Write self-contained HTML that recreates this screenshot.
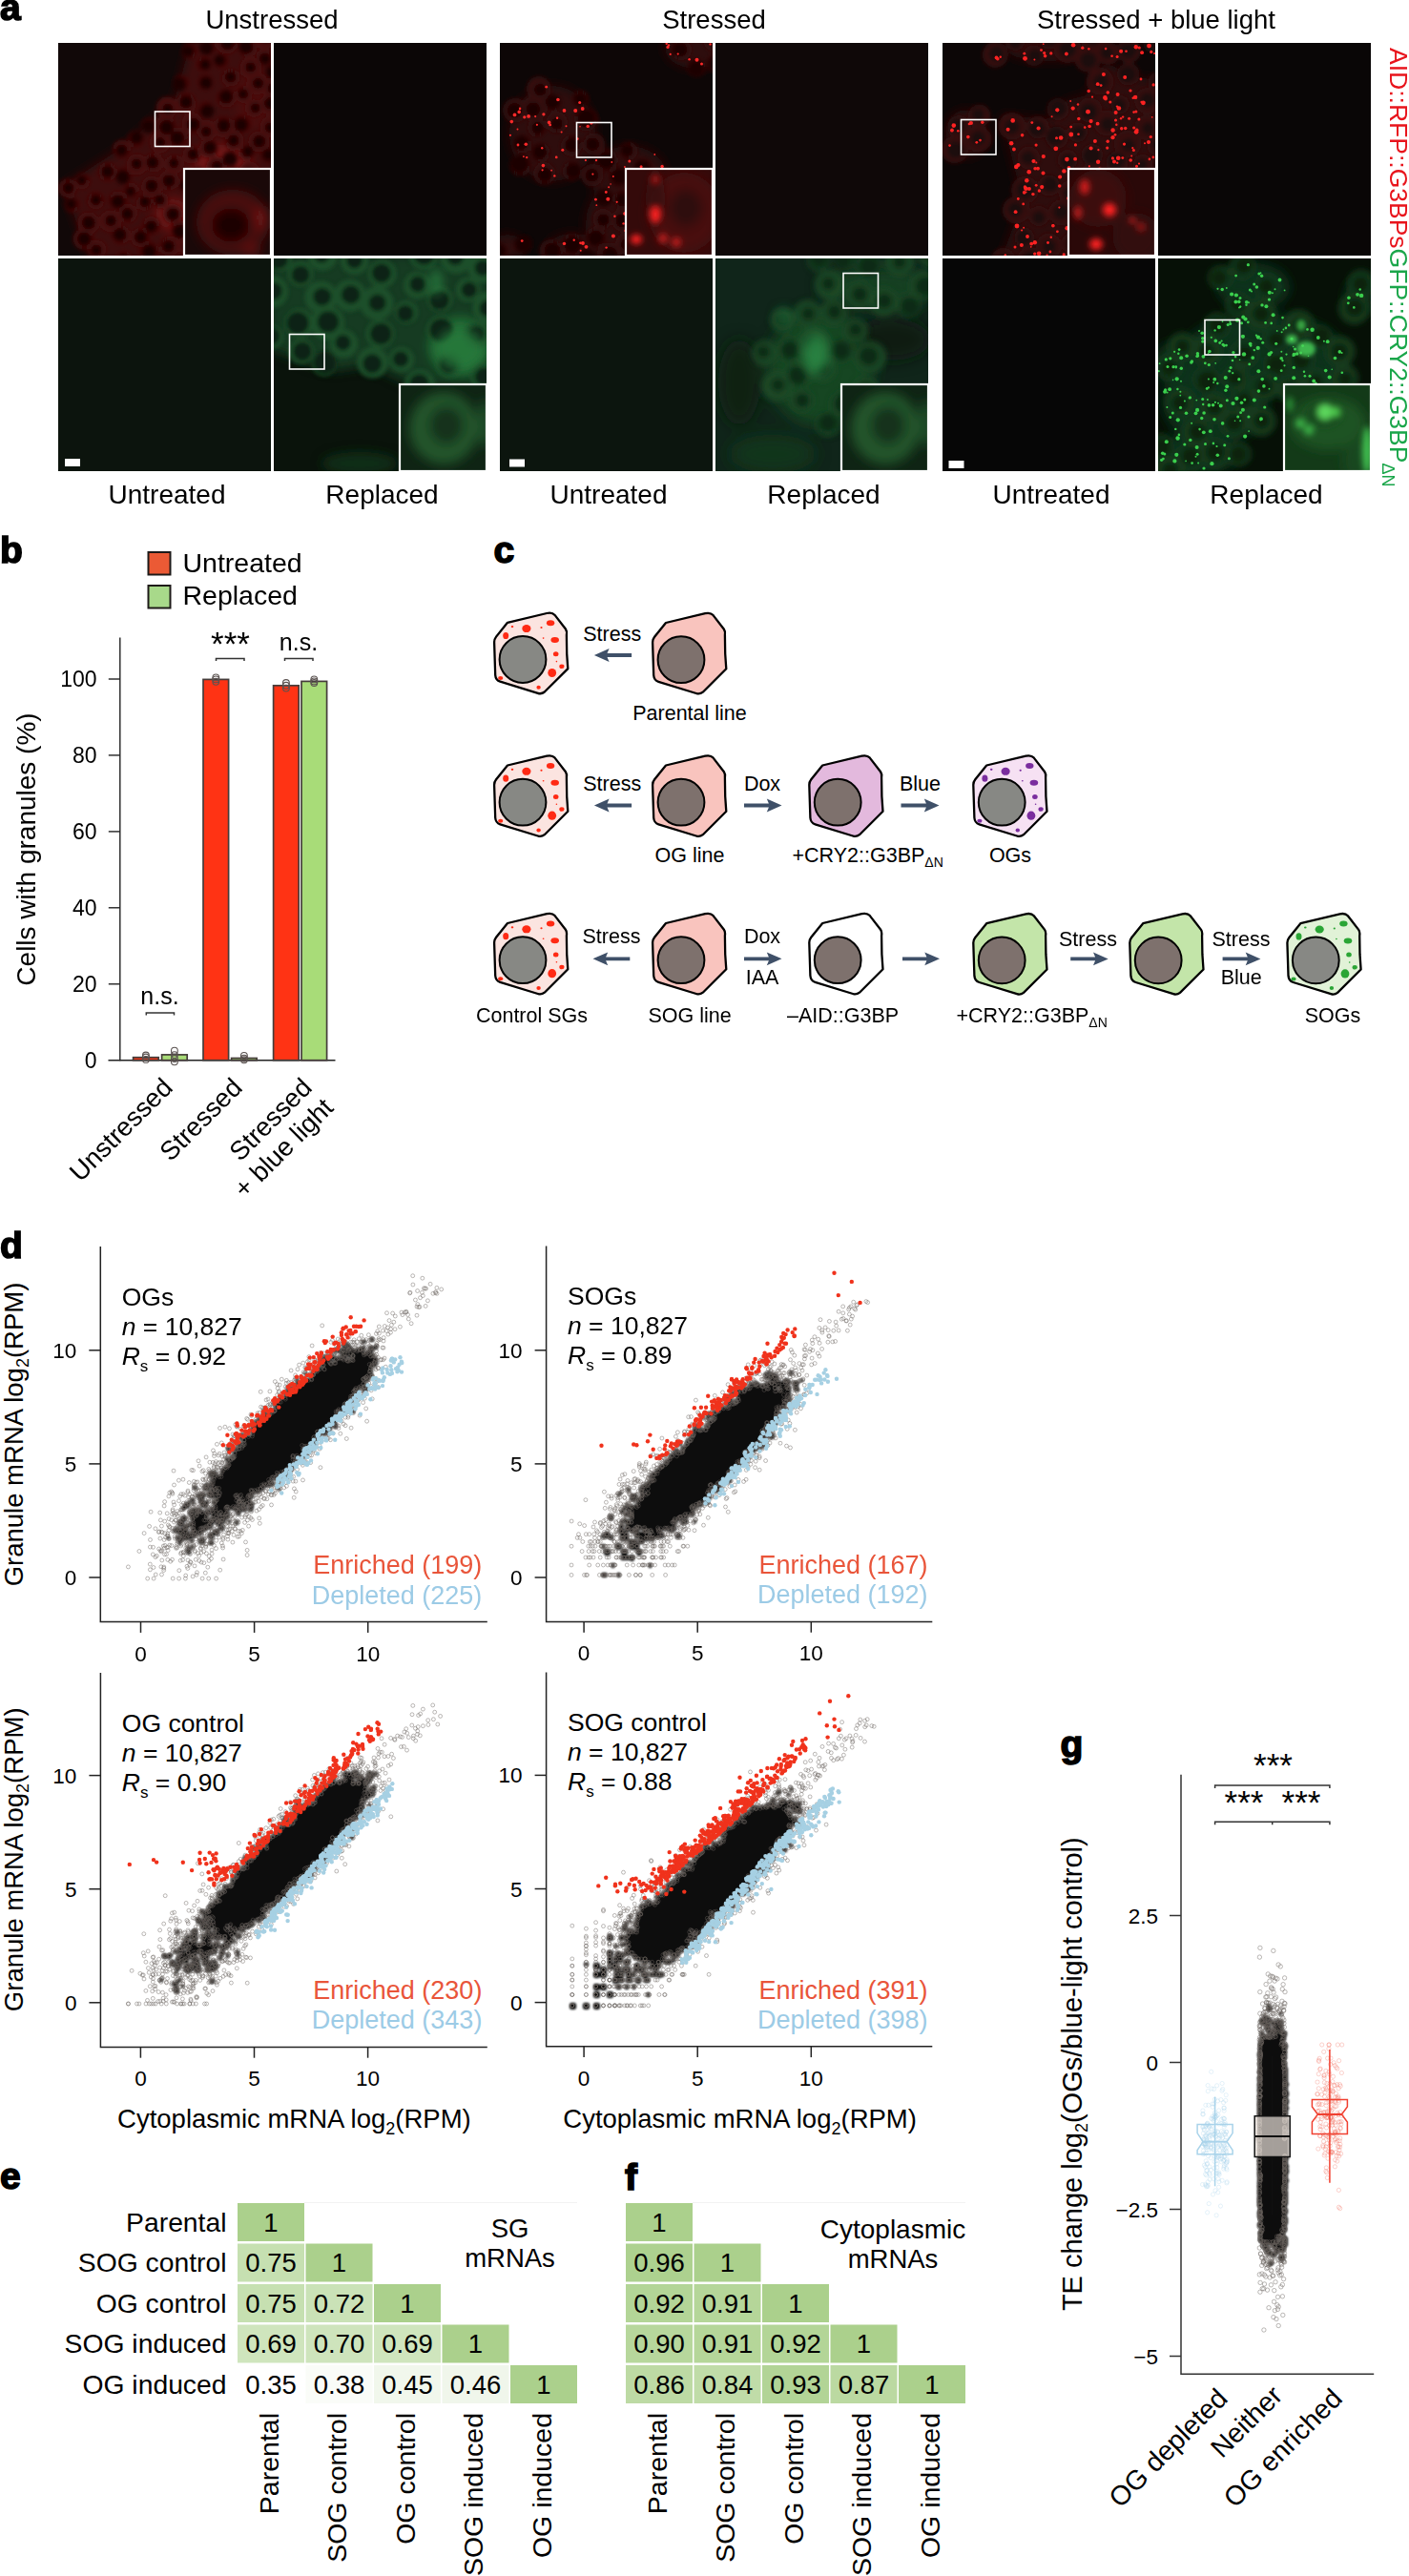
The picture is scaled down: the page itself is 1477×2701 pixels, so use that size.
<!DOCTYPE html>
<html><head><meta charset="utf-8"><title>Figure</title>
<style>
html,body{margin:0;padding:0;background:#fff;}
body{width:1477px;height:2701px;overflow:hidden;}
svg{display:block;font-family:"Liberation Sans", sans-serif;}
</style></head><body>
<svg width="1477" height="2701" viewBox="0 0 1477 2701">
<rect width="1477" height="2701" fill="#fff"/>
<defs>
<filter id="b1" x="-50%" y="-50%" width="200%" height="200%"><feGaussianBlur stdDeviation="0.6"/></filter>
<filter id="b2" x="-50%" y="-50%" width="200%" height="200%"><feGaussianBlur stdDeviation="2"/></filter>
<filter id="b3" x="-50%" y="-50%" width="200%" height="200%"><feGaussianBlur stdDeviation="3"/></filter>
<filter id="b6" x="-50%" y="-50%" width="200%" height="200%"><feGaussianBlur stdDeviation="6"/></filter>
<filter id="b8" x="-50%" y="-50%" width="200%" height="200%"><feGaussianBlur stdDeviation="8"/></filter>
</defs>
<clipPath id="cpg1tl"><rect x="61" y="45" width="223" height="223"/></clipPath>
<g clip-path="url(#cpg1tl)"><g transform="translate(61 45)"><rect x="0" y="0" width="223" height="223" fill="#110808"/><g filter="url(#b6)"><polygon points="140,-5 230,-5 230,230 35,230 5,150 70,108 122,60" fill="#3d0c0c"/><ellipse cx="172" cy="125" rx="30" ry="18" fill="#7a1616" opacity="0.85"/><ellipse cx="120" cy="180" rx="18" ry="16" fill="#801818" opacity="0.75"/><ellipse cx="205" cy="60" rx="20" ry="30" fill="#4e0f0f" opacity="0.8"/><ellipse cx="140" cy="200" rx="25" ry="20" fill="#5a1010" opacity="0.7"/></g><g filter="url(#b2)"><circle cx="100.4" cy="125.4" r="10.1" fill="#4a0e0e"/><circle cx="210.3" cy="103.5" r="10.9" fill="#4a0e0e"/><circle cx="141.8" cy="179.8" r="8.5" fill="#4a0e0e"/><circle cx="156.6" cy="4.8" r="7.9" fill="#4a0e0e"/><circle cx="223.9" cy="219.8" r="9.3" fill="#4a0e0e"/><circle cx="147.4" cy="138.4" r="8.2" fill="#4a0e0e"/><circle cx="97.6" cy="191.3" r="9.3" fill="#4a0e0e"/><circle cx="116" cy="144.2" r="10.4" fill="#4a0e0e"/><circle cx="190.8" cy="159.9" r="8.4" fill="#4a0e0e"/><circle cx="173.5" cy="88.3" r="10.8" fill="#4a0e0e"/><circle cx="192.3" cy="85.1" r="9.5" fill="#4a0e0e"/><circle cx="218.2" cy="192.4" r="9.5" fill="#4a0e0e"/><circle cx="223.4" cy="87.6" r="11.4" fill="#4a0e0e"/><circle cx="176.4" cy="57.9" r="9.8" fill="#4a0e0e"/><circle cx="219.6" cy="171.6" r="8.2" fill="#4a0e0e"/><circle cx="180.7" cy="36.4" r="9.4" fill="#4a0e0e"/><circle cx="125.3" cy="99.2" r="10.5" fill="#4a0e0e"/><circle cx="39.4" cy="165.5" r="9" fill="#4a0e0e"/><circle cx="25.5" cy="145" r="7.9" fill="#4a0e0e"/><circle cx="65.9" cy="201.2" r="9.6" fill="#4a0e0e"/><circle cx="51.6" cy="135.1" r="9.7" fill="#4a0e0e"/><circle cx="81.6" cy="100.6" r="8.7" fill="#4a0e0e"/><circle cx="128.9" cy="196.9" r="10.3" fill="#4a0e0e"/><circle cx="167.3" cy="214.1" r="8.2" fill="#4a0e0e"/><circle cx="40.8" cy="216.4" r="9.5" fill="#4a0e0e"/><circle cx="200.6" cy="135.6" r="11.1" fill="#4a0e0e"/><circle cx="54.9" cy="186.9" r="11.4" fill="#4a0e0e"/><circle cx="134" cy="63.4" r="10.6" fill="#4a0e0e"/><circle cx="208.7" cy="42.5" r="11.4" fill="#4a0e0e"/><circle cx="223.5" cy="148.1" r="10.4" fill="#4a0e0e"/><circle cx="107.4" cy="165.2" r="8.3" fill="#4a0e0e"/><circle cx="69.3" cy="227.9" r="9.2" fill="#4a0e0e"/><circle cx="166.7" cy="159" r="10.3" fill="#4a0e0e"/><circle cx="77" cy="154.6" r="7.7" fill="#4a0e0e"/><circle cx="140.6" cy="84.1" r="10.9" fill="#4a0e0e"/><circle cx="166.3" cy="130.4" r="11.1" fill="#4a0e0e"/><circle cx="14.5" cy="169.8" r="7.7" fill="#4a0e0e"/><circle cx="157.7" cy="110.9" r="9.7" fill="#4a0e0e"/><circle cx="190" cy="192.8" r="9.9" fill="#4a0e0e"/><circle cx="198.4" cy="4.7" r="9.8" fill="#4a0e0e"/><circle cx="154.5" cy="41.4" r="7.8" fill="#4a0e0e"/><circle cx="82.8" cy="127.5" r="10.9" fill="#4a0e0e"/><circle cx="163.2" cy="185.7" r="8.5" fill="#4a0e0e"/><circle cx="144.5" cy="162.2" r="7.8" fill="#4a0e0e"/><circle cx="120.1" cy="179.3" r="10.2" fill="#4a0e0e"/><circle cx="73.1" cy="178.6" r="9.8" fill="#4a0e0e"/><circle cx="216.2" cy="15" r="8.5" fill="#4a0e0e"/><circle cx="62.6" cy="164.8" r="9.6" fill="#4a0e0e"/><circle cx="220.6" cy="117.1" r="8.4" fill="#4a0e0e"/><circle cx="128.5" cy="41.8" r="8.1" fill="#4a0e0e"/><circle cx="176.6" cy="0.3" r="11.2" fill="#4a0e0e"/><circle cx="155.1" cy="70" r="7.9" fill="#4a0e0e"/><circle cx="205.3" cy="68.6" r="9.4" fill="#4a0e0e"/><circle cx="201.8" cy="26.2" r="11.3" fill="#4a0e0e"/><circle cx="190.8" cy="225.7" r="7.8" fill="#4a0e0e"/><circle cx="137.4" cy="8.6" r="8.3" fill="#4a0e0e"/><circle cx="85.9" cy="204.1" r="10" fill="#4a0e0e"/><circle cx="116.9" cy="213.4" r="10.4" fill="#4a0e0e"/><circle cx="98.2" cy="150.6" r="10.8" fill="#4a0e0e"/><circle cx="183.5" cy="140.3" r="10.9" fill="#4a0e0e"/><circle cx="147.3" cy="225.5" r="7.7" fill="#4a0e0e"/><circle cx="180.7" cy="121" r="7.8" fill="#4a0e0e"/><circle cx="121.8" cy="127.2" r="10" fill="#4a0e0e"/><circle cx="197.5" cy="115.3" r="8" fill="#4a0e0e"/><circle cx="106.9" cy="104.2" r="10.9" fill="#4a0e0e"/><circle cx="31.7" cy="188.9" r="11.3" fill="#4a0e0e"/><circle cx="26.6" cy="205.6" r="10.8" fill="#4a0e0e"/><circle cx="112.1" cy="87.4" r="11" fill="#4a0e0e"/><circle cx="150.1" cy="196.9" r="7.8" fill="#4a0e0e"/><circle cx="216.6" cy="-4.9" r="11.2" fill="#4a0e0e"/><circle cx="66.7" cy="111.1" r="9.4" fill="#4a0e0e"/><circle cx="139.7" cy="117.4" r="9.3" fill="#4a0e0e"/><circle cx="222.3" cy="64.5" r="11.1" fill="#4a0e0e"/><circle cx="94.7" cy="86.4" r="7.7" fill="#4a0e0e"/><circle cx="95.2" cy="219.3" r="10.4" fill="#4a0e0e"/><circle cx="225.5" cy="29.5" r="8" fill="#4a0e0e"/><circle cx="170.5" cy="18.8" r="7.6" fill="#4a0e0e"/><circle cx="204.6" cy="210.3" r="10.2" fill="#4a0e0e"/><circle cx="179" cy="177.3" r="7.9" fill="#4a0e0e"/><circle cx="114.2" cy="67.7" r="11.2" fill="#4a0e0e"/><circle cx="10" cy="152.3" r="9.7" fill="#4a0e0e"/><circle cx="183.8" cy="209.4" r="10" fill="#4a0e0e"/><circle cx="153" cy="22.1" r="7.7" fill="#4a0e0e"/><circle cx="135.7" cy="212.9" r="9.3" fill="#4a0e0e"/><circle cx="133.5" cy="149" r="7.7" fill="#4a0e0e"/><circle cx="200.5" cy="174.7" r="8.5" fill="#4a0e0e"/><circle cx="90.1" cy="167.5" r="8.4" fill="#4a0e0e"/><circle cx="184.4" cy="102.6" r="10" fill="#4a0e0e"/><circle cx="156" cy="91.7" r="10.6" fill="#4a0e0e"/><circle cx="226.2" cy="47.2" r="11.2" fill="#4a0e0e"/><circle cx="194.6" cy="54.1" r="8.8" fill="#4a0e0e"/><circle cx="208.4" cy="157.2" r="9.7" fill="#4a0e0e"/><circle cx="68.7" cy="139.4" r="8.6" fill="#4a0e0e"/><circle cx="98.9" cy="125.3" r="6.5" fill="#1e0606"/><circle cx="210.7" cy="103.3" r="6.8" fill="#1e0606"/><circle cx="141" cy="179.7" r="5.6" fill="#1e0606"/><circle cx="155.5" cy="5" r="7.5" fill="#1e0606"/><circle cx="224.8" cy="219" r="5.8" fill="#1e0606"/><circle cx="146.6" cy="139" r="7.7" fill="#1e0606"/><circle cx="97.4" cy="192.5" r="6.5" fill="#1e0606"/><circle cx="116.1" cy="144.6" r="6.7" fill="#1e0606"/><circle cx="189.7" cy="161.1" r="6.2" fill="#1e0606"/><circle cx="173.5" cy="86.8" r="7.1" fill="#1e0606"/><circle cx="191.9" cy="85.7" r="7.4" fill="#1e0606"/><circle cx="218.4" cy="193.4" r="5.4" fill="#1e0606"/><circle cx="222.1" cy="88.8" r="5.5" fill="#1e0606"/><circle cx="176" cy="56.6" r="7.3" fill="#1e0606"/><circle cx="219.4" cy="170.4" r="6.4" fill="#1e0606"/><circle cx="180.7" cy="35.8" r="6" fill="#1e0606"/><circle cx="125" cy="99.8" r="7.6" fill="#1e0606"/><circle cx="39.5" cy="164.8" r="5.7" fill="#1e0606"/><circle cx="24.7" cy="143.9" r="5.4" fill="#1e0606"/><circle cx="64.6" cy="201" r="7.2" fill="#1e0606"/><circle cx="51.6" cy="134.9" r="6.7" fill="#1e0606"/><circle cx="81.9" cy="99.6" r="7" fill="#1e0606"/><circle cx="127.6" cy="197.6" r="7.5" fill="#1e0606"/><circle cx="168.6" cy="214.1" r="6.6" fill="#1e0606"/><circle cx="39.9" cy="217.2" r="6" fill="#1e0606"/><circle cx="199.8" cy="137.1" r="6.6" fill="#1e0606"/><circle cx="55.2" cy="186.3" r="6" fill="#1e0606"/><circle cx="134" cy="61.9" r="7" fill="#1e0606"/><circle cx="209.6" cy="42.3" r="5.8" fill="#1e0606"/><circle cx="223.5" cy="148.5" r="6" fill="#1e0606"/><circle cx="106.3" cy="164.4" r="5.4" fill="#1e0606"/><circle cx="68.6" cy="226.8" r="5.9" fill="#1e0606"/><circle cx="168.2" cy="160.4" r="7.6" fill="#1e0606"/><circle cx="75.9" cy="155.6" r="5.3" fill="#1e0606"/><circle cx="141.5" cy="85.5" r="7.1" fill="#1e0606"/><circle cx="166.5" cy="129.3" r="5.8" fill="#1e0606"/><circle cx="13.6" cy="169.1" r="6" fill="#1e0606"/><circle cx="159.1" cy="109.7" r="6.9" fill="#1e0606"/><circle cx="189.1" cy="191.6" r="7.7" fill="#1e0606"/><circle cx="197" cy="3.9" r="7.8" fill="#1e0606"/><circle cx="154.8" cy="41.7" r="6.8" fill="#1e0606"/><circle cx="82.2" cy="126.8" r="5.7" fill="#1e0606"/><circle cx="164.6" cy="185.1" r="6.8" fill="#1e0606"/><circle cx="143.8" cy="163.7" r="6.9" fill="#1e0606"/><circle cx="120.2" cy="179.6" r="6.6" fill="#1e0606"/><circle cx="72.5" cy="179.2" r="6.4" fill="#1e0606"/><circle cx="216.7" cy="16.5" r="6.2" fill="#1e0606"/><circle cx="62.6" cy="166.2" r="7.3" fill="#1e0606"/><circle cx="220.4" cy="117.3" r="6.7" fill="#1e0606"/><circle cx="127" cy="43.1" r="7.5" fill="#1e0606"/><circle cx="177.6" cy="-0.3" r="7.7" fill="#1e0606"/><circle cx="156.1" cy="71.5" r="7.4" fill="#1e0606"/><circle cx="206.6" cy="68.1" r="5.2" fill="#1e0606"/><circle cx="201.7" cy="25.5" r="5.5" fill="#1e0606"/><circle cx="189.6" cy="226.6" r="5.3" fill="#1e0606"/><circle cx="136.1" cy="8.6" r="6.7" fill="#1e0606"/><circle cx="86.5" cy="203.6" r="6.8" fill="#1e0606"/><circle cx="115.6" cy="213.2" r="6.5" fill="#1e0606"/><circle cx="97.9" cy="149.7" r="6.7" fill="#1e0606"/><circle cx="184.9" cy="141.2" r="7.5" fill="#1e0606"/><circle cx="147" cy="224.1" r="5.3" fill="#1e0606"/><circle cx="180" cy="121.9" r="7.7" fill="#1e0606"/><circle cx="121.2" cy="125.9" r="5.3" fill="#1e0606"/><circle cx="198.8" cy="113.9" r="6.1" fill="#1e0606"/><circle cx="107" cy="104.2" r="5.4" fill="#1e0606"/><circle cx="31.9" cy="188.6" r="7.3" fill="#1e0606"/><circle cx="27.2" cy="205.6" r="7.7" fill="#1e0606"/><circle cx="113.6" cy="88.4" r="7.8" fill="#1e0606"/><circle cx="150.1" cy="196.5" r="7.4" fill="#1e0606"/><circle cx="218" cy="-6.3" r="6.6" fill="#1e0606"/><circle cx="66.4" cy="112.5" r="6.5" fill="#1e0606"/><circle cx="141.1" cy="116.7" r="5.8" fill="#1e0606"/><circle cx="222.4" cy="63.3" r="6.6" fill="#1e0606"/><circle cx="94.8" cy="87.3" r="7.4" fill="#1e0606"/><circle cx="95.3" cy="218.7" r="7.7" fill="#1e0606"/><circle cx="224.8" cy="30.6" r="7.2" fill="#1e0606"/><circle cx="169.5" cy="18.3" r="6.2" fill="#1e0606"/><circle cx="203.7" cy="211.7" r="5.8" fill="#1e0606"/><circle cx="179" cy="178.2" r="7.3" fill="#1e0606"/><circle cx="114.8" cy="69.2" r="5.9" fill="#1e0606"/><circle cx="10.6" cy="152.1" r="6.3" fill="#1e0606"/><circle cx="184.6" cy="209.4" r="6.8" fill="#1e0606"/><circle cx="153.9" cy="22.6" r="5.8" fill="#1e0606"/><circle cx="136.5" cy="214.3" r="5.4" fill="#1e0606"/><circle cx="132.7" cy="149.2" r="5.7" fill="#1e0606"/><circle cx="200" cy="175.7" r="5.9" fill="#1e0606"/><circle cx="90.8" cy="166.6" r="5.7" fill="#1e0606"/><circle cx="183.7" cy="102.2" r="6.1" fill="#1e0606"/><circle cx="155.1" cy="93.1" r="5.5" fill="#1e0606"/><circle cx="225" cy="47.6" r="5.7" fill="#1e0606"/><circle cx="193.9" cy="53.4" r="5.3" fill="#1e0606"/><circle cx="208.7" cy="158.5" r="7" fill="#1e0606"/><circle cx="67.8" cy="140.6" r="7.5" fill="#1e0606"/></g></g></g>
<clipPath id="cpg1tr"><rect x="287" y="45" width="223" height="223"/></clipPath>
<g clip-path="url(#cpg1tr)"><g transform="translate(287 45)"><rect x="0" y="0" width="223" height="223" fill="#0b0606"/></g></g>
<clipPath id="cpg1bl"><rect x="61" y="271" width="223" height="223"/></clipPath>
<g clip-path="url(#cpg1bl)"><g transform="translate(61 271)"><rect x="0" y="0" width="223" height="223" fill="#0c140d"/></g></g>
<clipPath id="cpg1br"><rect x="287" y="271" width="223" height="223"/></clipPath>
<g clip-path="url(#cpg1br)"><g transform="translate(287 271)"><rect x="0" y="0" width="223" height="223" fill="#0a130b"/><g filter="url(#b6)"><polygon points="-5,-5 230,-5 230,135 150,135 100,112 60,118 -5,95" fill="#173a20"/><ellipse cx="195" cy="92" rx="32" ry="30" fill="#237038" opacity="0.9"/><ellipse cx="90" cy="215" rx="40" ry="12" fill="#143318" opacity="0.8"/></g><g filter="url(#b2)"><circle cx="150.3" cy="28.2" r="14.2" fill="#1f5029"/><circle cx="-2.5" cy="82.3" r="12.2" fill="#1f5029"/><circle cx="28.9" cy="97.5" r="13.1" fill="#1f5029"/><circle cx="73.5" cy="89.3" r="14.7" fill="#1f5029"/><circle cx="191.3" cy="-0.7" r="16.7" fill="#1f5029"/><circle cx="113.6" cy="16.2" r="14.7" fill="#1f5029"/><circle cx="26.5" cy="67.8" r="15" fill="#1f5029"/><circle cx="133.9" cy="106.1" r="13.1" fill="#1f5029"/><circle cx="84.6" cy="2.1" r="14.8" fill="#1f5029"/><circle cx="183.8" cy="111.5" r="13.8" fill="#1f5029"/><circle cx="79.9" cy="39.1" r="16.8" fill="#1f5029"/><circle cx="174.6" cy="74.6" r="14.3" fill="#1f5029"/><circle cx="51.3" cy="-3" r="15.7" fill="#1f5029"/><circle cx="203.4" cy="32.8" r="12.7" fill="#1f5029"/><circle cx="28" cy="16.1" r="13.3" fill="#1f5029"/><circle cx="212.8" cy="80.2" r="14.6" fill="#1f5029"/><circle cx="221.6" cy="124.1" r="15.4" fill="#1f5029"/><circle cx="111.5" cy="79.1" r="14.9" fill="#1f5029"/><circle cx="138.9" cy="56.3" r="12.1" fill="#1f5029"/><circle cx="-2" cy="34.9" r="17" fill="#1f5029"/><circle cx="49.3" cy="40.7" r="17" fill="#1f5029"/><circle cx="218.6" cy="10.4" r="15.2" fill="#1f5029"/><circle cx="153" cy="132.6" r="16.1" fill="#1f5029"/><circle cx="157" cy="-3.7" r="15.2" fill="#1f5029"/><circle cx="6" cy="0.3" r="13" fill="#1f5029"/><circle cx="103.5" cy="109.1" r="16.3" fill="#1f5029"/><circle cx="52.8" cy="110.6" r="12.6" fill="#1f5029"/><circle cx="107.9" cy="46.9" r="17.6" fill="#1f5029"/><circle cx="174.1" cy="42.7" r="13.4" fill="#1f5029"/><circle cx="225.7" cy="52" r="17.2" fill="#1f5029"/><circle cx="56.3" cy="67.7" r="17.8" fill="#1f5029"/><circle cx="150.9" cy="27" r="8.5" fill="#0e2412"/><circle cx="-3.2" cy="81.4" r="9.6" fill="#0e2412"/><circle cx="29.9" cy="97.4" r="10" fill="#0e2412"/><circle cx="72.5" cy="88.2" r="8.2" fill="#0e2412"/><circle cx="190.2" cy="-1.6" r="8.6" fill="#0e2412"/><circle cx="112.9" cy="15.3" r="10.1" fill="#0e2412"/><circle cx="25.1" cy="67.7" r="11.6" fill="#0e2412"/><circle cx="133" cy="105.5" r="8.3" fill="#0e2412"/><circle cx="84.6" cy="1.9" r="8.5" fill="#0e2412"/><circle cx="183.3" cy="111" r="9.2" fill="#0e2412"/><circle cx="80.7" cy="37.9" r="9.8" fill="#0e2412"/><circle cx="175.4" cy="75" r="11.9" fill="#0e2412"/><circle cx="50.3" cy="-3.9" r="8.3" fill="#0e2412"/><circle cx="204.8" cy="33" r="8.2" fill="#0e2412"/><circle cx="28.1" cy="17" r="9.6" fill="#0e2412"/><circle cx="212.2" cy="79.6" r="8.9" fill="#0e2412"/><circle cx="220.5" cy="123.9" r="9.8" fill="#0e2412"/><circle cx="112.3" cy="79" r="11.3" fill="#0e2412"/><circle cx="137.9" cy="57.5" r="8.7" fill="#0e2412"/><circle cx="-0.6" cy="34.1" r="9.3" fill="#0e2412"/><circle cx="50.7" cy="40.1" r="9.4" fill="#0e2412"/><circle cx="219" cy="10" r="8.4" fill="#0e2412"/><circle cx="152.4" cy="131.2" r="10.3" fill="#0e2412"/><circle cx="157.6" cy="-4.3" r="11.2" fill="#0e2412"/><circle cx="4.5" cy="0.6" r="10.6" fill="#0e2412"/><circle cx="103.2" cy="110.3" r="10.1" fill="#0e2412"/><circle cx="53.4" cy="109.6" r="11.9" fill="#0e2412"/><circle cx="108.6" cy="46.5" r="9" fill="#0e2412"/><circle cx="173.6" cy="43.6" r="10.4" fill="#0e2412"/><circle cx="224.6" cy="52.3" r="9" fill="#0e2412"/><circle cx="57" cy="66.5" r="11.3" fill="#0e2412"/></g><g filter="url(#b6)"><ellipse cx="195" cy="95" rx="25" ry="22" fill="#267a3c" opacity="0.8"/><ellipse cx="170" cy="25" rx="6" ry="14" fill="#2a8a45" opacity="0.8"/></g></g></g>
<clipPath id="cpg2tl"><rect x="524" y="45" width="223" height="223"/></clipPath>
<g clip-path="url(#cpg2tl)"><g transform="translate(524 45)"><rect x="0" y="0" width="223" height="223" fill="#0d0606"/><g filter="url(#b6)" fill="#2e0a0a"><ellipse cx="55" cy="95" rx="45" ry="50"/><ellipse cx="135" cy="140" rx="40" ry="32"/><ellipse cx="115" cy="190" rx="25" ry="38"/><ellipse cx="205" cy="5" rx="32" ry="22"/><ellipse cx="75" cy="215" rx="25" ry="15"/><ellipse cx="8" cy="215" rx="18" ry="14"/></g><g filter="url(#b2)"><circle cx="24.1" cy="211.2" r="9.3" fill="#361010"/><circle cx="74.9" cy="107.9" r="10.8" fill="#361010"/><circle cx="130.3" cy="165" r="10.6" fill="#361010"/><circle cx="23.5" cy="106" r="9.6" fill="#361010"/><circle cx="90.4" cy="80.1" r="12.2" fill="#361010"/><circle cx="46.7" cy="136.9" r="11.4" fill="#361010"/><circle cx="124.7" cy="140.1" r="10.4" fill="#361010"/><circle cx="76.1" cy="211" r="11.1" fill="#361010"/><circle cx="75.8" cy="134.2" r="10" fill="#361010"/><circle cx="154.2" cy="152.5" r="10.2" fill="#361010"/><circle cx="89.8" cy="225.5" r="10.6" fill="#361010"/><circle cx="190" cy="7.2" r="10.8" fill="#361010"/><circle cx="55.1" cy="62.5" r="9" fill="#361010"/><circle cx="53.8" cy="218.4" r="12.1" fill="#361010"/><circle cx="206" cy="26.1" r="9.6" fill="#361010"/><circle cx="112.2" cy="123" r="11.4" fill="#361010"/><circle cx="135.1" cy="113.4" r="9.3" fill="#361010"/><circle cx="109.6" cy="162.1" r="9.5" fill="#361010"/><circle cx="225.5" cy="-3.5" r="12.2" fill="#361010"/><circle cx="59.6" cy="83.3" r="11.1" fill="#361010"/><circle cx="96.8" cy="138.8" r="11.6" fill="#361010"/><circle cx="84.6" cy="58.5" r="8.8" fill="#361010"/><circle cx="100.8" cy="203.4" r="10.5" fill="#361010"/><circle cx="38.7" cy="88.9" r="9.6" fill="#361010"/><circle cx="149.8" cy="130.5" r="9.3" fill="#361010"/><circle cx="40.9" cy="48" r="12.7" fill="#361010"/><circle cx="129.4" cy="185.6" r="12.4" fill="#361010"/><circle cx="16.1" cy="70.7" r="12.8" fill="#361010"/><circle cx="42.7" cy="114.8" r="9.8" fill="#361010"/><circle cx="107.8" cy="184.3" r="10.4" fill="#361010"/><circle cx="114.3" cy="222.2" r="12.6" fill="#361010"/><circle cx="132.4" cy="210.5" r="11.2" fill="#361010"/><circle cx="-2" cy="219.2" r="9.7" fill="#361010"/><circle cx="225.7" cy="21.4" r="9.2" fill="#361010"/><circle cx="21.4" cy="128.2" r="11.1" fill="#361010"/><circle cx="98.7" cy="106.2" r="11.4" fill="#361010"/><circle cx="172.3" cy="141.8" r="9.6" fill="#361010"/><circle cx="36.1" cy="69" r="13.1" fill="#361010"/><circle cx="25.3" cy="210.5" r="9.4" fill="#1a0606"/><circle cx="75.7" cy="106.9" r="7.7" fill="#1a0606"/><circle cx="129.2" cy="164.6" r="7.4" fill="#1a0606"/><circle cx="22.4" cy="104.8" r="7.5" fill="#1a0606"/><circle cx="90.6" cy="79.1" r="9.5" fill="#1a0606"/><circle cx="47.1" cy="138.1" r="7.5" fill="#1a0606"/><circle cx="125.5" cy="140.1" r="8.8" fill="#1a0606"/><circle cx="76.2" cy="211.5" r="8.9" fill="#1a0606"/><circle cx="76.9" cy="134.2" r="7.9" fill="#1a0606"/><circle cx="154.2" cy="153.9" r="6.5" fill="#1a0606"/><circle cx="91" cy="225.1" r="9.1" fill="#1a0606"/><circle cx="189" cy="7.1" r="7.8" fill="#1a0606"/><circle cx="55.4" cy="61.7" r="7.7" fill="#1a0606"/><circle cx="54.9" cy="217.7" r="8.8" fill="#1a0606"/><circle cx="205.7" cy="26.9" r="8.1" fill="#1a0606"/><circle cx="111.5" cy="123" r="9.3" fill="#1a0606"/><circle cx="133.6" cy="112.7" r="6.5" fill="#1a0606"/><circle cx="108.7" cy="162.4" r="9" fill="#1a0606"/><circle cx="226.1" cy="-3.6" r="7.7" fill="#1a0606"/><circle cx="59.6" cy="84.7" r="6.4" fill="#1a0606"/><circle cx="96.6" cy="138.8" r="7.2" fill="#1a0606"/><circle cx="84.4" cy="59" r="6.6" fill="#1a0606"/><circle cx="100.5" cy="204.5" r="8.3" fill="#1a0606"/><circle cx="39.5" cy="89.1" r="6.5" fill="#1a0606"/><circle cx="149.3" cy="131.4" r="8.7" fill="#1a0606"/><circle cx="42.3" cy="49.1" r="6.6" fill="#1a0606"/><circle cx="128.3" cy="186.3" r="7.4" fill="#1a0606"/><circle cx="15.3" cy="70.8" r="8" fill="#1a0606"/><circle cx="41.8" cy="114.4" r="7.5" fill="#1a0606"/><circle cx="108.4" cy="185.5" r="6.6" fill="#1a0606"/><circle cx="115.4" cy="221.7" r="8" fill="#1a0606"/><circle cx="133.4" cy="211.2" r="6.8" fill="#1a0606"/><circle cx="-1.2" cy="218" r="7.6" fill="#1a0606"/><circle cx="225.3" cy="21.9" r="7.1" fill="#1a0606"/><circle cx="20.6" cy="126.9" r="9.3" fill="#1a0606"/><circle cx="97.3" cy="106.1" r="7.2" fill="#1a0606"/><circle cx="173.1" cy="141.2" r="7.6" fill="#1a0606"/><circle cx="34.9" cy="69.6" r="7.5" fill="#1a0606"/></g><g filter="url(#b1)"><g fill="#ff2a2a"><circle cx="101" cy="123.1" r="1.2"/><circle cx="170.1" cy="129.5" r="1.7"/><circle cx="27.3" cy="106.2" r="1.8"/><circle cx="81.4" cy="100.6" r="1.3"/><circle cx="122.7" cy="166.8" r="1.1"/><circle cx="135.8" cy="124.1" r="1.5"/><circle cx="77.7" cy="206.7" r="1.2"/><circle cx="131.7" cy="196.9" r="1.4"/><circle cx="186.7" cy="11.6" r="1.1"/><circle cx="64.6" cy="93.6" r="1"/><circle cx="15.5" cy="75.4" r="1.9"/><circle cx="129.6" cy="189.4" r="1.2"/><circle cx="90.5" cy="213.8" r="1.9"/><circle cx="28.2" cy="120.1" r="1.2"/><circle cx="86.7" cy="69" r="1.9"/><circle cx="65.8" cy="112.2" r="1.5"/><circle cx="211.5" cy="22" r="1.5"/><circle cx="113.3" cy="163.8" r="2"/><circle cx="117.3" cy="125" r="0.9"/><circle cx="79.2" cy="70.9" r="2"/><circle cx="10.9" cy="96.8" r="1.1"/><circle cx="52.7" cy="85.9" r="1.4"/><circle cx="19" cy="107" r="1.4"/><circle cx="173.8" cy="139.8" r="1.7"/><circle cx="155.9" cy="152.3" r="1.1"/><circle cx="137.1" cy="183.9" r="2"/><circle cx="220.6" cy="1.4" r="1.2"/><circle cx="69.5" cy="87.2" r="1"/><circle cx="67.5" cy="210.4" r="1.7"/><circle cx="45.9" cy="74.8" r="1.6"/><circle cx="44.6" cy="133.3" r="1.1"/><circle cx="84.5" cy="209.8" r="1.4"/><circle cx="97.4" cy="137.6" r="1.1"/><circle cx="38.9" cy="85.8" r="1.1"/><circle cx="21.1" cy="68.9" r="1.3"/><circle cx="89.9" cy="123.1" r="1.1"/><circle cx="60.1" cy="78.7" r="1.2"/><circle cx="114.1" cy="151.2" r="1"/><circle cx="151.8" cy="145.7" r="1"/><circle cx="23.2" cy="207.6" r="1.4"/><circle cx="162.3" cy="117" r="0.9"/><circle cx="118.8" cy="140.1" r="1"/><circle cx="118.9" cy="202.6" r="2"/><circle cx="87" cy="210" r="1.9"/><circle cx="177" cy="2.5" r="1.2"/><circle cx="136.8" cy="135.4" r="1.7"/><circle cx="18.5" cy="90.4" r="1"/><circle cx="120.4" cy="181.7" r="1.2"/><circle cx="95.9" cy="84.3" r="1.4"/><circle cx="59.2" cy="119.9" r="1.4"/><circle cx="130.8" cy="179" r="1.7"/><circle cx="84" cy="87.8" r="0.8"/><circle cx="148.1" cy="129.7" r="1.5"/><circle cx="12.3" cy="82.6" r="1.8"/><circle cx="133.5" cy="154.5" r="1.8"/><circle cx="198.6" cy="17.2" r="1.2"/><circle cx="48.7" cy="46.2" r="1.4"/><circle cx="111.6" cy="214.6" r="1.2"/><circle cx="141.9" cy="141.8" r="1.2"/><circle cx="176" cy="4.4" r="1.6"/><circle cx="130.9" cy="130" r="0.9"/><circle cx="24.9" cy="119.2" r="0.9"/><circle cx="54.1" cy="133.7" r="0.9"/><circle cx="45.4" cy="128.6" r="1.8"/><circle cx="116.1" cy="148" r="0.8"/><circle cx="67.5" cy="70.9" r="1.9"/><circle cx="206.5" cy="17.8" r="2"/><circle cx="178.7" cy="11.9" r="1.1"/><circle cx="20.2" cy="72.4" r="1.8"/><circle cx="51.6" cy="83.4" r="1.8"/><circle cx="44.2" cy="110.3" r="1.2"/><circle cx="100.4" cy="164.2" r="1.4"/><circle cx="83.7" cy="62.5" r="1.5"/><circle cx="172.2" cy="150.7" r="2"/><circle cx="84.7" cy="217.7" r="1"/><circle cx="60.9" cy="59.5" r="1.8"/><circle cx="136.6" cy="165.9" r="1.7"/><circle cx="111.3" cy="156.5" r="1.4"/><circle cx="101.3" cy="170.2" r="0.9"/><circle cx="92.2" cy="87.4" r="1.7"/><circle cx="25.8" cy="77.8" r="1.6"/><circle cx="57.3" cy="139.4" r="1.2"/><circle cx="30.1" cy="76.9" r="1.9"/><circle cx="174.7" cy="0.8" r="1.2"/><circle cx="37.2" cy="77.1" r="1.1"/></g></g></g></g>
<clipPath id="cpg2tr"><rect x="750" y="45" width="223" height="223"/></clipPath>
<g clip-path="url(#cpg2tr)"><g transform="translate(750 45)"><rect x="0" y="0" width="223" height="223" fill="#0f0808"/></g></g>
<clipPath id="cpg2bl"><rect x="524" y="271" width="223" height="223"/></clipPath>
<g clip-path="url(#cpg2bl)"><g transform="translate(524 271)"><rect x="0" y="0" width="223" height="223" fill="#0c150e"/></g></g>
<clipPath id="cpg2br"><rect x="750" y="271" width="223" height="223"/></clipPath>
<g clip-path="url(#cpg2br)"><g transform="translate(750 271)"><rect x="0" y="0" width="223" height="223" fill="#10251a"/><g filter="url(#b8)"><ellipse cx="110" cy="115" rx="55" ry="60" fill="#1b4a26" opacity="0.9"/><ellipse cx="170" cy="30" rx="60" ry="22" fill="#1a4222" opacity="0.9"/><ellipse cx="185" cy="85" rx="40" ry="22" fill="#0c1c10" opacity="0.8"/><ellipse cx="25" cy="130" rx="22" ry="45" fill="#0d1f11" opacity="0.8"/><ellipse cx="60" cy="205" rx="45" ry="20" fill="#163a1e" opacity="0.7"/></g><g filter="url(#b3)"><circle cx="218.3" cy="27.7" r="14.2" fill="#1c4a26"/><circle cx="146.8" cy="75.5" r="12.2" fill="#1c4a26"/><circle cx="202.3" cy="49" r="12.6" fill="#1c4a26"/><circle cx="160" cy="6.3" r="12.6" fill="#1c4a26"/><circle cx="157.7" cy="137.7" r="13.5" fill="#1c4a26"/><circle cx="150.5" cy="38.1" r="13.6" fill="#1c4a26"/><circle cx="113" cy="115.5" r="13.5" fill="#1c4a26"/><circle cx="90.4" cy="149" r="11.8" fill="#1c4a26"/><circle cx="64.3" cy="133.8" r="15.7" fill="#1c4a26"/><circle cx="77.9" cy="95.6" r="12.6" fill="#1c4a26"/><circle cx="96.2" cy="57.7" r="13.6" fill="#1c4a26"/><circle cx="192.8" cy="2.7" r="15.2" fill="#1c4a26"/><circle cx="162.3" cy="103.2" r="16.3" fill="#1c4a26"/><circle cx="108.4" cy="2" r="11.3" fill="#1c4a26"/><circle cx="119.5" cy="27.6" r="14.8" fill="#1c4a26"/><circle cx="117.8" cy="173.9" r="12.5" fill="#1c4a26"/><circle cx="176.3" cy="45.6" r="14.5" fill="#1c4a26"/><circle cx="133.9" cy="152.6" r="13.1" fill="#1c4a26"/><circle cx="131" cy="97.5" r="11.7" fill="#1c4a26"/><circle cx="51.7" cy="99.3" r="13.2" fill="#1c4a26"/><circle cx="226.4" cy="-4.1" r="13.4" fill="#1c4a26"/><circle cx="102.8" cy="88.2" r="16.1" fill="#1c4a26"/><circle cx="124" cy="56.9" r="13.4" fill="#1c4a26"/><circle cx="134" cy="0.7" r="11.3" fill="#1c4a26"/><circle cx="70" cy="64.6" r="12.1" fill="#1c4a26"/><circle cx="87.7" cy="121" r="13.7" fill="#1c4a26"/><circle cx="219.7" cy="29" r="10.7" fill="#112a16"/><circle cx="146.8" cy="74.9" r="7.6" fill="#112a16"/><circle cx="203.3" cy="50" r="10.2" fill="#112a16"/><circle cx="160.6" cy="7.6" r="10.7" fill="#112a16"/><circle cx="157.5" cy="136.4" r="7.3" fill="#112a16"/><circle cx="151.2" cy="37.6" r="8.6" fill="#112a16"/><circle cx="111.7" cy="115.2" r="7.5" fill="#112a16"/><circle cx="90.9" cy="148.8" r="7.9" fill="#112a16"/><circle cx="65.5" cy="132.6" r="7.3" fill="#112a16"/><circle cx="78.2" cy="95.9" r="9.9" fill="#112a16"/><circle cx="97.2" cy="57.8" r="7.6" fill="#112a16"/><circle cx="192.9" cy="3.9" r="7.7" fill="#112a16"/><circle cx="160.9" cy="102.3" r="10.6" fill="#112a16"/><circle cx="108.5" cy="1.1" r="9.4" fill="#112a16"/><circle cx="118.2" cy="26.4" r="7.6" fill="#112a16"/><circle cx="117.9" cy="172.7" r="10.1" fill="#112a16"/><circle cx="177" cy="44.8" r="8.7" fill="#112a16"/><circle cx="134.6" cy="152.3" r="10.5" fill="#112a16"/><circle cx="131.7" cy="96.5" r="10.3" fill="#112a16"/><circle cx="50.2" cy="98" r="7.5" fill="#112a16"/><circle cx="226" cy="-5" r="9.4" fill="#112a16"/><circle cx="101.8" cy="89.2" r="8.5" fill="#112a16"/><circle cx="124.6" cy="56.1" r="8.1" fill="#112a16"/><circle cx="132.9" cy="1.4" r="10.2" fill="#112a16"/><circle cx="70.1" cy="64.3" r="8" fill="#112a16"/><circle cx="86.3" cy="122.3" r="10.2" fill="#112a16"/></g><g filter="url(#b6)"><ellipse cx="105" cy="100" rx="14" ry="22" fill="#2a8a45" opacity="0.85"/><ellipse cx="72" cy="62" rx="8" ry="10" fill="#23703a" opacity="0.7"/></g></g></g>
<clipPath id="cpg3tl"><rect x="988" y="45" width="223" height="223"/></clipPath>
<g clip-path="url(#cpg3tl)"><g transform="translate(988 45)"><rect x="0" y="0" width="223" height="223" fill="#0c0606"/><g filter="url(#b6)" fill="#2e0a0a"><polygon points="60,75 110,80 130,60 150,55 170,20 200,35 230,40 230,130 190,130 160,150 150,200 130,230 60,230 75,190 80,150 70,110"/><ellipse cx="25" cy="95" rx="22" ry="25"/><ellipse cx="110" cy="5" rx="45" ry="14"/><ellipse cx="200" cy="130" rx="25" ry="15"/></g><g filter="url(#b2)"><circle cx="86.5" cy="154.3" r="14.2" fill="#341010"/><circle cx="119.8" cy="99.3" r="11.6" fill="#341010"/><circle cx="91.1" cy="227.1" r="12.5" fill="#341010"/><circle cx="214" cy="88.9" r="12.7" fill="#341010"/><circle cx="131.3" cy="122.5" r="10.5" fill="#341010"/><circle cx="165" cy="40.2" r="14.2" fill="#341010"/><circle cx="72.9" cy="87.3" r="14.1" fill="#341010"/><circle cx="145.7" cy="189.8" r="12.1" fill="#341010"/><circle cx="152.2" cy="16.8" r="13.7" fill="#341010"/><circle cx="135.1" cy="157" r="13.2" fill="#341010"/><circle cx="17.3" cy="88" r="11.8" fill="#341010"/><circle cx="226.1" cy="40.9" r="10.3" fill="#341010"/><circle cx="101" cy="181.5" r="10.5" fill="#341010"/><circle cx="194" cy="105.8" r="13.9" fill="#341010"/><circle cx="76.2" cy="-2.4" r="10.3" fill="#341010"/><circle cx="186.2" cy="64.6" r="9.7" fill="#341010"/><circle cx="37.8" cy="101" r="13.6" fill="#341010"/><circle cx="156.9" cy="117.2" r="11" fill="#341010"/><circle cx="111.5" cy="213" r="13.2" fill="#341010"/><circle cx="121" cy="69.5" r="11.3" fill="#341010"/><circle cx="154.4" cy="70.4" r="13" fill="#341010"/><circle cx="90.3" cy="120.5" r="11.7" fill="#341010"/><circle cx="195.2" cy="8.3" r="12.6" fill="#341010"/><circle cx="100.1" cy="88.5" r="11.5" fill="#341010"/><circle cx="124.6" cy="177.8" r="13.2" fill="#341010"/><circle cx="95.7" cy="13.2" r="10.8" fill="#341010"/><circle cx="55.3" cy="12.4" r="13.3" fill="#341010"/><circle cx="85.7" cy="204.1" r="10.3" fill="#341010"/><circle cx="111.5" cy="149.5" r="11.1" fill="#341010"/><circle cx="194.8" cy="32.8" r="11.7" fill="#341010"/><circle cx="136.3" cy="210.1" r="11.3" fill="#341010"/><circle cx="210.2" cy="127.3" r="10.4" fill="#341010"/><circle cx="214.8" cy="60.7" r="13.4" fill="#341010"/><circle cx="157" cy="140.7" r="14.3" fill="#341010"/><circle cx="172" cy="83.9" r="13.2" fill="#341010"/><circle cx="141.5" cy="93.7" r="10.4" fill="#341010"/><circle cx="183.1" cy="125.2" r="11.4" fill="#341010"/><circle cx="158.4" cy="-4.9" r="13.5" fill="#341010"/><circle cx="130.7" cy="7" r="13.9" fill="#341010"/><circle cx="220.1" cy="0" r="10" fill="#341010"/><circle cx="63.7" cy="227.4" r="12.5" fill="#341010"/><circle cx="225.2" cy="107.8" r="10.5" fill="#341010"/><circle cx="12.6" cy="112" r="14.1" fill="#341010"/><circle cx="77.2" cy="175.3" r="14.1" fill="#341010"/><circle cx="38.7" cy="76.4" r="11.6" fill="#341010"/><circle cx="154.9" cy="169.8" r="12.7" fill="#341010"/><circle cx="173.6" cy="10.9" r="11.9" fill="#341010"/><circle cx="112.2" cy="-4.6" r="11.1" fill="#341010"/><circle cx="86.4" cy="154" r="9.5" fill="#1e0707"/><circle cx="118.5" cy="97.9" r="9.6" fill="#1e0707"/><circle cx="92" cy="226.6" r="8.6" fill="#1e0707"/><circle cx="215.3" cy="89.5" r="6.4" fill="#1e0707"/><circle cx="132" cy="124" r="7.5" fill="#1e0707"/><circle cx="166" cy="40.5" r="7.7" fill="#1e0707"/><circle cx="72.7" cy="88" r="7.7" fill="#1e0707"/><circle cx="144.8" cy="190.1" r="7" fill="#1e0707"/><circle cx="152.9" cy="18.1" r="8.6" fill="#1e0707"/><circle cx="134.5" cy="157.6" r="7.7" fill="#1e0707"/><circle cx="15.8" cy="86.8" r="8.1" fill="#1e0707"/><circle cx="227.1" cy="40.2" r="8.1" fill="#1e0707"/><circle cx="100.8" cy="183" r="6.7" fill="#1e0707"/><circle cx="194.7" cy="107.1" r="6.7" fill="#1e0707"/><circle cx="76.2" cy="-1.7" r="7.5" fill="#1e0707"/><circle cx="185.1" cy="65.6" r="7" fill="#1e0707"/><circle cx="37.4" cy="99.7" r="7.5" fill="#1e0707"/><circle cx="156.5" cy="118.5" r="9.4" fill="#1e0707"/><circle cx="112.1" cy="213.6" r="7.1" fill="#1e0707"/><circle cx="121" cy="68.8" r="9.1" fill="#1e0707"/><circle cx="153.2" cy="71.9" r="8.9" fill="#1e0707"/><circle cx="89.7" cy="120.5" r="7.1" fill="#1e0707"/><circle cx="194.6" cy="8" r="8.7" fill="#1e0707"/><circle cx="99" cy="89.9" r="8.5" fill="#1e0707"/><circle cx="124.2" cy="176.9" r="7.9" fill="#1e0707"/><circle cx="97" cy="13.9" r="7.5" fill="#1e0707"/><circle cx="56.7" cy="11.6" r="8.1" fill="#1e0707"/><circle cx="85.1" cy="204.4" r="8.2" fill="#1e0707"/><circle cx="112.7" cy="148.5" r="8.2" fill="#1e0707"/><circle cx="194.2" cy="32.8" r="9.1" fill="#1e0707"/><circle cx="137" cy="209.9" r="7.6" fill="#1e0707"/><circle cx="208.7" cy="127.7" r="6.5" fill="#1e0707"/><circle cx="214.9" cy="59.8" r="7.7" fill="#1e0707"/><circle cx="157.6" cy="141.3" r="9.3" fill="#1e0707"/><circle cx="173.3" cy="85.3" r="7.4" fill="#1e0707"/><circle cx="142.4" cy="94.6" r="7.5" fill="#1e0707"/><circle cx="182.3" cy="124" r="9.1" fill="#1e0707"/><circle cx="157.8" cy="-5.7" r="8.4" fill="#1e0707"/><circle cx="131" cy="6.5" r="9" fill="#1e0707"/><circle cx="218.7" cy="1.5" r="8.5" fill="#1e0707"/><circle cx="64.4" cy="228.4" r="8.2" fill="#1e0707"/><circle cx="226.4" cy="106.6" r="7.3" fill="#1e0707"/><circle cx="13.8" cy="112.3" r="8.8" fill="#1e0707"/><circle cx="76.3" cy="174.6" r="7.8" fill="#1e0707"/><circle cx="37.4" cy="75.1" r="6.8" fill="#1e0707"/><circle cx="155.3" cy="169.5" r="7.6" fill="#1e0707"/><circle cx="172.3" cy="10.5" r="6.5" fill="#1e0707"/><circle cx="112.4" cy="-4.7" r="8.5" fill="#1e0707"/></g><g filter="url(#b1)"><g fill="#ff2424"><circle cx="87.6" cy="152.5" r="1.1"/><circle cx="168.9" cy="32.9" r="2"/><circle cx="119.5" cy="99.8" r="1.5"/><circle cx="73.7" cy="81.4" r="2.3"/><circle cx="130.4" cy="122.1" r="2.3"/><circle cx="187" cy="79.3" r="1.2"/><circle cx="162.7" cy="43.2" r="1.9"/><circle cx="88.3" cy="144.2" r="2.2"/><circle cx="139.1" cy="121.7" r="1.9"/><circle cx="89" cy="203" r="1.9"/><circle cx="221.1" cy="43.9" r="1.6"/><circle cx="178.5" cy="99.2" r="2.1"/><circle cx="190.5" cy="106.1" r="1.6"/><circle cx="175.8" cy="62" r="1.5"/><circle cx="136.6" cy="141.9" r="1"/><circle cx="219.7" cy="77.8" r="0.9"/><circle cx="183" cy="66.6" r="1.2"/><circle cx="101.4" cy="155" r="1.7"/><circle cx="191.7" cy="89.5" r="1.7"/><circle cx="159.9" cy="102.9" r="2"/><circle cx="153.9" cy="129.3" r="1.1"/><circle cx="94.9" cy="158.6" r="1.7"/><circle cx="199.7" cy="57.7" r="1.2"/><circle cx="181.5" cy="81.1" r="1.5"/><circle cx="182.3" cy="85.7" r="1.2"/><circle cx="155.6" cy="82.1" r="2.1"/><circle cx="139.4" cy="106.9" r="1.6"/><circle cx="208.6" cy="61.9" r="1.2"/><circle cx="7.5" cy="107.6" r="1.3"/><circle cx="105.7" cy="1.2" r="0.9"/><circle cx="84.7" cy="168.9" r="1.4"/><circle cx="203.5" cy="129.2" r="1.5"/><circle cx="173.3" cy="52" r="1.8"/><circle cx="188.8" cy="120.6" r="1.4"/><circle cx="41.8" cy="83.2" r="1.7"/><circle cx="115.8" cy="191.4" r="1.4"/><circle cx="86.4" cy="151" r="1.7"/><circle cx="183.6" cy="54" r="2"/><circle cx="152.5" cy="72.2" r="2.4"/><circle cx="177.6" cy="13.8" r="1.3"/><circle cx="109.6" cy="222.6" r="1.1"/><circle cx="10" cy="91.2" r="1.7"/><circle cx="98.1" cy="107.1" r="1.6"/><circle cx="202.9" cy="71.9" r="1.5"/><circle cx="93.2" cy="210.6" r="1.9"/><circle cx="187.1" cy="8.7" r="2"/><circle cx="100.6" cy="89.5" r="2.1"/><circle cx="95.5" cy="124" r="2.1"/><circle cx="130.6" cy="194.3" r="2.2"/><circle cx="27.9" cy="85" r="1.2"/><circle cx="76" cy="214" r="1.5"/><circle cx="98.2" cy="149.3" r="1.4"/><circle cx="96.4" cy="17.4" r="1"/><circle cx="178.4" cy="120.9" r="1.6"/><circle cx="107.6" cy="13.8" r="1.8"/><circle cx="122.4" cy="172.6" r="1.1"/><circle cx="157.7" cy="136.1" r="2.2"/><circle cx="197.2" cy="123" r="1.8"/><circle cx="171.1" cy="58.8" r="1.7"/><circle cx="175.5" cy="132.6" r="1.7"/><circle cx="57.8" cy="16.7" r="1.8"/><circle cx="105.8" cy="119.1" r="2.1"/><circle cx="195.6" cy="79.3" r="1.5"/><circle cx="74.9" cy="111.5" r="1.9"/><circle cx="191.2" cy="36.1" r="2"/><circle cx="164.6" cy="131.9" r="1.4"/><circle cx="142" cy="64.5" r="1.2"/><circle cx="189.1" cy="77.6" r="1.2"/><circle cx="16.3" cy="92.3" r="1.3"/><circle cx="183.1" cy="14.5" r="1.5"/><circle cx="200.6" cy="72.6" r="1.3"/><circle cx="205.9" cy="80.1" r="1.5"/><circle cx="206" cy="126.6" r="1.1"/><circle cx="154.1" cy="144.9" r="1.1"/><circle cx="35.8" cy="104.3" r="1.4"/><circle cx="216" cy="103.9" r="2"/><circle cx="83.6" cy="96.7" r="1.8"/><circle cx="218.8" cy="9.4" r="1.6"/><circle cx="212" cy="105.3" r="1"/><circle cx="132.5" cy="131" r="1.9"/><circle cx="173.2" cy="103.3" r="1.7"/><circle cx="171.1" cy="6.1" r="1.3"/><circle cx="210.4" cy="62.8" r="2.4"/><circle cx="87.4" cy="152.8" r="2.3"/><circle cx="134.2" cy="61.1" r="1"/><circle cx="200.7" cy="89" r="1.6"/><circle cx="124.1" cy="99.5" r="2.3"/><circle cx="104.2" cy="151.1" r="2.1"/><circle cx="208" cy="38" r="1.4"/><circle cx="83.1" cy="196.5" r="1.1"/><circle cx="56.5" cy="15.4" r="1.9"/><circle cx="85.1" cy="193.7" r="1"/><circle cx="29.9" cy="84" r="2.1"/><circle cx="222.1" cy="11" r="1.1"/><circle cx="96.7" cy="221.1" r="1.7"/><circle cx="197" cy="50" r="1.6"/><circle cx="153.2" cy="50.5" r="1.7"/><circle cx="127.4" cy="134.4" r="2.2"/><circle cx="154.1" cy="87.5" r="1.8"/><circle cx="76.6" cy="177.2" r="1.9"/><circle cx="134.7" cy="88.1" r="1.4"/><circle cx="85.8" cy="11.2" r="1.4"/><circle cx="166.1" cy="44.6" r="1.4"/><circle cx="202.8" cy="4.2" r="2.2"/><circle cx="149.2" cy="88.6" r="1.3"/><circle cx="157" cy="56.7" r="1.1"/><circle cx="180" cy="124.6" r="2"/><circle cx="192.5" cy="8.7" r="1.3"/><circle cx="79.3" cy="163.5" r="1.4"/><circle cx="170.4" cy="57.4" r="2.3"/><circle cx="97.1" cy="131.7" r="1.8"/><circle cx="183.2" cy="125.7" r="1.2"/><circle cx="98.3" cy="125.5" r="1"/><circle cx="184.9" cy="68.5" r="2.3"/><circle cx="82.9" cy="212.1" r="2"/><circle cx="87.7" cy="156.4" r="0.9"/><circle cx="68.6" cy="90.7" r="2"/><circle cx="105.5" cy="136.5" r="2"/><circle cx="127.2" cy="221.9" r="1.6"/><circle cx="216.9" cy="121.9" r="1.3"/><circle cx="203.1" cy="93.3" r="2.4"/><circle cx="181.6" cy="73.1" r="2"/><circle cx="187.7" cy="89.7" r="1.7"/><circle cx="160.9" cy="143.3" r="1.4"/><circle cx="142.9" cy="172.6" r="1.6"/><circle cx="163.1" cy="124.7" r="2.2"/><circle cx="122.7" cy="150" r="1.8"/><circle cx="113.8" cy="203.8" r="1.2"/><circle cx="163.4" cy="112.2" r="1.1"/><circle cx="106.7" cy="10.6" r="1.6"/><circle cx="146.8" cy="5.2" r="1.6"/><circle cx="146.3" cy="185.5" r="2.3"/><circle cx="199.3" cy="110.2" r="1.1"/><circle cx="118.8" cy="110.8" r="2.4"/><circle cx="169.3" cy="134.1" r="1.3"/><circle cx="202.1" cy="56.9" r="2.2"/><circle cx="198.2" cy="118.5" r="1"/><circle cx="60.7" cy="14.8" r="1.2"/><circle cx="79.4" cy="128" r="2.1"/><circle cx="11.8" cy="86.6" r="2.3"/><circle cx="39.5" cy="102.1" r="1.3"/><circle cx="137.1" cy="2.3" r="2.3"/><circle cx="141.7" cy="203.9" r="1.4"/><circle cx="113.8" cy="10.9" r="1.6"/><circle cx="78" cy="192" r="2.4"/><circle cx="90.9" cy="153" r="2"/><circle cx="129.9" cy="11.5" r="1.9"/><circle cx="142.8" cy="79.5" r="1.7"/><circle cx="218.3" cy="98.5" r="1.6"/><circle cx="9.9" cy="91.9" r="1.7"/><circle cx="138.2" cy="189.3" r="1.1"/><circle cx="114.6" cy="77.2" r="1"/><circle cx="184.2" cy="120.8" r="2.3"/><circle cx="115.9" cy="191.8" r="1.8"/><circle cx="110.5" cy="209.5" r="1.4"/><circle cx="120.3" cy="70.3" r="2.1"/><circle cx="86.5" cy="16.3" r="2.4"/><circle cx="132.1" cy="163.1" r="2"/><circle cx="85.7" cy="156.8" r="1.9"/><circle cx="220.9" cy="119.9" r="1.4"/><circle cx="26.8" cy="98.6" r="1.8"/><circle cx="153.4" cy="6.2" r="1.2"/><circle cx="141.9" cy="175.1" r="2.3"/><circle cx="100" cy="131.7" r="1.9"/><circle cx="90.7" cy="135.3" r="2.3"/><circle cx="203.8" cy="91.3" r="1.7"/><circle cx="65.8" cy="222.4" r="1.2"/><circle cx="96.8" cy="209.2" r="2.2"/><circle cx="93.8" cy="83.6" r="1.4"/><circle cx="92.8" cy="213.8" r="0.9"/><circle cx="134.8" cy="96" r="2.4"/><circle cx="162.6" cy="84.7" r="1.9"/><circle cx="103.5" cy="7.6" r="1.4"/><circle cx="101.1" cy="220.7" r="2.3"/><circle cx="137.4" cy="215.1" r="1.1"/><circle cx="120.4" cy="197.8" r="1.4"/><circle cx="72.1" cy="105.2" r="2.3"/><circle cx="112.9" cy="219" r="1.4"/><circle cx="123.1" cy="140.4" r="2"/><circle cx="172.7" cy="110.1" r="1.6"/><circle cx="216.5" cy="3.1" r="2.4"/><circle cx="178.6" cy="91.5" r="2.2"/><circle cx="200.4" cy="112.5" r="1.5"/><circle cx="181" cy="96.3" r="1.4"/><circle cx="77.3" cy="129.9" r="2.3"/><circle cx="206.3" cy="5.1" r="1.5"/><circle cx="155.6" cy="110.6" r="2"/><circle cx="209.1" cy="10.2" r="1.9"/><circle cx="142.5" cy="95.8" r="1.3"/><circle cx="136.7" cy="68.6" r="2.1"/></g></g></g></g>
<clipPath id="cpg3tr"><rect x="1214" y="45" width="223" height="223"/></clipPath>
<g clip-path="url(#cpg3tr)"><g transform="translate(1214 45)"><rect x="0" y="0" width="223" height="223" fill="#090606"/></g></g>
<clipPath id="cpg3bl"><rect x="988" y="271" width="223" height="223"/></clipPath>
<g clip-path="url(#cpg3bl)"><g transform="translate(988 271)"><rect x="0" y="0" width="223" height="223" fill="#060606"/></g></g>
<clipPath id="cpg3br"><rect x="1214" y="271" width="223" height="223"/></clipPath>
<g clip-path="url(#cpg3br)"><g transform="translate(1214 271)"><rect x="0" y="0" width="223" height="223" fill="#061006"/><g filter="url(#b6)" fill="#10301a"><ellipse cx="100" cy="30" rx="38" ry="25"/><ellipse cx="110" cy="100" rx="85" ry="42"/><ellipse cx="60" cy="150" rx="55" ry="45"/><ellipse cx="15" cy="110" rx="18" ry="22"/><ellipse cx="40" cy="205" rx="45" ry="22"/><ellipse cx="155" cy="120" rx="42" ry="28"/><ellipse cx="210" cy="40" rx="14" ry="18"/></g><g filter="url(#b3)"><circle cx="83.8" cy="48.8" r="12.9" fill="#143a1c"/><circle cx="33.7" cy="207.9" r="14.4" fill="#143a1c"/><circle cx="123.9" cy="84.4" r="12.5" fill="#143a1c"/><circle cx="165.5" cy="129.3" r="13.3" fill="#143a1c"/><circle cx="190.6" cy="97.4" r="16" fill="#143a1c"/><circle cx="2.7" cy="197" r="12.7" fill="#143a1c"/><circle cx="24.1" cy="151.1" r="15.6" fill="#143a1c"/><circle cx="139.4" cy="136.7" r="14.6" fill="#143a1c"/><circle cx="89.9" cy="149.6" r="12.9" fill="#143a1c"/><circle cx="147.6" cy="70" r="16.3" fill="#143a1c"/><circle cx="51.3" cy="96.9" r="15.6" fill="#143a1c"/><circle cx="90.7" cy="99.9" r="14.6" fill="#143a1c"/><circle cx="59.5" cy="204.1" r="14.9" fill="#143a1c"/><circle cx="50.3" cy="127.1" r="13.3" fill="#143a1c"/><circle cx="123.7" cy="111" r="12.3" fill="#143a1c"/><circle cx="11.7" cy="113.8" r="13.3" fill="#143a1c"/><circle cx="40.5" cy="182.1" r="15.6" fill="#143a1c"/><circle cx="114.7" cy="29.6" r="12.9" fill="#143a1c"/><circle cx="107.9" cy="170.7" r="15.7" fill="#143a1c"/><circle cx="170.3" cy="81.7" r="11.6" fill="#143a1c"/><circle cx="58.5" cy="156.2" r="15.8" fill="#143a1c"/><circle cx="205.6" cy="52.3" r="16.6" fill="#143a1c"/><circle cx="88.6" cy="8.3" r="13.3" fill="#143a1c"/><circle cx="149.3" cy="105.4" r="14.4" fill="#143a1c"/><circle cx="110.9" cy="134.9" r="14.7" fill="#143a1c"/><circle cx="61.7" cy="70.4" r="13.5" fill="#143a1c"/><circle cx="79.2" cy="172.9" r="14.4" fill="#143a1c"/><circle cx="65.3" cy="20.3" r="12.7" fill="#143a1c"/><circle cx="195.3" cy="125.4" r="14.6" fill="#143a1c"/><circle cx="25.2" cy="92.3" r="14.8" fill="#143a1c"/><circle cx="12.1" cy="221.2" r="15.2" fill="#143a1c"/><circle cx="107.4" cy="58.9" r="16.6" fill="#143a1c"/><circle cx="212.7" cy="26.1" r="14.2" fill="#143a1c"/><circle cx="81.8" cy="125.4" r="13.3" fill="#143a1c"/><circle cx="84.8" cy="205.1" r="12.7" fill="#143a1c"/><circle cx="83.3" cy="48.4" r="8" fill="#0c2410"/><circle cx="34" cy="207.5" r="9.8" fill="#0c2410"/><circle cx="123.9" cy="84.9" r="8.5" fill="#0c2410"/><circle cx="165.7" cy="128.9" r="7.4" fill="#0c2410"/><circle cx="190.3" cy="97.4" r="8.6" fill="#0c2410"/><circle cx="3.5" cy="198.1" r="9.9" fill="#0c2410"/><circle cx="22.8" cy="151.6" r="8.6" fill="#0c2410"/><circle cx="139.4" cy="136.4" r="8.1" fill="#0c2410"/><circle cx="89.9" cy="148.4" r="8.1" fill="#0c2410"/><circle cx="149" cy="69.8" r="8.1" fill="#0c2410"/><circle cx="50.7" cy="97.2" r="8.1" fill="#0c2410"/><circle cx="90.7" cy="99.3" r="8.9" fill="#0c2410"/><circle cx="59.9" cy="203.3" r="9.7" fill="#0c2410"/><circle cx="51.4" cy="128.4" r="10.7" fill="#0c2410"/><circle cx="123.9" cy="111.2" r="9.6" fill="#0c2410"/><circle cx="11.3" cy="114.8" r="8.7" fill="#0c2410"/><circle cx="41.4" cy="181.8" r="9.1" fill="#0c2410"/><circle cx="113.7" cy="29.3" r="8.3" fill="#0c2410"/><circle cx="108.7" cy="170.3" r="8.4" fill="#0c2410"/><circle cx="170.5" cy="81.4" r="9.6" fill="#0c2410"/><circle cx="59.1" cy="156.3" r="8" fill="#0c2410"/><circle cx="206.1" cy="51.6" r="9.8" fill="#0c2410"/><circle cx="89.7" cy="7.5" r="9.2" fill="#0c2410"/><circle cx="150" cy="106.6" r="9.6" fill="#0c2410"/><circle cx="110.9" cy="133.8" r="8.9" fill="#0c2410"/><circle cx="62.4" cy="70.3" r="9.7" fill="#0c2410"/><circle cx="79.6" cy="172.6" r="9" fill="#0c2410"/><circle cx="64.2" cy="20.1" r="8.8" fill="#0c2410"/><circle cx="196.1" cy="126.2" r="7.8" fill="#0c2410"/><circle cx="25.4" cy="92.4" r="7.8" fill="#0c2410"/><circle cx="12.6" cy="222.3" r="8.6" fill="#0c2410"/><circle cx="108.1" cy="57.9" r="8.7" fill="#0c2410"/><circle cx="212.3" cy="26.9" r="9.1" fill="#0c2410"/><circle cx="80.6" cy="125.4" r="8" fill="#0c2410"/><circle cx="84.3" cy="205.2" r="9.2" fill="#0c2410"/></g><g filter="url(#b1)"><g fill="#3ad04e"><circle cx="85" cy="51.5" r="1"/><circle cx="153.9" cy="123.3" r="1.3"/><circle cx="163.2" cy="128.5" r="1.9"/><circle cx="98" cy="34.6" r="1"/><circle cx="146" cy="138.4" r="0.9"/><circle cx="48.1" cy="162" r="1.8"/><circle cx="27.9" cy="149.4" r="1"/><circle cx="70.9" cy="138.2" r="1.7"/><circle cx="40.6" cy="198" r="2"/><circle cx="67.2" cy="32.5" r="1.7"/><circle cx="90.8" cy="147.9" r="1.5"/><circle cx="30.1" cy="102.2" r="1.8"/><circle cx="94.9" cy="166" r="1.6"/><circle cx="71.8" cy="31" r="0.9"/><circle cx="8.8" cy="192.3" r="2"/><circle cx="167.2" cy="135.8" r="1.4"/><circle cx="53.9" cy="97.5" r="1.8"/><circle cx="151.6" cy="91.6" r="1.4"/><circle cx="47.2" cy="153" r="1.2"/><circle cx="40.3" cy="148.6" r="0.9"/><circle cx="52.9" cy="126.4" r="1"/><circle cx="159" cy="123.2" r="1.5"/><circle cx="142.3" cy="114.4" r="1.7"/><circle cx="39.5" cy="162.3" r="1.9"/><circle cx="16" cy="113.7" r="1.6"/><circle cx="78.5" cy="152" r="2.1"/><circle cx="33.8" cy="190.4" r="1.7"/><circle cx="62.3" cy="131" r="1.2"/><circle cx="53.3" cy="111.5" r="1.6"/><circle cx="105.8" cy="16.1" r="1.5"/><circle cx="43.6" cy="179.1" r="1.3"/><circle cx="81.8" cy="38.4" r="2"/><circle cx="49.5" cy="194.6" r="1.5"/><circle cx="33.1" cy="146.1" r="1.5"/><circle cx="86" cy="41.5" r="1.5"/><circle cx="109.2" cy="126.6" r="1.8"/><circle cx="108" cy="168.2" r="1.9"/><circle cx="190.3" cy="97.9" r="1.8"/><circle cx="167.8" cy="83" r="1.9"/><circle cx="19.9" cy="188" r="1.2"/><circle cx="77.1" cy="37.5" r="2.1"/><circle cx="105.3" cy="118.2" r="2"/><circle cx="153" cy="118.7" r="1.2"/><circle cx="54.8" cy="181.2" r="1.9"/><circle cx="116.5" cy="43.1" r="1.7"/><circle cx="20.6" cy="188.5" r="2.2"/><circle cx="68.1" cy="90.3" r="1.6"/><circle cx="82.4" cy="38.6" r="1.4"/><circle cx="19.7" cy="126.3" r="2.1"/><circle cx="141.4" cy="102" r="0.9"/><circle cx="3.6" cy="211.3" r="1.6"/><circle cx="100.8" cy="96.1" r="1.2"/><circle cx="7.6" cy="137.9" r="1.7"/><circle cx="19.3" cy="205.8" r="2.1"/><circle cx="192.8" cy="119.8" r="1.3"/><circle cx="104.9" cy="82.6" r="2.1"/><circle cx="115.9" cy="114" r="1.8"/><circle cx="60.2" cy="109.8" r="0.9"/><circle cx="116.8" cy="35.7" r="2"/><circle cx="18.3" cy="178.9" r="1.2"/><circle cx="213.1" cy="38.9" r="2.2"/><circle cx="1.6" cy="110.2" r="0.9"/><circle cx="174.3" cy="144.4" r="0.9"/><circle cx="211.7" cy="32.5" r="1.2"/><circle cx="41.6" cy="102" r="1.6"/><circle cx="18.7" cy="113.6" r="1.4"/><circle cx="78" cy="107" r="1.3"/><circle cx="86.1" cy="170.3" r="1"/><circle cx="21.3" cy="99.7" r="1.2"/><circle cx="205.3" cy="51.4" r="1.3"/><circle cx="74.4" cy="209.7" r="1.5"/><circle cx="132.5" cy="112.3" r="1.1"/><circle cx="22.1" cy="95.6" r="1.4"/><circle cx="29.1" cy="212.4" r="0.8"/><circle cx="91.1" cy="186.6" r="2.1"/><circle cx="88.9" cy="158.8" r="2"/><circle cx="64.7" cy="88.5" r="1.4"/><circle cx="199.9" cy="41.3" r="1.8"/><circle cx="73" cy="186.3" r="1.4"/><circle cx="12.8" cy="104.8" r="1.6"/><circle cx="104.7" cy="93.9" r="2.1"/><circle cx="149.6" cy="99" r="1.4"/><circle cx="107.5" cy="169.6" r="0.9"/><circle cx="147.6" cy="138.2" r="0.8"/><circle cx="81.1" cy="103.1" r="1.3"/><circle cx="55.8" cy="82.8" r="1.1"/><circle cx="15.6" cy="127.4" r="0.8"/><circle cx="96.6" cy="89.6" r="1.9"/><circle cx="157.5" cy="102.2" r="0.8"/><circle cx="109.7" cy="88.3" r="1.5"/><circle cx="23.4" cy="139.7" r="1"/><circle cx="149.3" cy="136.5" r="1.8"/><circle cx="41.1" cy="158.9" r="2.1"/><circle cx="35.1" cy="172.7" r="1"/><circle cx="17.4" cy="212.4" r="2.1"/><circle cx="57.9" cy="193.9" r="1.3"/><circle cx="52.6" cy="99.2" r="0.8"/><circle cx="8.3" cy="105.9" r="1.6"/><circle cx="4.7" cy="204.3" r="1.8"/><circle cx="59" cy="168.7" r="1.8"/><circle cx="142.5" cy="100.8" r="2"/><circle cx="41.4" cy="99.7" r="1.7"/><circle cx="107.5" cy="15.2" r="0.9"/><circle cx="59.9" cy="150.8" r="1.1"/><circle cx="168.3" cy="143.4" r="1.2"/><circle cx="7" cy="139.8" r="1.9"/><circle cx="67.6" cy="172.9" r="1.8"/><circle cx="24.3" cy="115.2" r="1.7"/><circle cx="57.6" cy="153.7" r="1.8"/><circle cx="72.2" cy="134.2" r="2"/><circle cx="161.6" cy="74.7" r="2.2"/><circle cx="177.7" cy="87.2" r="1.9"/><circle cx="48" cy="220" r="1.6"/><circle cx="174.1" cy="134.7" r="1.2"/><circle cx="62.3" cy="206.2" r="1.8"/><circle cx="175.7" cy="117.6" r="1.8"/><circle cx="141.7" cy="92.6" r="0.8"/><circle cx="123.7" cy="89.3" r="1.6"/><circle cx="23.3" cy="143.6" r="0.9"/><circle cx="46.7" cy="147.6" r="1.5"/><circle cx="24" cy="128.8" r="1"/><circle cx="62.5" cy="31.8" r="1.1"/><circle cx="122.5" cy="32.2" r="1"/><circle cx="23.5" cy="156.4" r="1.6"/><circle cx="165.4" cy="130.7" r="1.2"/><circle cx="88.9" cy="81.8" r="2.1"/><circle cx="199.3" cy="46.8" r="1.4"/><circle cx="61.5" cy="197" r="1.1"/><circle cx="185.5" cy="104.5" r="1.8"/><circle cx="87.5" cy="151.3" r="1.8"/><circle cx="94.3" cy="66.8" r="1.4"/><circle cx="46.2" cy="78.2" r="1.8"/><circle cx="113.4" cy="50.2" r="2"/><circle cx="129.6" cy="77.2" r="1"/><circle cx="29.5" cy="162.3" r="1.8"/><circle cx="20.8" cy="169.3" r="2.1"/><circle cx="74.8" cy="118.2" r="1.4"/><circle cx="120.6" cy="59.2" r="2"/><circle cx="69.2" cy="91.5" r="1.4"/><circle cx="91.5" cy="63.5" r="2.1"/><circle cx="46.8" cy="87.1" r="1.7"/><circle cx="39.5" cy="207.8" r="1"/><circle cx="47.4" cy="102.8" r="1.9"/><circle cx="34.8" cy="109.1" r="1.7"/><circle cx="27.8" cy="195" r="1.6"/><circle cx="89.2" cy="61.5" r="2"/><circle cx="110.9" cy="133.9" r="1.8"/><circle cx="17.1" cy="97.8" r="1.1"/><circle cx="95" cy="46.3" r="1"/><circle cx="142.2" cy="125.2" r="2"/><circle cx="131.4" cy="74.5" r="0.9"/><circle cx="73.2" cy="69.6" r="1.5"/><circle cx="83.7" cy="166" r="1.5"/><circle cx="107.6" cy="84.2" r="1.2"/><circle cx="46.8" cy="83.8" r="1.8"/><circle cx="78.9" cy="98.5" r="1.6"/><circle cx="60.3" cy="86.4" r="1.8"/><circle cx="118.5" cy="98.6" r="1.7"/><circle cx="92.8" cy="45.8" r="1.9"/><circle cx="75.7" cy="68.4" r="1.5"/><circle cx="65.7" cy="154.4" r="2"/><circle cx="12.7" cy="166.5" r="1.5"/><circle cx="81.6" cy="18.1" r="1.4"/><circle cx="84.8" cy="45.4" r="1.8"/><circle cx="192.6" cy="98.9" r="1"/><circle cx="124.7" cy="75.9" r="0.9"/><circle cx="63.9" cy="72.1" r="2.1"/><circle cx="41.1" cy="205.2" r="1.5"/><circle cx="179.7" cy="124.5" r="2.1"/><circle cx="75.4" cy="66.3" r="1"/><circle cx="51.2" cy="136.5" r="1.4"/><circle cx="9.4" cy="156.1" r="1"/><circle cx="129.2" cy="117.7" r="1.4"/><circle cx="49.3" cy="109.8" r="1.4"/><circle cx="86.3" cy="50.6" r="1.1"/><circle cx="95.7" cy="110.9" r="1.4"/><circle cx="119.9" cy="36.2" r="1"/><circle cx="109" cy="48.9" r="1.7"/><circle cx="84.8" cy="126.7" r="1.6"/><circle cx="20.4" cy="137" r="1.2"/><circle cx="76.1" cy="114.6" r="1.5"/><circle cx="129.3" cy="97.8" r="1"/><circle cx="156.5" cy="74.4" r="1.3"/><circle cx="5.4" cy="210.1" r="1.4"/><circle cx="66.6" cy="86.5" r="1.1"/><circle cx="143.5" cy="94.9" r="1.5"/><circle cx="95.1" cy="181.1" r="0.9"/><circle cx="90" cy="100.4" r="2.2"/><circle cx="133.9" cy="72.9" r="1.3"/><circle cx="118.7" cy="67.9" r="1.3"/><circle cx="59.3" cy="126.7" r="1.9"/><circle cx="99.2" cy="104.1" r="1.9"/><circle cx="132.6" cy="33.4" r="0.9"/><circle cx="58.2" cy="129.9" r="1"/><circle cx="52.9" cy="135.4" r="1.1"/><circle cx="45.7" cy="167.5" r="1.7"/><circle cx="140" cy="84.3" r="1.5"/><circle cx="47.8" cy="182.3" r="1.9"/><circle cx="102.9" cy="80.7" r="1.1"/><circle cx="112.6" cy="67.4" r="1.4"/><circle cx="173.9" cy="86.7" r="1"/><circle cx="87.6" cy="67.7" r="1.5"/><circle cx="15.3" cy="161.9" r="1.5"/><circle cx="56.4" cy="215.2" r="2.1"/><circle cx="103.4" cy="30" r="1.8"/><circle cx="69.7" cy="195.8" r="1.5"/><circle cx="59.6" cy="75.4" r="1.2"/><circle cx="145.6" cy="100" r="1.7"/><circle cx="10" cy="113.6" r="1.5"/><circle cx="100.7" cy="26.9" r="1.5"/><circle cx="0.7" cy="118.2" r="1.1"/><circle cx="51.9" cy="148.1" r="1"/><circle cx="116.6" cy="100.4" r="2.1"/><circle cx="209" cy="37.8" r="1.9"/><circle cx="80.5" cy="170.3" r="0.8"/><circle cx="86.1" cy="50.7" r="1.1"/><circle cx="18.8" cy="114.6" r="1"/><circle cx="12.1" cy="137.2" r="1.9"/><circle cx="33.7" cy="145.9" r="1.3"/><circle cx="134.5" cy="100.6" r="1.1"/><circle cx="40.9" cy="102.5" r="1.6"/><circle cx="24.2" cy="104.3" r="2"/><circle cx="6.8" cy="205.1" r="1.5"/><circle cx="105.4" cy="139.1" r="1.8"/><circle cx="137.2" cy="70" r="1.4"/><circle cx="92.5" cy="48.8" r="1.2"/><circle cx="81.4" cy="45.5" r="1.9"/><circle cx="151.7" cy="145.1" r="0.8"/><circle cx="70.7" cy="125.1" r="2"/><circle cx="21.9" cy="184.9" r="1.3"/><circle cx="130.5" cy="107.1" r="1.2"/><circle cx="82.4" cy="146.8" r="2.1"/><circle cx="83.1" cy="64.6" r="2.2"/><circle cx="182.2" cy="116.2" r="0.8"/><circle cx="71.5" cy="91.1" r="1.4"/><circle cx="96.3" cy="33.1" r="1.5"/><circle cx="100.8" cy="148.5" r="2"/><circle cx="43" cy="75.9" r="1"/><circle cx="130.5" cy="62.1" r="1.3"/><circle cx="9.5" cy="140.5" r="1.1"/><circle cx="127.5" cy="22.5" r="1.9"/><circle cx="145.4" cy="136.4" r="1.5"/><circle cx="123.1" cy="125.8" r="1.9"/><circle cx="35.4" cy="107.9" r="1.7"/><circle cx="86.6" cy="161.7" r="1.4"/><circle cx="116.5" cy="136.7" r="0.9"/><circle cx="78.2" cy="120.2" r="1.1"/><circle cx="67.5" cy="66.1" r="0.9"/><circle cx="53.4" cy="153.9" r="1.8"/><circle cx="97.1" cy="91.5" r="1.3"/><circle cx="42.1" cy="214.4" r="1"/><circle cx="94.4" cy="6.7" r="1.6"/><circle cx="108.6" cy="18.3" r="1.7"/><circle cx="111.7" cy="156" r="1.6"/><circle cx="72.3" cy="148.8" r="1.5"/><circle cx="63" cy="151.8" r="1"/><circle cx="85.6" cy="106.3" r="0.8"/><circle cx="140.3" cy="142.5" r="1"/><circle cx="129.2" cy="104.7" r="1.8"/><circle cx="35.6" cy="214.6" r="1.3"/></g></g><g filter="url(#b2)"><ellipse cx="155" cy="95" rx="10" ry="8" fill="#4ad85a" opacity="0.8"/><ellipse cx="140" cy="85" rx="6" ry="5" fill="#4ad85a" opacity="0.8"/><ellipse cx="150" cy="70" rx="5" ry="6" fill="#4ad85a" opacity="0.7"/></g></g></g>
<g transform="translate(194 178)"><clipPath id="ci194178"><rect width="90" height="90"/></clipPath><g clip-path="url(#ci194178)"><rect x="0" y="0" width="90" height="90" fill="#1a0808"/><g filter="url(#b6)"><ellipse cx="50" cy="55" rx="38" ry="34" fill="#4a1010"/><ellipse cx="48" cy="58" rx="20" ry="18" fill="#1e0606"/><ellipse cx="80" cy="50" rx="6" ry="12" fill="#7a1515" opacity="0.8"/><ellipse cx="70" cy="85" rx="10" ry="6" fill="#6a1212" opacity="0.8"/></g></g></g><rect x="193" y="177" width="91" height="91" fill="none" stroke="#fff" stroke-width="2.2"/>
<g transform="translate(420 404)"><clipPath id="ci420404"><rect width="90" height="90"/></clipPath><g clip-path="url(#ci420404)"><rect x="0" y="0" width="90" height="90" fill="#0f2414"/><g filter="url(#b6)"><ellipse cx="45" cy="45" rx="36" ry="38" fill="#22542c"/><ellipse cx="48" cy="42" rx="18" ry="20" fill="#12301a"/><ellipse cx="88" cy="40" rx="8" ry="25" fill="#22542c" opacity="0.8"/></g></g></g><rect x="419" y="403" width="91" height="91" fill="none" stroke="#fff" stroke-width="2.2"/>
<g transform="translate(657 178)"><clipPath id="ci657178"><rect width="90" height="90"/></clipPath><g clip-path="url(#ci657178)"><rect x="0" y="0" width="90" height="90" fill="#340a0a"/><g filter="url(#b6)"><ellipse cx="60" cy="45" rx="38" ry="42" fill="#4a0e0e" opacity="0.9"/><ellipse cx="62" cy="40" rx="18" ry="20" fill="#2c0808" opacity="0.9"/></g><g filter="url(#b3)"><ellipse cx="30" cy="30" rx="10" ry="30" fill="#3a0b0b" opacity="0.8"/><ellipse cx="30" cy="47" rx="5" ry="8" fill="#ff2424"/><ellipse cx="10" cy="73" rx="6" ry="5" fill="#ff2020"/><ellipse cx="38" cy="72" rx="5" ry="5" fill="#c01c1c"/><ellipse cx="52" cy="76" rx="5" ry="5" fill="#c01c1c"/><ellipse cx="30" cy="10" rx="4" ry="4" fill="#a01818"/></g></g></g><rect x="656" y="177" width="91" height="91" fill="none" stroke="#fff" stroke-width="2.2"/>
<g transform="translate(883 404)"><clipPath id="ci883404"><rect width="90" height="90"/></clipPath><g clip-path="url(#ci883404)"><rect x="0" y="0" width="90" height="90" fill="#0f2414"/><g filter="url(#b6)"><ellipse cx="45" cy="45" rx="36" ry="38" fill="#22542c"/><ellipse cx="48" cy="42" rx="18" ry="20" fill="#12301a"/><ellipse cx="88" cy="40" rx="8" ry="25" fill="#22542c" opacity="0.8"/></g></g></g><rect x="882" y="403" width="91" height="91" fill="none" stroke="#fff" stroke-width="2.2"/>
<g transform="translate(1121 178)"><clipPath id="ci1121178"><rect width="90" height="90"/></clipPath><g clip-path="url(#ci1121178)"><rect x="0" y="0" width="90" height="90" fill="#2a0808"/><g filter="url(#b6)"><ellipse cx="30" cy="30" rx="30" ry="30" fill="#3e0c0c" opacity="0.9"/><ellipse cx="70" cy="70" rx="25" ry="25" fill="#360b0b" opacity="0.8"/></g><g filter="url(#b3)"><ellipse cx="42" cy="42" rx="7" ry="7" fill="#ff2424"/><ellipse cx="28" cy="78" rx="7" ry="6" fill="#ff2020"/><ellipse cx="16" cy="18" rx="5" ry="8" fill="#d01c1c"/><ellipse cx="9" cy="45" rx="4" ry="7" fill="#c01a1a"/><ellipse cx="66" cy="53" rx="3" ry="3" fill="#e01e1e"/><ellipse cx="75" cy="60" rx="5" ry="5" fill="#8a1414"/></g></g></g><rect x="1120" y="177" width="91" height="91" fill="none" stroke="#fff" stroke-width="2.2"/>
<g transform="translate(1347 404)"><clipPath id="ci1347404"><rect width="90" height="90"/></clipPath><g clip-path="url(#ci1347404)"><rect x="0" y="0" width="90" height="90" fill="#133a18"/><g filter="url(#b6)"><ellipse cx="45" cy="40" rx="40" ry="28" fill="#1d5424" opacity="0.9"/><ellipse cx="80" cy="80" rx="20" ry="20" fill="#184a1f" opacity="0.8"/></g><g filter="url(#b3)"><ellipse cx="40" cy="30" rx="20" ry="14" fill="#1b4a20" opacity="0.9"/><ellipse cx="42" cy="28" rx="8" ry="8" fill="#5cd65c"/><ellipse cx="53" cy="28" rx="5" ry="5" fill="#4cc84c"/><ellipse cx="16" cy="40" rx="5" ry="5" fill="#3cb84a"/><ellipse cx="25" cy="47" rx="5" ry="5" fill="#3cb84a"/><ellipse cx="86" cy="68" rx="5" ry="25" fill="#40c050"/><ellipse cx="5" cy="20" rx="4" ry="8" fill="#2a8a35"/></g></g></g><rect x="1346" y="403" width="91" height="91" fill="none" stroke="#fff" stroke-width="2.2"/>
<rect x="162.5" y="117" width="36.5" height="36.5" fill="none" stroke="#fff" stroke-width="1.6"/>
<rect x="303.5" y="350.5" width="36.5" height="36.5" fill="none" stroke="#fff" stroke-width="1.6"/>
<rect x="604.5" y="128.5" width="36.5" height="36.5" fill="none" stroke="#fff" stroke-width="1.6"/>
<rect x="884" y="286.5" width="36.5" height="36.5" fill="none" stroke="#fff" stroke-width="1.6"/>
<rect x="1007.5" y="125.5" width="36.5" height="36.5" fill="none" stroke="#fff" stroke-width="1.6"/>
<rect x="1263" y="335.5" width="36.5" height="36.5" fill="none" stroke="#fff" stroke-width="1.6"/>
<rect x="68" y="481" width="16" height="8" fill="#fff"/>
<rect x="534" y="481.5" width="16" height="8" fill="#fff"/>
<rect x="994.5" y="483" width="16" height="8" fill="#fff"/>
<text x="285" y="30" font-size="27.5" text-anchor="middle">Unstressed</text>
<text x="748.5" y="30" font-size="27.5" text-anchor="middle">Stressed</text>
<text x="1212" y="30" font-size="27.5" text-anchor="middle">Stressed + blue light</text>
<text x="175" y="527.5" font-size="28" text-anchor="middle">Untreated</text>
<text x="400.5" y="527.5" font-size="28" text-anchor="middle">Replaced</text>
<text x="638" y="527.5" font-size="28" text-anchor="middle">Untreated</text>
<text x="863.5" y="527.5" font-size="28" text-anchor="middle">Replaced</text>
<text x="1102" y="527.5" font-size="28" text-anchor="middle">Untreated</text>
<text x="1327.5" y="527.5" font-size="28" text-anchor="middle">Replaced</text>
<text transform="translate(1457 50) rotate(90)" font-size="26.5"><tspan fill="#e8141c">AID::RFP::G3BPs</tspan><tspan fill="#1aa64a">GFP::CRY2::G3BP</tspan><tspan fill="#1aa64a" font-size="18" dy="8">ΔN</tspan></text>
<text x="0" y="21" font-size="39" font-weight="bold" stroke="#000" stroke-width="1.6" paint-order="stroke">a</text>
<text x="0" y="589.5" font-size="39" font-weight="bold" stroke="#000" stroke-width="1.6" paint-order="stroke">b</text>
<rect x="155.5" y="579" width="23" height="23.5" fill="#eb5a35" stroke="#1e1a19" stroke-width="2"/>
<rect x="155.5" y="614" width="23" height="23.5" fill="#a8d98a" stroke="#1e1a19" stroke-width="2"/>
<text x="191.5" y="599.5" font-size="28.5">Untreated</text>
<text x="191.5" y="634" font-size="28.5">Replaced</text>
<line x1="125.8" y1="668.5" x2="125.8" y2="1112.3" stroke="#222" stroke-width="1.4"/>
<line x1="113.5" y1="1111.7" x2="351.5" y2="1111.7" stroke="#222" stroke-width="1.4"/>
<text x="101.5" y="1119.5" font-size="23" text-anchor="end">0</text>
<line x1="113.8" y1="1031.8" x2="125.8" y2="1031.8" stroke="#222" stroke-width="1.4"/>
<text x="101.5" y="1039.6" font-size="23" text-anchor="end">20</text>
<line x1="113.8" y1="951.8" x2="125.8" y2="951.8" stroke="#222" stroke-width="1.4"/>
<text x="101.5" y="959.6" font-size="23" text-anchor="end">40</text>
<line x1="113.8" y1="871.9" x2="125.8" y2="871.9" stroke="#222" stroke-width="1.4"/>
<text x="101.5" y="879.7" font-size="23" text-anchor="end">60</text>
<line x1="113.8" y1="791.9" x2="125.8" y2="791.9" stroke="#222" stroke-width="1.4"/>
<text x="101.5" y="799.7" font-size="23" text-anchor="end">80</text>
<line x1="113.8" y1="712" x2="125.8" y2="712" stroke="#222" stroke-width="1.4"/>
<text x="101.5" y="719.8" font-size="23" text-anchor="end">100</text>
<text transform="translate(37 890.5) rotate(-90)" font-size="28" text-anchor="middle">Cells with granules (%)</text>
<rect x="139.6" y="1108.7" width="26.6" height="3" fill="#ff3314" stroke="#453d3b" stroke-width="1.7"/>
<rect x="169.6" y="1105.9" width="26.6" height="5.8" fill="#a8dc78" stroke="#453d3b" stroke-width="1.7"/>
<rect x="213" y="712.4" width="26.6" height="399.3" fill="#ff3314" stroke="#453d3b" stroke-width="1.7"/>
<rect x="242.6" y="1109.5" width="26.6" height="2.2" fill="#a8dc78" stroke="#453d3b" stroke-width="1.7"/>
<rect x="286.6" y="718.8" width="26.6" height="392.9" fill="#ff3314" stroke="#453d3b" stroke-width="1.7"/>
<rect x="316" y="714.4" width="26.6" height="397.3" fill="#a8dc78" stroke="#453d3b" stroke-width="1.7"/>
<g fill="none" stroke="#5a5250" stroke-width="1.1"><circle cx="152.9" cy="1110.9" r="3.4"/><circle cx="152.9" cy="1108.5" r="3.4"/><circle cx="152.9" cy="1106.5" r="3.4"/><circle cx="182.9" cy="1110.1" r="3.4"/><circle cx="182.9" cy="1106.1" r="3.4"/><circle cx="182.9" cy="1101.7" r="3.4"/><circle cx="182.9" cy="1113.3" r="3.4"/><circle cx="226.3" cy="714.8" r="3.4"/><circle cx="226.3" cy="712.4" r="3.4"/><circle cx="226.3" cy="710.4" r="3.4"/><circle cx="255.9" cy="1111.3" r="3.4"/><circle cx="255.9" cy="1109.7" r="3.4"/><circle cx="255.9" cy="1106.9" r="3.4"/><circle cx="299.9" cy="721.6" r="3.4"/><circle cx="299.9" cy="718.8" r="3.4"/><circle cx="299.9" cy="716" r="3.4"/><circle cx="329.3" cy="716" r="3.4"/><circle cx="329.3" cy="714.4" r="3.4"/><circle cx="329.3" cy="712.4" r="3.4"/></g>
<path d="M153.3 1064.5 V1062 H182.5 V1064.5" fill="none" stroke="#333" stroke-width="1.5"/>
<path d="M226.5 693 V690.5 H256 V693" fill="none" stroke="#333" stroke-width="1.5"/>
<path d="M298.5 693 V690.5 H328 V693" fill="none" stroke="#333" stroke-width="1.5"/>
<text x="167.5" y="1053.2" font-size="25" text-anchor="middle">n.s.</text>
<text x="241.5" y="687" font-size="35" text-anchor="middle">***</text>
<text x="313" y="682.2" font-size="25" text-anchor="middle">n.s.</text>
<text transform="translate(182.5 1142) rotate(-45)" font-size="27.5" text-anchor="end">Unstressed</text>
<text transform="translate(255.5 1142) rotate(-45)" font-size="27.5" text-anchor="end">Stressed</text>
<text transform="translate(328.5 1142) rotate(-45)" font-size="27.5" text-anchor="end">Stressed</text>
<text transform="translate(351 1163) rotate(-45)" font-size="27.5" text-anchor="end">+ blue light</text>
<text x="517.5" y="589.5" font-size="39" font-weight="bold" stroke="#000" stroke-width="1.6" paint-order="stroke">c</text>
<g transform="translate(517.3 642.3)"><path d="M14.7 10.5 L55.9 0.7 Q61.5 -0.6 64.3 2.6 L75.6 17.2 Q77.2 19.4 76.6 23.5 L76.9 43 L78 58.8 L53.5 83.2 Q50.3 85.8 46.5 84.5 L7 72.3 Q2.3 70.8 1.9 65.5 L0.8 31 Q0.7 28 2.8 25.3 Z" fill="#fbe4e0" stroke="#000" stroke-width="2.3" stroke-linejoin="round"/><g fill="#ff2a14"><ellipse cx="19.7" cy="14.8" rx="1.3" ry="1.1"/><ellipse cx="34.6" cy="16.8" rx="4.6" ry="4"/><ellipse cx="50.2" cy="15.8" rx="1.1" ry="1"/><ellipse cx="59.8" cy="10.9" rx="4.2" ry="3"/><ellipse cx="12.9" cy="24.2" rx="3" ry="3.6"/><ellipse cx="64.4" cy="28.8" rx="4.3" ry="3"/><ellipse cx="52.3" cy="26.8" rx="0.9" ry="0.8"/><ellipse cx="65.4" cy="43.4" rx="2.8" ry="2.5"/><ellipse cx="66.1" cy="51.3" rx="0.8" ry="0.8"/><ellipse cx="71.6" cy="56.5" rx="2.6" ry="2.3"/><ellipse cx="61.4" cy="63.2" rx="4.4" ry="4.6"/><ellipse cx="7.4" cy="68.7" rx="2.6" ry="2"/><ellipse cx="47.3" cy="78.4" rx="2.2" ry="2"/></g><circle cx="30.7" cy="49.2" r="24.4" fill="#878884" stroke="#000" stroke-width="2"/></g>
<g transform="translate(683.3 642.5)"><path d="M14.7 10.5 L55.9 0.7 Q61.5 -0.6 64.3 2.6 L75.6 17.2 Q77.2 19.4 76.6 23.5 L76.9 43 L78 58.8 L53.5 83.2 Q50.3 85.8 46.5 84.5 L7 72.3 Q2.3 70.8 1.9 65.5 L0.8 31 Q0.7 28 2.8 25.3 Z" fill="#f9c4be" stroke="#000" stroke-width="2.3" stroke-linejoin="round"/><circle cx="30.7" cy="49.2" r="24.4" fill="#7e716d" stroke="#000" stroke-width="2"/></g>
<path transform="translate(622.9 687)" d="M0 0 L15.7 -6.9 L13.6 -1.9 L39.2 -1.9 L39.2 1.9 L13.6 1.9 L15.7 6.9 Z" fill="#3f5068"/>
<text x="641.7" y="672" font-size="21.5" text-anchor="middle">Stress</text>
<text x="723" y="754.7" font-size="21.5" text-anchor="middle">Parental line</text>
<g transform="translate(517.3 792)"><path d="M14.7 10.5 L55.9 0.7 Q61.5 -0.6 64.3 2.6 L75.6 17.2 Q77.2 19.4 76.6 23.5 L76.9 43 L78 58.8 L53.5 83.2 Q50.3 85.8 46.5 84.5 L7 72.3 Q2.3 70.8 1.9 65.5 L0.8 31 Q0.7 28 2.8 25.3 Z" fill="#fbe4e0" stroke="#000" stroke-width="2.3" stroke-linejoin="round"/><g fill="#ff2a14"><ellipse cx="19.7" cy="14.8" rx="1.3" ry="1.1"/><ellipse cx="34.6" cy="16.8" rx="4.6" ry="4"/><ellipse cx="50.2" cy="15.8" rx="1.1" ry="1"/><ellipse cx="59.8" cy="10.9" rx="4.2" ry="3"/><ellipse cx="12.9" cy="24.2" rx="3" ry="3.6"/><ellipse cx="64.4" cy="28.8" rx="4.3" ry="3"/><ellipse cx="52.3" cy="26.8" rx="0.9" ry="0.8"/><ellipse cx="65.4" cy="43.4" rx="2.8" ry="2.5"/><ellipse cx="66.1" cy="51.3" rx="0.8" ry="0.8"/><ellipse cx="71.6" cy="56.5" rx="2.6" ry="2.3"/><ellipse cx="61.4" cy="63.2" rx="4.4" ry="4.6"/><ellipse cx="7.4" cy="68.7" rx="2.6" ry="2"/><ellipse cx="47.3" cy="78.4" rx="2.2" ry="2"/></g><circle cx="30.7" cy="49.2" r="24.4" fill="#878884" stroke="#000" stroke-width="2"/></g>
<g transform="translate(683.3 792)"><path d="M14.7 10.5 L55.9 0.7 Q61.5 -0.6 64.3 2.6 L75.6 17.2 Q77.2 19.4 76.6 23.5 L76.9 43 L78 58.8 L53.5 83.2 Q50.3 85.8 46.5 84.5 L7 72.3 Q2.3 70.8 1.9 65.5 L0.8 31 Q0.7 28 2.8 25.3 Z" fill="#f9c4be" stroke="#000" stroke-width="2.3" stroke-linejoin="round"/><circle cx="30.7" cy="49.2" r="24.4" fill="#7e716d" stroke="#000" stroke-width="2"/></g>
<g transform="translate(847.5 792)"><path d="M14.7 10.5 L55.9 0.7 Q61.5 -0.6 64.3 2.6 L75.6 17.2 Q77.2 19.4 76.6 23.5 L76.9 43 L78 58.8 L53.5 83.2 Q50.3 85.8 46.5 84.5 L7 72.3 Q2.3 70.8 1.9 65.5 L0.8 31 Q0.7 28 2.8 25.3 Z" fill="#e3b9dd" stroke="#000" stroke-width="2.3" stroke-linejoin="round"/><circle cx="30.7" cy="49.2" r="24.4" fill="#7e716d" stroke="#000" stroke-width="2"/></g>
<g transform="translate(1019.5 792)"><path d="M14.7 10.5 L55.9 0.7 Q61.5 -0.6 64.3 2.6 L75.6 17.2 Q77.2 19.4 76.6 23.5 L76.9 43 L78 58.8 L53.5 83.2 Q50.3 85.8 46.5 84.5 L7 72.3 Q2.3 70.8 1.9 65.5 L0.8 31 Q0.7 28 2.8 25.3 Z" fill="#f6e1f3" stroke="#000" stroke-width="2.3" stroke-linejoin="round"/><g fill="#7a2d9e"><ellipse cx="19.7" cy="14.8" rx="1.3" ry="1.1"/><ellipse cx="34.6" cy="16.8" rx="4.6" ry="4"/><ellipse cx="50.2" cy="15.8" rx="1.1" ry="1"/><ellipse cx="59.8" cy="10.9" rx="4.2" ry="3"/><ellipse cx="12.9" cy="24.2" rx="3" ry="3.6"/><ellipse cx="64.4" cy="28.8" rx="4.3" ry="3"/><ellipse cx="52.3" cy="26.8" rx="0.9" ry="0.8"/><ellipse cx="65.4" cy="43.4" rx="2.8" ry="2.5"/><ellipse cx="66.1" cy="51.3" rx="0.8" ry="0.8"/><ellipse cx="71.6" cy="56.5" rx="2.6" ry="2.3"/><ellipse cx="61.4" cy="63.2" rx="4.4" ry="4.6"/><ellipse cx="7.4" cy="68.7" rx="2.6" ry="2"/><ellipse cx="47.3" cy="78.4" rx="2.2" ry="2"/></g><circle cx="30.7" cy="49.2" r="24.4" fill="#878884" stroke="#000" stroke-width="2"/></g>
<path transform="translate(622.9 844.5)" d="M0 0 L15.7 -6.9 L13.6 -1.9 L39.2 -1.9 L39.2 1.9 L13.6 1.9 L15.7 6.9 Z" fill="#3f5068"/>
<path transform="translate(819.5 844.5)" d="M0 0 L-15.7 -6.9 L-13.6 -1.9 L-39.5 -1.9 L-39.5 1.9 L-13.6 1.9 L-15.7 6.9 Z" fill="#3f5068"/>
<path transform="translate(984.5 844.5)" d="M0 0 L-15.7 -6.9 L-13.6 -1.9 L-40 -1.9 L-40 1.9 L-13.6 1.9 L-15.7 6.9 Z" fill="#3f5068"/>
<text x="641.7" y="829.2" font-size="21.5" text-anchor="middle">Stress</text>
<text x="799" y="829.2" font-size="21.5" text-anchor="middle">Dox</text>
<text x="964.5" y="828.5" font-size="21.5" text-anchor="middle">Blue</text>
<text x="723" y="904.4" font-size="21.5" text-anchor="middle">OG line</text>
<text x="830.5" y="904.2" font-size="21.5">+CRY2::G3BP<tspan font-size="14" dy="5">ΔN</tspan></text>
<text x="1059" y="904.2" font-size="21.5" text-anchor="middle">OGs</text>
<g transform="translate(517.3 957.5)"><path d="M14.7 10.5 L55.9 0.7 Q61.5 -0.6 64.3 2.6 L75.6 17.2 Q77.2 19.4 76.6 23.5 L76.9 43 L78 58.8 L53.5 83.2 Q50.3 85.8 46.5 84.5 L7 72.3 Q2.3 70.8 1.9 65.5 L0.8 31 Q0.7 28 2.8 25.3 Z" fill="#fbe4e0" stroke="#000" stroke-width="2.3" stroke-linejoin="round"/><g fill="#ff2a14"><ellipse cx="19.7" cy="14.8" rx="1.3" ry="1.1"/><ellipse cx="34.6" cy="16.8" rx="4.6" ry="4"/><ellipse cx="50.2" cy="15.8" rx="1.1" ry="1"/><ellipse cx="59.8" cy="10.9" rx="4.2" ry="3"/><ellipse cx="12.9" cy="24.2" rx="3" ry="3.6"/><ellipse cx="64.4" cy="28.8" rx="4.3" ry="3"/><ellipse cx="52.3" cy="26.8" rx="0.9" ry="0.8"/><ellipse cx="65.4" cy="43.4" rx="2.8" ry="2.5"/><ellipse cx="66.1" cy="51.3" rx="0.8" ry="0.8"/><ellipse cx="71.6" cy="56.5" rx="2.6" ry="2.3"/><ellipse cx="61.4" cy="63.2" rx="4.4" ry="4.6"/><ellipse cx="7.4" cy="68.7" rx="2.6" ry="2"/><ellipse cx="47.3" cy="78.4" rx="2.2" ry="2"/></g><circle cx="30.7" cy="49.2" r="24.4" fill="#878884" stroke="#000" stroke-width="2"/></g>
<g transform="translate(683.3 957.5)"><path d="M14.7 10.5 L55.9 0.7 Q61.5 -0.6 64.3 2.6 L75.6 17.2 Q77.2 19.4 76.6 23.5 L76.9 43 L78 58.8 L53.5 83.2 Q50.3 85.8 46.5 84.5 L7 72.3 Q2.3 70.8 1.9 65.5 L0.8 31 Q0.7 28 2.8 25.3 Z" fill="#f9c4be" stroke="#000" stroke-width="2.3" stroke-linejoin="round"/><circle cx="30.7" cy="49.2" r="24.4" fill="#7e716d" stroke="#000" stroke-width="2"/></g>
<g transform="translate(847.5 957.5)"><path d="M14.7 10.5 L55.9 0.7 Q61.5 -0.6 64.3 2.6 L75.6 17.2 Q77.2 19.4 76.6 23.5 L76.9 43 L78 58.8 L53.5 83.2 Q50.3 85.8 46.5 84.5 L7 72.3 Q2.3 70.8 1.9 65.5 L0.8 31 Q0.7 28 2.8 25.3 Z" fill="#ffffff" stroke="#000" stroke-width="2.3" stroke-linejoin="round"/><circle cx="30.7" cy="49.2" r="24.4" fill="#7e716d" stroke="#000" stroke-width="2"/></g>
<g transform="translate(1019.5 957.7)"><path d="M14.7 10.5 L55.9 0.7 Q61.5 -0.6 64.3 2.6 L75.6 17.2 Q77.2 19.4 76.6 23.5 L76.9 43 L78 58.8 L53.5 83.2 Q50.3 85.8 46.5 84.5 L7 72.3 Q2.3 70.8 1.9 65.5 L0.8 31 Q0.7 28 2.8 25.3 Z" fill="#c3e5a9" stroke="#000" stroke-width="2.3" stroke-linejoin="round"/><circle cx="30.7" cy="49.2" r="24.4" fill="#7e716d" stroke="#000" stroke-width="2"/></g>
<g transform="translate(1183.5 957.7)"><path d="M14.7 10.5 L55.9 0.7 Q61.5 -0.6 64.3 2.6 L75.6 17.2 Q77.2 19.4 76.6 23.5 L76.9 43 L78 58.8 L53.5 83.2 Q50.3 85.8 46.5 84.5 L7 72.3 Q2.3 70.8 1.9 65.5 L0.8 31 Q0.7 28 2.8 25.3 Z" fill="#c3e5a9" stroke="#000" stroke-width="2.3" stroke-linejoin="round"/><circle cx="30.7" cy="49.2" r="24.4" fill="#7e716d" stroke="#000" stroke-width="2"/></g>
<g transform="translate(1348.6 957.7)"><path d="M14.7 10.5 L55.9 0.7 Q61.5 -0.6 64.3 2.6 L75.6 17.2 Q77.2 19.4 76.6 23.5 L76.9 43 L78 58.8 L53.5 83.2 Q50.3 85.8 46.5 84.5 L7 72.3 Q2.3 70.8 1.9 65.5 L0.8 31 Q0.7 28 2.8 25.3 Z" fill="#e1f2d7" stroke="#000" stroke-width="2.3" stroke-linejoin="round"/><g fill="#2aa535"><ellipse cx="19.7" cy="14.8" rx="1.3" ry="1.1"/><ellipse cx="34.6" cy="16.8" rx="4.6" ry="4"/><ellipse cx="50.2" cy="15.8" rx="1.1" ry="1"/><ellipse cx="59.8" cy="10.9" rx="4.2" ry="3"/><ellipse cx="12.9" cy="24.2" rx="3" ry="3.6"/><ellipse cx="64.4" cy="28.8" rx="4.3" ry="3"/><ellipse cx="52.3" cy="26.8" rx="0.9" ry="0.8"/><ellipse cx="65.4" cy="43.4" rx="2.8" ry="2.5"/><ellipse cx="66.1" cy="51.3" rx="0.8" ry="0.8"/><ellipse cx="71.6" cy="56.5" rx="2.6" ry="2.3"/><ellipse cx="61.4" cy="63.2" rx="4.4" ry="4.6"/><ellipse cx="7.4" cy="68.7" rx="2.6" ry="2"/><ellipse cx="47.3" cy="78.4" rx="2.2" ry="2"/></g><circle cx="30.7" cy="49.2" r="24.4" fill="#878884" stroke="#000" stroke-width="2"/></g>
<path transform="translate(621.5 1005.3)" d="M0 0 L15.7 -6.9 L13.6 -1.9 L38.8 -1.9 L38.8 1.9 L13.6 1.9 L15.7 6.9 Z" fill="#3f5068"/>
<path transform="translate(819.5 1005.3)" d="M0 0 L-15.7 -6.9 L-13.6 -1.9 L-39.5 -1.9 L-39.5 1.9 L-13.6 1.9 L-15.7 6.9 Z" fill="#3f5068"/>
<path transform="translate(985 1005.3)" d="M0 0 L-15.7 -6.9 L-13.6 -1.9 L-39 -1.9 L-39 1.9 L-13.6 1.9 L-15.7 6.9 Z" fill="#3f5068"/>
<path transform="translate(1161.7 1005.4)" d="M0 0 L-15.7 -6.9 L-13.6 -1.9 L-39.5 -1.9 L-39.5 1.9 L-13.6 1.9 L-15.7 6.9 Z" fill="#3f5068"/>
<path transform="translate(1321.4 1005.4)" d="M0 0 L-15.7 -6.9 L-13.6 -1.9 L-39.8 -1.9 L-39.8 1.9 L-13.6 1.9 L-15.7 6.9 Z" fill="#3f5068"/>
<text x="641" y="989.2" font-size="21.5" text-anchor="middle">Stress</text>
<text x="799" y="989.2" font-size="21.5" text-anchor="middle">Dox</text>
<text x="799" y="1031.8" font-size="21.5" text-anchor="middle">IAA</text>
<text x="1140.5" y="992.3" font-size="21.5" text-anchor="middle">Stress</text>
<text x="1301" y="992.3" font-size="21.5" text-anchor="middle">Stress</text>
<text x="1301.2" y="1032.2" font-size="21.5" text-anchor="middle">Blue</text>
<text x="557.5" y="1071.9" font-size="21.5" text-anchor="middle">Control SGs</text>
<text x="723" y="1071.9" font-size="21.5" text-anchor="middle">SOG line</text>
<text x="883.6" y="1071.9" font-size="21.5" text-anchor="middle">–AID::G3BP</text>
<text x="1002.5" y="1072.4" font-size="21.5">+CRY2::G3BP<tspan font-size="14" dy="5">ΔN</tspan></text>
<text x="1397" y="1072.4" font-size="21.5" text-anchor="middle">SOGs</text>
<defs>
<filter id="sb" x="-10%" y="-10%" width="120%" height="120%"><feGaussianBlur stdDeviation="1.3"/></filter>
<marker id="mo" viewBox="0 0 6 6" refX="3" refY="3" markerWidth="6" markerHeight="6" markerUnits="userSpaceOnUse"><circle cx="3" cy="3" r="1.95" fill="none" stroke="#6a625f" stroke-width="0.45"/></marker>
<marker id="mr" viewBox="0 0 6 6" refX="3" refY="3" markerWidth="6" markerHeight="6" markerUnits="userSpaceOnUse"><circle cx="3" cy="3" r="2.2" fill="#f0321c"/></marker>
<marker id="mb" viewBox="0 0 6 6" refX="3" refY="3" markerWidth="6" markerHeight="6" markerUnits="userSpaceOnUse"><circle cx="3" cy="3" r="2.2" fill="#a6d0e3"/></marker>
</defs>
<text x="0" y="1318.7" font-size="39" font-weight="bold" stroke="#000" stroke-width="1.6" paint-order="stroke">d</text>
<path d="M388 1402h3v1h-3zM388 1403h4v1h-4zM388 1404h4v1h-4zM379 1405h5v1h-5zM388 1405h4v1h-4zM379 1406h5v1h-5zM388 1406h4v1h-4zM359 1407h5v1h-5zM379 1407h5v1h-5zM358 1408h7v1h-7zM379 1408h3v1h-3zM358 1409h9v1h-9zM358 1410h9v1h-9zM393 1410h3v1h-3zM358 1411h10v1h-10zM380 1411h3v1h-3zM387 1411h4v1h-4zM392 1411h4v1h-4zM360 1412h9v1h-9zM377 1412h6v1h-6zM386 1412h10v1h-10zM351 1413h3v1h-3zM358 1413h4v1h-4zM363 1413h7v1h-7zM375 1413h8v1h-8zM386 1413h10v1h-10zM351 1414h20v1h-20zM372 1414h11v1h-11zM386 1414h6v1h-6zM393 1414h3v1h-3zM351 1415h31v1h-31zM386 1415h6v1h-6zM349 1416h33v1h-33zM384 1416h8v1h-8zM349 1417h42v1h-42zM349 1418h3v1h-3zM355 1418h26v1h-26zM382 1418h8v1h-8zM356 1419h36v1h-36zM344 1420h3v1h-3zM357 1420h36v1h-36zM339 1421h12v1h-12zM357 1421h36v1h-36zM337 1422h16v1h-16zM354 1422h39v1h-39zM337 1423h26v1h-26zM367 1423h29v1h-29zM337 1424h30v1h-30zM368 1424h28v1h-28zM337 1425h59v1h-59zM335 1426h13v1h-13zM350 1426h46v1h-46zM334 1427h15v1h-15zM350 1427h46v1h-46zM334 1428h62v1h-62zM334 1429h62v1h-62zM335 1430h61v1h-61zM336 1431h59v1h-59zM331 1432h4v1h-4zM336 1432h58v1h-58zM331 1433h6v1h-6zM338 1433h55v1h-55zM331 1434h59v1h-59zM330 1435h60v1h-60zM327 1436h64v1h-64zM327 1437h64v1h-64zM327 1438h64v1h-64zM319 1439h3v1h-3zM326 1439h64v1h-64zM319 1440h3v1h-3zM325 1440h66v1h-66zM319 1441h3v1h-3zM325 1441h66v1h-66zM325 1442h66v1h-66zM325 1443h66v1h-66zM326 1444h62v1h-62zM310 1445h3v1h-3zM318 1445h70v1h-70zM310 1446h3v1h-3zM317 1446h71v1h-71zM310 1447h3v1h-3zM317 1447h70v1h-70zM310 1448h3v1h-3zM317 1448h69v1h-69zM310 1449h73v1h-73zM310 1450h73v1h-73zM308 1451h77v1h-77zM307 1452h79v1h-79zM307 1453h79v1h-79zM302 1454h84v1h-84zM300 1455h86v1h-86zM300 1456h77v1h-77zM379 1456h7v1h-7zM300 1457h77v1h-77zM380 1457h6v1h-6zM299 1458h78v1h-78zM380 1458h5v1h-5zM298 1459h78v1h-78zM380 1459h5v1h-5zM298 1460h77v1h-77zM298 1461h77v1h-77zM298 1462h76v1h-76zM292 1463h3v1h-3zM298 1463h76v1h-76zM292 1464h5v1h-5zM298 1464h76v1h-76zM292 1465h81v1h-81zM293 1466h80v1h-80zM292 1467h79v1h-79zM287 1468h83v1h-83zM286 1469h84v1h-84zM286 1470h84v1h-84zM286 1471h84v1h-84zM286 1472h83v1h-83zM287 1473h78v1h-78zM288 1474h77v1h-77zM288 1475h76v1h-76zM276 1476h3v1h-3zM286 1476h80v1h-80zM276 1477h3v1h-3zM285 1477h82v1h-82zM276 1478h3v1h-3zM284 1478h83v1h-83zM368 1478h3v1h-3zM281 1479h86v1h-86zM368 1479h4v1h-4zM276 1480h3v1h-3zM281 1480h84v1h-84zM368 1480h4v1h-4zM276 1481h4v1h-4zM281 1481h77v1h-77zM360 1481h4v1h-4zM369 1481h3v1h-3zM276 1482h81v1h-81zM276 1483h79v1h-79zM273 1484h82v1h-82zM271 1485h84v1h-84zM270 1486h85v1h-85zM270 1487h85v1h-85zM269 1488h85v1h-85zM267 1489h86v1h-86zM267 1490h86v1h-86zM266 1491h87v1h-87zM266 1492h87v1h-87zM266 1493h88v1h-88zM263 1494h91v1h-91zM263 1495h85v1h-85zM349 1495h5v1h-5zM263 1496h85v1h-85zM349 1496h5v1h-5zM263 1497h85v1h-85zM350 1497h3v1h-3zM263 1498h85v1h-85zM263 1499h84v1h-84zM263 1500h84v1h-84zM263 1501h84v1h-84zM263 1502h84v1h-84zM252 1503h4v1h-4zM263 1503h82v1h-82zM250 1504h8v1h-8zM263 1504h73v1h-73zM337 1504h7v1h-7zM250 1505h86v1h-86zM250 1506h86v1h-86zM250 1507h86v1h-86zM250 1508h86v1h-86zM252 1509h81v1h-81zM253 1510h79v1h-79zM254 1511h79v1h-79zM249 1512h4v1h-4zM254 1512h79v1h-79zM248 1513h85v1h-85zM248 1514h84v1h-84zM248 1515h4v1h-4zM253 1515h78v1h-78zM250 1516h81v1h-81zM237 1517h4v1h-4zM247 1517h81v1h-81zM237 1518h6v1h-6zM245 1518h75v1h-75zM322 1518h5v1h-5zM237 1519h6v1h-6zM245 1519h75v1h-75zM322 1519h6v1h-6zM238 1520h5v1h-5zM245 1520h75v1h-75zM322 1520h6v1h-6zM239 1521h4v1h-4zM244 1521h76v1h-76zM323 1521h5v1h-5zM239 1522h3v1h-3zM244 1522h76v1h-76zM239 1523h3v1h-3zM244 1523h79v1h-79zM244 1524h79v1h-79zM243 1525h80v1h-80zM242 1526h81v1h-81zM241 1527h82v1h-82zM236 1528h3v1h-3zM240 1528h80v1h-80zM236 1529h74v1h-74zM236 1530h75v1h-75zM236 1531h77v1h-77zM238 1532h75v1h-75zM317 1532h3v1h-3zM238 1533h75v1h-75zM317 1533h3v1h-3zM238 1534h75v1h-75zM317 1534h3v1h-3zM237 1535h74v1h-74zM236 1536h75v1h-75zM236 1537h72v1h-72zM233 1538h75v1h-75zM233 1539h75v1h-75zM231 1540h77v1h-77zM231 1541h77v1h-77zM221 1542h6v1h-6zM231 1542h75v1h-75zM219 1543h8v1h-8zM231 1543h73v1h-73zM219 1544h9v1h-9zM231 1544h71v1h-71zM219 1545h9v1h-9zM231 1545h70v1h-70zM219 1546h9v1h-9zM229 1546h73v1h-73zM219 1547h74v1h-74zM296 1547h7v1h-7zM219 1548h3v1h-3zM223 1548h70v1h-70zM296 1548h7v1h-7zM221 1549h72v1h-72zM296 1549h7v1h-7zM221 1550h72v1h-72zM221 1551h72v1h-72zM221 1552h64v1h-64zM291 1552h3v1h-3zM220 1553h67v1h-67zM291 1553h3v1h-3zM220 1554h67v1h-67zM291 1554h3v1h-3zM215 1555h4v1h-4zM220 1555h68v1h-68zM214 1556h74v1h-74zM213 1557h75v1h-75zM202 1558h4v1h-4zM213 1558h72v1h-72zM202 1559h5v1h-5zM213 1559h7v1h-7zM221 1559h59v1h-59zM202 1560h5v1h-5zM213 1560h7v1h-7zM221 1560h56v1h-56zM291 1560h3v1h-3zM203 1561h4v1h-4zM213 1561h7v1h-7zM221 1561h56v1h-56zM291 1561h3v1h-3zM213 1562h7v1h-7zM221 1562h56v1h-56zM291 1562h3v1h-3zM219 1563h8v1h-8zM228 1563h46v1h-46zM218 1564h56v1h-56zM209 1565h6v1h-6zM217 1565h54v1h-54zM206 1566h10v1h-10zM217 1566h49v1h-49zM206 1567h10v1h-10zM217 1567h49v1h-49zM206 1568h10v1h-10zM217 1568h49v1h-49zM206 1569h9v1h-9zM218 1569h48v1h-48zM206 1570h8v1h-8zM220 1570h46v1h-46zM199 1571h5v1h-5zM208 1571h6v1h-6zM227 1571h23v1h-23zM252 1571h12v1h-12zM199 1572h5v1h-5zM208 1572h6v1h-6zM224 1572h39v1h-39zM199 1573h5v1h-5zM208 1573h6v1h-6zM216 1573h3v1h-3zM223 1573h40v1h-40zM197 1574h3v1h-3zM201 1574h3v1h-3zM208 1574h11v1h-11zM222 1574h41v1h-41zM194 1575h6v1h-6zM201 1575h3v1h-3zM209 1575h10v1h-10zM222 1575h44v1h-44zM194 1576h6v1h-6zM201 1576h3v1h-3zM209 1576h9v1h-9zM222 1576h33v1h-33zM256 1576h10v1h-10zM192 1577h7v1h-7zM201 1577h3v1h-3zM210 1577h8v1h-8zM224 1577h31v1h-31zM256 1577h10v1h-10zM192 1578h7v1h-7zM210 1578h8v1h-8zM224 1578h28v1h-28zM253 1578h6v1h-6zM260 1578h6v1h-6zM192 1579h7v1h-7zM210 1579h8v1h-8zM224 1579h35v1h-35zM261 1579h5v1h-5zM190 1580h9v1h-9zM212 1580h6v1h-6zM220 1580h39v1h-39zM260 1580h6v1h-6zM190 1581h7v1h-7zM201 1581h3v1h-3zM205 1581h6v1h-6zM220 1581h39v1h-39zM260 1581h6v1h-6zM190 1582h4v1h-4zM201 1582h10v1h-10zM216 1582h3v1h-3zM220 1582h31v1h-31zM252 1582h7v1h-7zM260 1582h5v1h-5zM191 1583h3v1h-3zM198 1583h15v1h-15zM216 1583h3v1h-3zM220 1583h21v1h-21zM244 1583h15v1h-15zM260 1583h5v1h-5zM198 1584h42v1h-42zM247 1584h12v1h-12zM261 1584h4v1h-4zM197 1585h43v1h-43zM247 1585h6v1h-6zM197 1586h44v1h-44zM247 1586h5v1h-5zM197 1587h7v1h-7zM205 1587h36v1h-36zM248 1587h4v1h-4zM198 1588h21v1h-21zM221 1588h9v1h-9zM232 1588h9v1h-9zM248 1588h4v1h-4zM191 1589h4v1h-4zM199 1589h20v1h-20zM222 1589h19v1h-19zM190 1590h5v1h-5zM199 1590h20v1h-20zM221 1590h19v1h-19zM190 1591h6v1h-6zM199 1591h18v1h-18zM221 1591h19v1h-19zM190 1592h6v1h-6zM200 1592h40v1h-40zM188 1593h8v1h-8zM200 1593h37v1h-37zM187 1594h9v1h-9zM200 1594h37v1h-37zM239 1594h3v1h-3zM247 1594h3v1h-3zM186 1595h8v1h-8zM201 1595h35v1h-35zM239 1595h3v1h-3zM246 1595h4v1h-4zM186 1596h7v1h-7zM198 1596h27v1h-27zM226 1596h10v1h-10zM239 1596h3v1h-3zM246 1596h4v1h-4zM186 1597h7v1h-7zM197 1597h28v1h-28zM226 1597h9v1h-9zM246 1597h4v1h-4zM186 1598h7v1h-7zM194 1598h29v1h-29zM226 1598h6v1h-6zM247 1598h3v1h-3zM186 1599h37v1h-37zM228 1599h6v1h-6zM188 1600h3v1h-3zM192 1600h31v1h-31zM230 1600h5v1h-5zM184 1601h3v1h-3zM191 1601h7v1h-7zM201 1601h22v1h-22zM229 1601h6v1h-6zM184 1602h3v1h-3zM188 1602h9v1h-9zM200 1602h22v1h-22zM229 1602h6v1h-6zM181 1603h16v1h-16zM200 1603h19v1h-19zM226 1603h9v1h-9zM181 1604h16v1h-16zM200 1604h17v1h-17zM223 1604h7v1h-7zM231 1604h4v1h-4zM181 1605h17v1h-17zM200 1605h15v1h-15zM223 1605h7v1h-7zM182 1606h16v1h-16zM200 1606h13v1h-13zM223 1606h7v1h-7zM186 1607h26v1h-26zM220 1607h10v1h-10zM186 1608h26v1h-26zM218 1608h12v1h-12zM189 1609h18v1h-18zM208 1609h4v1h-4zM218 1609h11v1h-11zM186 1610h3v1h-3zM190 1610h17v1h-17zM218 1610h6v1h-6zM175 1611h3v1h-3zM184 1611h5v1h-5zM190 1611h15v1h-15zM218 1611h6v1h-6zM175 1612h3v1h-3zM184 1612h5v1h-5zM190 1612h14v1h-14zM211 1612h3v1h-3zM218 1612h6v1h-6zM175 1613h3v1h-3zM184 1613h16v1h-16zM208 1613h7v1h-7zM220 1613h4v1h-4zM186 1614h12v1h-12zM199 1614h4v1h-4zM208 1614h7v1h-7zM186 1615h6v1h-6zM199 1615h4v1h-4zM208 1615h7v1h-7zM220 1615h3v1h-3zM186 1616h5v1h-5zM199 1616h4v1h-4zM208 1616h7v1h-7zM219 1616h5v1h-5zM187 1617h3v1h-3zM208 1617h7v1h-7zM219 1617h5v1h-5zM187 1618h3v1h-3zM209 1618h5v1h-5zM219 1618h5v1h-5zM187 1619h3v1h-3zM219 1619h4v1h-4zM200 1620h3v1h-3zM196 1621h3v1h-3zM200 1621h3v1h-3zM196 1622h3v1h-3zM200 1622h3v1h-3zM196 1623h7v1h-7zM195 1624h5v1h-5zM195 1625h5v1h-5zM195 1626h5v1h-5zM195 1627h5v1h-5zM195 1628h5v1h-5zM197 1629h3v1h-3z" fill="#0b0707" filter="url(#sb)"/>
<g><path fill="none" d="M134.4 1642.9l11.5 -16.4l5.2 -18.9l3.6 47.5l1.9 -54.7l0.7 39.7l0.1 5.7l0 -23.7l0.1 -7.6l0.6 -29.3l2.2 44.7l0.2 -7.6l0.4 21.2l0.2 11.6l1.8 -52.3l0 29.8l0.3 18.4l1.1 -19.6l2.1 -24.9l0.2 17.5l0.2 -18.1l0.9 -19.8l0.2 27l0.1 12.7l0.4 -31.9l0.5 48.9l0.1 -15.8l0.3 -20.8l0.1 -6.1l0.1 50.8l0.1 -25.1l0.2 10.2l0.5 -29.1l1 14.1l0.4 23.3l0 2.2l0.1 -3.5l0.3 -64l0 35.5l0.1 8.6l0.4 -48.5l0 55.2l0.1 -34.7l0.1 12.5l0.2 12.8l0.6 -8.5l0.9 17.8l0.4 -7l0.3 -35.9l0.2 23.2l0.4 -2l0 27.4l0.2 -25l0.1 15.2l0.2 -3.5l0.1 -23.1l0.3 14.3l0.2 -44.4l0 35.7l0.2 -12l0.3 7.8l0 13l0.4 6.7l0 -55l0.2 36.2l0.7 35.9l0.9 -73.2l0.1 29.7l0.2 26.9l0.5 -32.9l0.1 47.6l0 -70.2l0.4 1.2l0.1 17.9l0 18.2l0.1 -19.6l0.1 22.6l0 49.7l0.8 -80.1l0 -32.9l0.2 44.7l0.3 -29.8l0 39l0.1 -18.2l0 28.2l0.3 -17l0.2 22.1l0.3 2.1l0 -10.6l0.6 -8.3l0 9.4l0.2 -9.7l0.3 29.3l0.2 -1.6l0.2 -34.2l0 18.5l0.2 -4.1l0.5 11.1l0.1 5.5l0 4.5l0.1 -22.8l0.1 -15.6l0.2 32l0.1 -10.5l0.2 3.4l0 -19.7l0.3 23.6l0.1 2.6l0.1 -12.7l0.1 7.5l0.4 -58.6l0 34.3l0.1 -12.8l0.1 81.4l0.1 -57.8l0.1 8l0 41.4l0 -51l0.2 16.7l0.1 -20.5l0 10.7l0.1 -6.9l0.4 -26.7l0.4 47.2l0.2 20.1l0.1 -30.9l0 -8.2l0.1 -0.2l0.1 8.8l0 23.3l0.2 -31.9l0 -14.3l0 38.1l0.2 -54.3l0.1 35.3l0 12.4l0.1 13.5l0.1 -45.2l0 10.4l0.1 3.6l0 22.6l0.2 -41.3l0 16.6l0.1 20.2l0.2 -4.6l0 2.7l0 -3.8l0.2 -5.7l0.3 -20.3l0.3 52.5l0.1 -27.8l0.1 -18.7l0 2.9l0.1 -40.8l0.3 76.8l0 -61.4l0.1 64.9l0 -21l0 -34.3l0.1 51l0.6 -47.4l0 12.3l0.2 -11.1l0.1 11.3l0.1 9.3l0 -21.2l0 19.6l0.4 14.2l0 -46.1l0.3 23.2l0.1 9.7l0 1.7l0.1 2.9l0.1 49.5l0.1 -44.3l0 17.3l0.1 -21.9l0 10.1l0.1 35.7l0 -47.1l0 -27l0.1 45.3l0 -24.5l0.3 -22l0.2 24.3l0.1 11.6l0.1 5.7l0.2 2.1l0 -45.6l0.1 3.4l0 34.2l0.1 -1.5l0.1 31.4l0.1 -17.7l0 -0.5l0.2 -31.4l0 26.4l0.2 -14.7l0 23.9l0.2 -31.7l0.1 47.9l0.1 -79.9l0.1 -1.5l0 72.8l0.2 -38.2l0.1 -20.8l0 32.5l0.1 16.7l0.2 -29.2l0 10.1l0.1 -37.1l0.2 55.7l0.2 -46.1l0 11.1l0 10.7l0.1 -24.3l0.1 8.2l0 -30.7l0.3 12.3l0.1 21l0 52.6l0 -48.3l0.1 30.2l0.1 -38.1l0 36.6l0.2 -48.1l0.2 56.9l0 -20.1l0.1 6.1l0.1 22l0 -11.7l0 -2.2l0.1 -7l0.3 -41.7l0 11.9l0.1 12.2l0 -0.6l0 40l0.1 -52.8l0.1 26.7l0 -8.1l0.4 -15.2l0 19.4l0 -11.6l0.1 18.6l0.1 -41.4l0.1 9.9l0 -42.6l0.1 44.3l0.1 13.9l0.1 -30.2l0 39.6l0.1 -22.8l0 20.4l0.1 -23.9l0 -13.1l0.1 34.4l0.1 -13.4l0 25.2l0.2 -35.4l0.1 13.2l0 -1.1l0.2 60.4l0 -80.3l0.1 31.6l0.1 18.7l0.2 -81.2l0 50l0.1 17.1l0.1 -10.5l0 -18.1l0.1 23.5l0 -7.2l0.1 25.2l0.1 -59l0 37.5l0 -30.3l0.1 50.1l0 -16.6l0.1 5.5l0.1 -52l0 3.6l0.1 -3l0 -4.2l0 24.7l0.1 32.4l0 -33.7l0 44.2l0.2 -14.6l0 -23.6l0.3 -23.3l0 82.5l0.1 -66.9l0.1 52.2l0.3 -1.3l0 -35.5l0 -23.6l0.1 39.2l0.2 -48.3l0.1 10.5l0.1 42.5l0.2 24.6l0.1 -73.6l0.2 23.4l0 -30.9l0.1 59.7l0.1 5.6l0.2 -30.8l0.1 62.6l0.1 -64.2l0.4 61.7l0 -88.2l0 5.6l0 22.7l0.1 -6.6l0.1 2.1l0 -0.8l0.2 -13.1l0.1 36.2l0 -38.8l0 -14l0.1 32l0 22.3l0.1 -27.1l0.3 47.5l0.2 -48.4l0.1 -17.2l0.1 21.1l0.1 -52.3l0.3 77.5l0.2 6l0.1 -37.9l0 53.9l0.1 -18.9l0.1 -43.8l0 38.6l0.1 29.3l0 -51.5l0.2 -16.6l0 -31.3l0.2 76.4l0.1 -28.8l0 -5.4l0 -16.7l0.2 8.8l0.2 31.2l0.2 3.8l0.1 -38.4l0 6.4l0.1 48.7l0.1 -6.6l0.1 -43.4l0.1 11.1l0 40l0.2 -5.9l0 -50.6l0.2 60.3l0 -55.8l0.1 42.7l0 -41.7l0 42.4l0.1 -48.2l0 18.5l0 52.2l0 -35l0 -46.1l0.1 5.6l0 50.7l0 -3.8l0.4 -7.6l0.1 6.5l0 12.5l0.1 -54.6l0.1 -23.6l0 25.2l0.1 18.1l0.1 -9.3l0 78.4l0.1 -75.6l0 38.6l0.2 -43.9l0.1 31.2l0 -28.2l0 -1.3l0 -24.8l0.1 6.9l0.1 45.6l0 -38.1l0.1 2.6l0.1 33.9l0.3 -60.3l0.2 10.1l0.2 74.9l0.1 -66.6l0 53.5l0.1 25.1l0.1 -44.8l0.2 13.9l0.1 -30.8l0.2 1l0.1 -19l0 54l0 0.5l0.3 -47.1l0 34.8l0.1 1.9l0.2 -18.8l0.1 -22l0.1 21.2l0 65.7l0.1 -97.7l0 27.4l0 15.1l0.1 -20.8l0.1 -28.1l0 40.4l0.1 -35.1l0 70.7l0.1 1.1l0 -3.4l0.1 -16.5l0.1 -41.1l0 -3.4l0.1 -29.9l0 62.8l0.1 -1.4l0.2 39.5l0 -28.8l0 -18.8l0.1 4l0 -26.8l0 1.1l0 -0.4l0 60.1l0.1 -51.6l0.2 -10l0 33.7l0.1 -4.7l0 -10.4l0 -17.3l0.3 -2.5l0 30.2l0.1 -7.3l0 30.2l0.1 -8.8l0.4 42.5l0.1 -63.1l0 -16.9l0.2 -8.6l0.2 -8.1l0.1 25.3l0.2 12.5l0 20.6l0.1 50.2l0.1 -114.7l0 70.1l0 -35.9l0.2 24.6l0 -33.1l0 -14.9l0.1 13.5l0 71.7l0.1 -42.2l0 37.4l0.1 -57.8l0.1 -4.9l0 29.9l0.1 13.3l0.1 -57l0 -10.7l0.1 -2.4l0.1 57.7l0 -12.4l0.1 -54.1l0 84.9l0.1 -72l0 50.5l0.1 19.5l0.1 -23.6l0.1 16.8l0 0.8l0.1 -25.6l0 -18.5l0 -16.6l0 52.8l0 -35.7l0.2 51.2l0.2 -72.9l0 43.8l0.1 6.6l0.1 20.4l0 -59.4l0 -6l0.1 45l0 13.9l0.2 -49l0.2 74.2l0.1 -42.4l0 -33.8l0 24.1l0 28.9l0 -31.6l0.1 -5.2l0 35.6l0.1 -43l0.1 51.3l0 -62.2l0.1 49l0 -43.3l0 44.4l0 19l0 -31.2l0 -11.2l0 -38.7l0 25.1l0.1 60l0 -44.5l0 -21.9l0.2 -10.8l0 16.6l0.1 12l0.1 20.6l0 -7.1l0.1 -31.9l0.1 22.8l0.1 -39.8l0.2 18.7l0.1 6.1l0 42.6l0 -56.7l0 36.2l0.1 -58.6l0 55.3l0 23.6l0.2 -32.3l0 -25.8l0.1 37.9l0 -71.2l0.3 23.5l0.1 -2.1l0.2 51.8l0 -55.2l0.2 34.4l0 -23.7l0 1.7l0 23.6l0.1 0.6l0 44.9l0 -60.7l0.1 -22.2l0 10.3l0 -21.2l0.1 39l0.1 42.4l0 -8.1l0.1 -75.8l0.1 21.1l0.2 49.4l0 -18.7l0.1 -28.5l0.1 -12.8l0 27l0.3 43.4l0 -29.9l0.3 -13.9l0.1 18.6l0 26.2l0 -32l0.1 7.8l0 -16.4l0.1 40.9l0.1 -63.3l0.1 -10.4l0.1 91l0.1 -38.8l0 70.3l0.1 -39.8l0 -42.1l0 17l0.2 16.6l0 -20.6l0 3.6l0.1 -51.6l0.2 22.1l0.1 45.4l0 -63l0.1 30.3l0 -58.7l0 55l0.1 37.3l0 -13.9l0 0.8l0.1 3.3l0.1 5.1l0.2 -38.9l0.1 -24.8l0.1 59l0.2 -50.3l0.1 47.6l0 -3.4l0.2 17.8l0.1 -75l0.2 61.8l0.1 -56.8l0 56l0.1 -68.9l0.1 42.8l0 26.7l0.2 -27.3l0.2 -7.7l0 26.2l0.1 25.2l0 -12.4l0.1 -50.9l0.2 -24.4l0.1 40.5l0 34.9l0.2 -54.4l0.1 20.9l0.1 -68.7l0.1 97.2l0.1 51.6l0 -113l0.1 52.4l0 16.6l0.3 2.4l0.2 -13.7l0.1 5l0.2 -10.4l0 19.8l0.1 -11.1l0.2 -48.4l0.1 -6.9l0 9.5l0.3 -9.3l0 -26.2l0 89.5l0 15.5l0.2 -30.1l0.3 6.3l0 -59.9l0 60l0.1 -60.7l0.1 9.7l0.1 -16.1l0.1 73.8l0.2 -7l0 27l0 -30.5l0 -49.4l0.1 59.1l0.1 -8.9l0 31.8l0.3 -10.5l0 1.6l0.2 20.9l0.1 -34.2l0.1 -59.5l0.2 67.9l0.1 -79.2l0.3 4.7l0.1 -11.7l0.5 72.3l0.1 -69.4l0.3 -29.7l0.1 94l0.1 -51.4l0 -10.8l0.4 62.5l0 -2l0 -49.6l0.1 59.2l0.1 -16.3l0 5.4l0.3 -6.8l0.4 6.4l0 17.4l0.1 -87.8l0 19.2l0.3 -4.4l0.1 68.8l0 -19.9l0.1 -0.3l0.1 -40.6l0 57.1l0 -10.6l0.1 -57.5l0.2 62.1l0 -1l0.1 -59.5l0.1 7.8l0 73.3l0 -28.6l0.1 25.1l0.2 6.7l0.1 -94.6l0.1 15.5l0 -9.1l0 54.2l0.1 16.5l0.2 -77.2l0 84.8l0.1 -11.1l0 14.8l0.1 -75.7l0 -8.2l0.1 12.6l0.1 -11.3l0 -4.5l0.2 -3.5l0 90l0 -89.5l0.2 18.1l0 48.1l0.3 -86.2l0.3 98.2l0.3 -65.7l0 62.5l0.1 -4.9l0 15.3l0.5 -90.1l0.2 18l0 -10.1l0 68.9l0.1 10.4l0.1 -70l0.5 -16.3l0.4 66.9l0.2 24.5l0 -77.8l0.1 0.7l0.2 60.3l0.1 -59.8l0.1 -0.5l0.2 88.8l0.1 -113.1l0.1 88.4l0 -5l0 12.8l0.1 -73.4l0 2.5l0.1 -18.2l0.1 17.6l0.1 -20.2l0 71.1l0 -58.7l0.1 61.1l0.1 -54.4l0.1 -15.6l0.2 97.4l0.1 -81l0.1 -22.8l0.3 13.9l0.1 75.8l0.1 -4.6l0.2 -75.3l0.1 11.8l0 -4.3l0.1 1.2l0 -18.3l0.2 96.8l0.2 -4.7l0 5.4l0 -20.9l0.1 -61.7l0.1 47.6l0.1 -74.7l0.1 87l0 16.7l0.5 -29.5l0 -48.6l0 76.2l0 -78.1l0.1 65.7l0.1 -3.9l0.2 -5.8l0.2 -3.7l0 -74l0 90.5l0.5 -90l0 23.6l0.1 -7.9l0.1 55.8l0.2 -53.3l0 -7.9l0.1 64.3l0 23.9l0 16.7l0.2 -31.3l0.1 0l0 4.5l0.1 -9.3l0 -59l0.2 -10.4l0.3 82.3l0 17.3l0.1 -19.6l0.1 10.3l0 -11.4l0.1 -71.8l0 61.4l0.3 -55.1l0 56.4l0.1 35.4l0.1 -100.5l0.2 4.8l0 3.7l0.1 63.4l0 -8l0 0.4l0.1 5.8l0.4 -6.3l0 -5.7l0.4 -63.2l0.1 100.2l0.1 -98.6l0.2 70.4l0 -79.1l0.3 69.1l0 5l0.2 -65l0.1 1.3l0.1 73.7l0.1 -76.2l0.1 68.1l0.1 33.4l0.2 -89.4l0.1 72.8l0.4 -86.5l0.1 11.8l0.2 55.2l0 32.8l0.2 -100.9l0.2 74.5l0.2 -62.3l0.1 -11.8l0.1 76.8l0 -74.1l0.1 73.2l0 -66.2l0 68.1l0.2 1.3l0 -8.4l0 2.5l0.1 -82.2l0.3 15.4l0.2 -0.5l0 72.3l0.2 -68.9l0.1 1.6l0.3 81.6l0.3 -5.8l0.1 -85l0.2 68.2l0.1 4.7l0.1 3.2l0 6.9l0.1 28.3l1.1 -40.7l0.1 11.5l0 -2.8l0 -97.5l0.2 89.1l0.2 54.1l0 -5.2l0.1 -43.9l0.1 -77.6l0.1 90l0.3 -105.5l0 81.3l0.3 -1l0.1 -70.2l0.4 8l0.1 -11.6l0 105.3l0.2 -32.7l0.2 22.7l0.2 -7.7l0.2 -78.1l0 73.7l0.1 -74.8l0 78l0.1 -6.2l0.1 -4.6l0.3 -77.4l0.1 81.1l0 -5.5l0.1 9.4l0 -10.5l0.2 4.8l0.2 -72.2l0.3 77.4l0.1 14l0 -108.5l0 16.4l0.1 81.2l0 -18.3l0 -65.4l0.1 85.3l0.1 2.8l0.2 -17.4l0 -4.3l0.1 -79l0 93.5l0.7 -76.6l0 65.2l0.1 -60.6l0 57l0 30.6l0.3 -16.7l0.1 -73.2l0.3 -6.3l0.2 -3.1l0.8 81.1l0 -7.5l0.2 -71.8l0 -0.6l0 70.4l0.4 -3.2l0.5 -68.9l0.4 -1.8l0.2 83.2l0.1 -86.8l0.2 2l0.1 80.8l0.1 -7.9l0.3 -72.8l0.4 1.2l0 92.5l0.6 -19.9l0.1 6.1l0.2 -88.5l0.3 79.8l0.5 3.3l0.3 -73.9l0.1 83.3l0.3 -6.8l0.1 15.1l0.2 9.3l0.2 -105.5l0.1 -5.2l0.3 116.1l0.2 -108.9l0 -2.1l0 1.4l0.1 73.6l0.2 5.1l0.3 -79.9l0 73.9l0.1 1l0 -102.1l0.3 15.9l0.1 104.7l0.3 -10.1l0.1 -82.5l0.3 69.7l0.9 -80.9l0.1 102.4l0.1 -91.2l0.1 -5.1l0 76.3l0.2 7l0.1 -6.8l0.2 -80l0.4 4.3l0.1 88.2l0.2 -15.3l0 -76.7l0.3 78l0.4 14.2l0.4 -88.5l0.2 -4.2l0 -3.2l0 87.7l0.5 -79.1l0.2 73.2l0.1 6.4l0.3 -95.8l0.8 103.8l0.2 -15.9l0.1 -72.4l0.6 -1.5l0.2 -14.9l0.1 6.3l0.1 93.5l0.2 -87.7l0.2 75.8l0 -3.5l0.3 6.3l0.4 6.1l0.1 -80.1l0.1 77.1l0.1 -86.1l0.1 8.9l0.1 -11.5l0.1 -13.2l0.2 95.6l0.1 -1.5l0.1 -70.8l0.1 -9.2l0.2 81.9l0 -74.5l0.4 0.1l0 75.7l0.1 11.3l0.2 -7.4l0.1 -0.4l0.1 18.2l0.2 -26.9l0.1 16.6l0.1 -18.4l0.2 -73.4l0.2 3.7l0.3 1.7l0.1 74.1l0.1 9l0 -94.2l0.2 78.6l0.7 -76.2l0.2 76.3l0.1 -69.5l0 88.2l0 -97.4l0.2 84.8l0.3 -75.1l0 83.6l0.1 -91.2l0.2 6.9l0 0.2l0.5 77.3l0 -108l0 30.7l0.1 86.4l0.2 -91.6l0.1 -4.9l0.1 80l0.2 -78.9l0.2 78.5l0.3 -73.7l0 -5.3l0.4 81.8l0.1 8.3l0.1 -3.9l0 -80.2l0.1 84.1l0.1 -15.7l0.2 2.8l0 -95.4l0.1 99.4l0 -88.4l0.5 -7l0.2 89.8l0 1.8l0.4 7.8l0.5 -95.1l0.2 102.5l0.3 -103.7l0.2 7.2l0 3.8l0.1 88.8l0.1 -12l0 -94.4l0.1 102.4l0.1 -4.3l0.5 3.8l0.1 6.7l0.2 -94.6l0.1 -0.1l0.1 4.2l0.2 78.6l0.2 -5.3l0.1 1.9l0.1 -81.2l0.4 -18l0.7 19.3l1.2 -5.8l0.4 83.3l0.1 16.9l0.3 -17.2l0.1 -0.3l0.3 -82l0 85.1l0.5 2.7l0.1 -82.4l0.1 81.8l0 -93.5l0.2 13.1l0.2 79.8l0 -86.5l0.3 93.8l0.3 -92.4l0.1 -11.6l0.1 98.3l0.1 -101.2l0 110.8l0 -17.7l0.2 -85.4l0.5 4.3l0.1 80.8l0.4 4l0.1 -4.5l0.1 -79.4l0 -6l0.3 3.8l0.2 -0.1l0.2 -8.5l0.2 6.9l0.2 92l0.8 -7.1l0 -84.7l0.4 87.8l0.3 -4.5l0 -84.2l0.2 94.9l0 -7l0.2 -7.7l0.1 3l0.2 -89.4l0 -12.5l0.3 111.6l0.5 -7.7l0.8 -3.4l0.1 -10.7l0.2 3.6l0 -2.5l0.1 8.9l0.1 -10.5l0 26.8l0.3 -17.5l0.1 12.7l0.6 22l0.2 -9.4l0.2 -113.8l0 5.1l0.3 80.7l0.2 -83.6l0.2 81.3l0.2 2.7l0.1 -91.4l0 11.6l0.1 -8.8l0.1 1.5l0.1 6.9l0 100l0.1 -99.1l0 -1.4l0.2 111.4l0.1 -36.2l0.7 -1.7l0.1 8.1l0.1 0.8l0.1 -3.9l0.3 9.6l0.4 -105l0 9.3l0.6 4.6l0 -0.3l0.2 80l0.5 -82.1l0.3 -16.1l0.7 97.9l1.5 -2.5l0.1 -0.3l0 -82.5l0.1 88.7l0 1.6l0.3 -82.6l0.3 81.6l0 -2.1l0.1 -15.4l0.5 -69.4l0.1 73.4l0.1 16.8l0.1 15.6l0 -101.4l0.3 74.6l0 -96l0.3 20.3l0.1 -10.7l0.2 80.8l0.1 -78.4l0.1 4.6l0.3 79l0 -8.5l0.1 -68.2l0.5 71.5l0.1 -71.8l0 80.1l0 -80.3l0.2 -8.2l0 -5.5l0.1 99.5l0 -7.3l0 -86.9l0.1 79.5l0.1 -71.4l0.2 1.1l0.3 84.2l0.1 -98.2l0.3 81.9l0.2 -71.8l0.1 -9.3l0.5 88.6l0 2.7l0.1 -1.8l0 -83.9l0.5 -13l0.2 90.5l0.1 -74.7l0.2 77l0.7 -73.3l0.3 68l0 -92.6l0.1 3.5l0.1 92.7l0.6 1.5l0.1 5.7l0.1 -85l0.4 76.9l0.3 15.7l0.3 -14l0 -84.3l0.1 1.6l0 8.8l0 68l0.1 0.6l0.5 11.7l0 -83l0.1 3.8l0 -0.6l0.4 -35.2l0.1 103.5l0.3 -1.2l0.3 -75.5l0.1 2.7l0 0.8l0.3 80l0.1 -8.5l0.1 -71l0.2 -0.7l0 66.6l0.1 -66.3l0.5 65.1l0 4.5l0.1 -81.5l0.2 84l0.1 -87.2l0.3 86.6l0.2 -75l0 0l0.1 72.6l0.1 -72.5l0.5 79.6l0 -83.7l0.2 -7.2l0.1 83.1l0.1 -78.5l0 92.4l0.4 -17.5l0.4 -67.9l0.6 62.8l0 -65.9l0.1 66l0.1 6.4l0.1 -73.1l0 70.2l0.2 -3.4l0 -64.1l0.2 -11.8l0.1 9.3l1 0.7l0.3 70.2l0.1 -1.1l0 -76.5l0.1 87.8l0.2 3.3l0.4 -15.1l0.2 -68.5l0.2 103.2l0 -37.9l0 -82.5l0.9 3.4l0 5.7l0.2 1.5l0.3 -2.2l0 2.1l0.4 -38.9l0 112.2l0.3 -80.9l0.1 10.1l0.1 -3.5l0 4.8l0.6 -8.1l0.3 6.6l0.1 70.1l0 -69.7l0.1 -12.6l0.1 84.5l0.3 0.9l0.1 -68.9l0.2 -11.2l0.1 85l0.1 -73.2l0.2 -13.2l0.5 1.5l0.5 77l0.2 -79.2l0.8 78.3l0.4 7.8l0.3 -90.6l0.5 5.4l0 -1.5l0.1 74.1l0.2 2.2l0.1 5.1l0 -83.6l0.2 89l0.1 -6.4l0.2 2.1l0.2 -10.2l0.2 4.9l0.1 -5.9l0 -65.3l0.1 71.8l0.3 -70.6l0 65.1l0 8.6l0.2 -5.7l0.1 -72.9l0.3 -0.3l0.4 86.2l0 -86.8l0 7.1l0.1 -0.7l0.4 -12.5l0 -9.5l0.4 13.4l0 9.6l0.1 -8.6l0.8 -5.4l0.2 -11l0.5 18.4l0.3 79.2l0.3 -75.9l0.1 63.9l0.3 1.9l0 -77.2l0.2 78.2l0 -73l0.1 8.6l0.1 57.5l0 7.9l0.3 -75.8l0.5 -3.5l0 80.1l0 -74.2l0 7.8l0.7 67.3l0 -67.2l0.1 58.4l0 -72.2l0.1 78.7l0.1 -9.2l0 -5l0.2 -55.1l0 59.1l0.1 -58l0 -14.5l0.1 75.9l0.1 -5.9l0.2 6.6l0.2 -66.6l0.7 -7.7l0.1 10.6l0.2 55.6l0.1 0.8l0.1 -1.6l0.1 -66.7l0 -8.5l0.5 91l0 -78.3l0.1 80.8l0 -74l0.1 54.2l0.2 -60.9l0.7 63.1l0.1 -55.4l0.6 64l0.2 -66.9l0 81.6l0.1 -98.1l0.2 11.5l0 61.4l0.3 -54.1l0.4 -6l0.3 72.2l0.1 -6.6l0 0.6l0.1 -67.8l0.1 7.8l0 -15.1l0.5 3.3l0 2.7l0.2 -8.2l0.1 12.9l0 1.9l0.2 -5.8l0.6 8.8l0.1 68.5l0.1 -77.1l0.1 62.4l0 -52.4l0.5 53.2l0.1 -59.7l0.1 -10.3l0 63l0.1 -62.3l0 -1l0 69.2l0.3 -5.9l0.5 -49.1l0.1 51l0 12.1l0 -5.5l0 -61.1l0.1 75.1l0.1 -79.5l0.1 9.2l0.1 49.7l0 -66.8l0.1 63.7l0.1 -61l0 69.4l0.3 -0.1l0.4 29.2l0.3 -95.3l0.4 -2.1l0.1 8.8l0 7l0.1 0.2l0.2 -2.3l0 -8.7l0.3 -1.5l0.1 -2.8l0 74.4l0.1 -76.8l0.1 68.3l0 -2.3l0.1 8.9l0 -13.1l0.1 -54.9l0 9.3l0.3 1.6l0.1 49l0.1 -61.2l0.2 0l0 7.2l0.1 46.6l0 -66.9l0.2 9.7l0 59.8l0.3 -0.3l0 -57.3l0.1 55.6l0.7 -3.2l0.2 -58.9l0.1 56.7l0.1 -37.6l0 -13l0.2 6.5l0.1 55.2l0.1 5.6l0 16.5l0.7 -71.7l0.1 38.4l0.3 2.3l0.2 -50.9l0.2 -8.2l0 56.5l0.2 -46.7l0 51.6l0 -42.5l0.1 -4.8l0 0.7l0.1 -0.7l0 1.8l0.1 40.4l0 13.4l0 -55.2l0.1 5l0 55l0.1 -9.9l0.2 -4.1l0.1 -8.7l0.1 20.9l0.1 -20.7l0.3 19.4l0 -1l0 -72.7l0.1 2.5l0.1 8.3l0.2 47.1l0 -52.9l0.2 2.8l0.3 45.3l0.1 -0.9l0.4 3.7l0 -2.5l0.2 4.7l0.2 10.4l0 -17.7l0.3 1.7l0 -46.3l0 50.4l1 -54.4l0.1 9.9l0.4 -1.4l0 -0.5l0.4 53.2l0.5 -56.8l0.4 56.1l0.1 -3.3l0.2 -60.5l0.1 61.3l0 -10.5l0.2 1.2l0.3 3.4l0.2 -43.3l0 68.3l0.6 -69.6l0.1 0.8l0.2 -0.5l0 38.8l0 7.8l0.2 -54.3l0.2 48.3l0.4 -55.2l0.8 13.6l0 -6.5l0 -0.2l0.2 4.3l0.3 2.9l0.5 36.6l0 19.7l0 -24.5l0.1 0.1l0 17.8l0.1 -59.5l0.1 53.9l0 -40.8l0.3 32.9l0 -5.1l0.1 -26.4l0.1 -4.9l0.2 41.7l0 -2l0 -33l0.1 39.6l0.1 -2.6l0 -10.5l0 6.7l0.1 1l0.2 -0.1l0 -1l0.2 -46.7l0 59l0.4 -53.3l0.1 44.2l0.1 -12.6l0.1 10.8l0 -10.7l0.3 -24.8l0.4 57.1l0.1 -72.3l0.1 12.7l0.1 28l0.4 -1.7l0.2 46.6l0 -47.1l0.1 8.4l0 -4.3l0.1 -28.7l0.9 -9.3l0.1 5.8l0.2 30.1l0.4 -27.5l0 -17.9l0.1 46.9l0.1 -26.8l0.1 21.4l0 8.9l0.5 -19.5l0 -14.9l0.2 22.4l0 -27.2l0.1 -5.8l0.4 32.4l0.2 -23.8l0.1 0.6l0.1 22.5l0.2 -2l0.1 -0.3l0 -12.2l0.1 -17.6l0.1 35.3l0.1 -18.2l0.2 -6.1l0.1 37.9l0 -48.7l0 52.9l0.3 -44.6l0 19.2l0.1 -0.6l0 -19.2l0.2 30l0.1 -12.8l0.1 -12.1l0.1 -14.4l0 39.9l0.1 23.6l0.2 -24.4l0 -21.8l0.4 10.3l0.1 -9.2l0.4 -17.4l0.5 9.5l0.5 15.4l0.2 -0.9l0.3 -15.1l0 21.1l0.1 -3.2l0.1 -4.3l0 -1.8l0.1 -3.1l0.1 -0.4l0.8 4.2l0 10.2l0.4 -37.5l0.1 18.2l0 -6l0.1 38.2l0 -28.6l0.1 -9.5l0.2 -2.2l0.5 20.3l0.1 -17.3l0.2 -15.6l0.4 51.1l0.2 -12.6l0.1 -11.1l0.2 31.3l0 -20l0.1 -29.4l0.4 -1.7l0.2 -12.5l0.1 7.1l1 6.6l0.6 21.3l0.7 -0.5l1.2 -12.5l0.5 -17.8l0.3 30.5l0.3 -12.5l0 -7.2l0.2 -3.4l0.8 21.5l0.3 -33.6l1 42.7l0.8 -37.8l0.4 -18.7l1 15.3l0.4 7.1l1.1 -14.5l1.5 12.5l0.1 -3.5l0.8 -4.3l0.6 36.9l0.6 -49.2l1.2 9.2l1.2 7.5l0.3 -13.7l5.1 11.2l1.5 -15.1l1 2.5l2.4 -2.7l1.5 0.1l0.1 -0.7l1.6 3.2l0.8 4.5l1.3 -27.1l0.4 -0.7l1.1 32.5l1.6 -50l0.2 9.3l2.5 16l1.6 16.2l0 -9.2l0.6 -16.5l0.2 14.1l1.1 3l1.1 -0.3l0.5 -9.6l1.9 -5.4l0.4 -15.1l0.5 18.4l1.1 -7.8l1.1 0.2l0.6 18.4l0.5 -18.3l1.8 12.7l2.7 -17.5l2.8 10l2.7 -0.6l0.1 -1.1l1.2 -4.3l0.1 6l4.7 -4.4" marker-start="url(#mo)" marker-mid="url(#mo)" marker-end="url(#mo)"/></g>
<path fill="none" d="M265.8 1500.4l-7 0.8l93.6 -93.3l-97.3 98.4l61.9 -54.4l-21.1 13.4l-45.6 47l127.8 -121.5l-90.3 80.9l3 -2.3l-50.5 45.1l103.7 -89.8l-52.3 43.2l37.1 -44.8l-80 71.6l2.6 10.5l75.2 -63.2l-42.7 36l-5.8 -2l29 -16.1l9.4 -14.1l-76.1 76.8l24.3 -30.4l-16.3 0.3l119.1 -94.2l-107 95.9l57.4 -45.1l37.1 -37.3l-33.1 30.3l54.2 -51.1l-46.6 37.5l35.1 -26.1l6.4 -11.7l-98.9 103.7l-5.6 4.5l-22.5 17.1l101.3 -93.2l-32.7 30.6l-74.2 51.3l91.4 -68.5l1.1 -1.4l-16.7 17.2l-29 27l-39.2 32.5l79.6 -80.7l-51.6 57l29.5 -30.9l65.9 -58.6l-50.3 50.1l-76.3 61.3l78.5 -74.5l7.5 -2.3l-8.1 14.5l-6.6 1.9l-39.5 36.4l85.2 -93l-41.5 57.2l-45.8 44.5l1.4 -5.4l59.5 -57l-45.4 38.4l-43.6 46.5l80.4 -93.3l26.8 -16l-30.5 39.9l-23.1 11.6l48.8 -44.2l-112.9 100.4l77.1 -71.5l-46.9 39.6l59.3 -48.7l-40 44l-23 16l40.4 -33.2l-23.1 25.6l-17.4 15.8l78.9 -76.5l26.5 -31l-5.9 9.8l3.3 -5.8l-119.6 120.5l66.4 -60.4l38.8 -57.9l-67.6 82.9l53.2 -53.5l-69.1 61.7l-2 0.9l95.7 -89.6l-42.8 40.4l-22.9 19.2l41.6 -38.9l-19.3 18.4l21.5 -24.4l13.3 -9.8l7.6 -11.7l-109 111.2l27.3 -24.9l34 -25.3l44.5 -49.3l8.9 -9.8l-55.1 52.8l-41.7 46.6l6.9 -8.3l73.1 -72.5l-14.2 17.8l-28.6 25l-64.7 55.1l103.7 -92.9l-95.5 90.7l40.6 -47.1l-37 38.1l81 -68.4l-75.9 58.2l111.5 -113l-98.4 103.2l36.1 -24.4l57.3 -68.5l-91.8 100.2l89.3 -83.1l-34.5 34.3l17.6 -25.6l-7.5 11.8l-26.6 29.5l-32.3 31.3l53.4 -61.6l5.6 0.5l-74.4 71l88 -84.4l23.2 -19.2l-13.2 -2.8l-42.9 56l-30.3 19.1l-4.3 15.9l35.5 -37l0.4 3.2l-54 39.4l70.9 -61.1l-20.5 25.4l35.3 -39.2l-38.8 40.8l25.3 -33.6l-60.4 57.8l61.1 -61.4l21.2 -18.7l-38.7 45.2l18.7 -16.7l23.3 -22.4l-37 35.7l0 -9.1l-83.1 81.7l34.6 -31l3.6 4.3l62.5 -81.3l-35.7 44.5l24.9 -15.3l-64.2 57.8l47.3 -39.6l-66.3 49.1l44.4 -27.3l89.3 -91.2l-57.1 50.5l-51.2 50.5l-32.5 29.9l67.8 -61l-30 24.2l-13.7 15.5l81.5 -71.7l7.5 -7.7l19.6 -23.8l-71.6 63.5l-32 29.4l9.4 -6l-32.5 26l28.8 -15.9l25.7 -25.6l-53.1 48.6l48.1 -50l-47.7 45.4l82.7 -72l-24.7 22.5l33.3 -50.4l-83 98.9l7.4 -10.7l-7.3 6.3l75.2 -81.7l-9 11.3l-66.3 66.2l15.2 -4.6l100.6 -95.9l-68.7 56.3l36.8 -44.3l19.1 -1.3l7.4 -11.9l-38.9 42.8l-46.8 42.5l-28.2 19.4l50.6 -36.9l-59.4 55.3l89.7 -96" marker-start="url(#mr)" marker-mid="url(#mr)" marker-end="url(#mr)"/>
<path fill="none" d="M349.3 1503l56.4 -67.1l-45.6 39.5l7.5 4.4l-46.6 55.6l4.3 -22l-1.8 8.3l86.8 -85.5l-85.2 81.7l-12.9 10.5l-14.8 25.7l75.8 -91.1l-62 81.1l43.5 -58.8l-2.3 2.3l-26.4 43.8l86.8 -103l-61.3 59.1l-46.4 52.8l56.7 -63l-13.4 13.3l72.5 -62.9l-24.3 27.2l-100.6 97.2l57.5 -66.8l-24.2 34.1l63.6 -64.3l-2 -8.6l2.9 -1.5l-45.4 44.2l-28.3 33.7l8.8 -13.3l13.6 -14.7l50.2 -44.4l-36.3 38l-59.3 57.7l-0.1 0.1l20.8 -14.3l20.8 -30.9l39.7 -36l-40.5 42.7l19.2 -18l-34.6 32.6l16.9 -24l37.3 -38.8l-53.1 74.4l6.7 -15.7l-19.6 15.8l56.1 -59.4l43.2 -48.2l-16.6 28.8l-60.5 49l-22.6 33.1l65.2 -73.4l-47.8 53.2l-9.4 15.4l1.3 -7l-27.6 25.3l34.2 -31.2l18.4 -21.1l56.4 -59.2l-85.3 94.5l6.9 -6l88.2 -103.1l-86.9 92.8l-33.3 41.5l51.2 -50.8l-37 36.8l112.3 -111.5l-18.8 14.1l-107.1 105.7l8.3 -9.5l94 -93.9l-45.7 52.5l0.9 -9.4l18 -20.4l-44.6 63l17 -35.6l25.8 -29.4l-30.2 31.9l1.7 15.4l38.2 -47.2l-6.7 11.3l-1.2 -4.3l6.3 -9.2l28.6 -20.5l-8 3.8l-39.6 33.6l-53.3 65.7l76.1 -85.6l-72 81l72.4 -83.4l42.4 -40l-10 9.1l-93.2 96.4l32.7 -40.7l11.6 -4.9l-32 32.4l92.4 -76.9l-3.2 -1.6l-32.3 15.4l-48.7 59.8l21.4 -27.1l33.1 -39.8l-43.3 42.5l-34.6 45.2l-17.5 23.6l75 -90.7l-56 65.4l21.1 -31.2l-32.1 45.1l72 -72.2l16.6 -22.3l-24.6 27.4l-7 -0.3l50.4 -53l-97.7 120.1l97.3 -105l-73.3 70.5l7.9 -6.8l68.7 -78.2l-17.1 21.9l-105.2 104.3l13.1 -11.9l6.3 -5.4l-19.5 23.6l93 -96l-23.7 14.9l-26.9 31.9l66 -72.1l-80.8 82.5l-19.3 22l24.2 -18.4l-20.7 20.8l28.3 -26.4l-26.6 33.1l13.3 -17.7l-10.8 2.9l70.3 -69.8l-47.8 53.2l-12.3 6.2l0.6 8.3l-20.3 16l68.8 -80.2l22.5 -13.4l12.3 -9l-59.8 63.7l-8.2 -5.4l-21 41.4l38.4 -61.2l16.4 -16.8l-63.9 67.7l99 -91.8l-80.9 83.6l51.6 -57.7l-22.3 39.6l41.9 -53.2l-34.5 25.4l19.3 0.8l-45 22.9l-11.7 12.5l-17.4 21l105.1 -98.3l-32.9 20.4l-12 18.1l25.7 -24.3l-28 27.4l-59 65.6l7.9 -10.2l56.8 -62.9l33.6 -21.9l-11.7 2.8l-25.7 21.7l51.4 -42.5l-97.1 89.1l54.6 -47l46.1 -46.4l-53.6 49.8l23.4 -13.3l-27.5 10.5l-14.6 16.5l42.5 -38.3l17.5 -16.5l-33.1 23.6l8.3 0.9l-18.1 10.7l-31.1 38.1l-37.1 52.7l106 -131l-17.8 25.7l-63.3 74l33.7 -45.2l67.5 -60l-127.6 118.9l88.3 -85.2l-47.8 46.2l11.9 -6.1l47.2 -51l-74.7 68.9l-28.2 36.5l79.8 -84.6l17.2 -16.3l-20.2 17.2l-42.8 43.4l2.7 -4.2l52.4 -46.5l-15.7 5.6l10.5 -2.9l-72 85.3l114.2 -116l-60.3 46.3l-61.5 62.7l-10.4 15.4l72.4 -81l-65.4 69.1l41.6 -26.5l-29.1 19.4l-11.1 6.4l19.2 -16l5.4 -9.4l19.2 -23.8l-37.8 44.5l46.3 -51.9l11.4 -11.1l17 -7.7" marker-start="url(#mb)" marker-mid="url(#mb)" marker-end="url(#mb)"/>
<path d="M105.3 1307 V1700.6 H510.8" fill="none" stroke="#222" stroke-width="1.5"/>
<line x1="93.3" y1="1654" x2="105.3" y2="1654" stroke="#222" stroke-width="1.5"/>
<text x="80.3" y="1662" font-size="22.5" text-anchor="end">0</text>
<line x1="147.5" y1="1700.6" x2="147.5" y2="1711.9" stroke="#222" stroke-width="1.5"/>
<text x="147.5" y="1741.6" font-size="22.5" text-anchor="middle">0</text>
<line x1="93.3" y1="1534.9" x2="105.3" y2="1534.9" stroke="#222" stroke-width="1.5"/>
<text x="80.3" y="1542.9" font-size="22.5" text-anchor="end">5</text>
<line x1="266.6" y1="1700.6" x2="266.6" y2="1711.9" stroke="#222" stroke-width="1.5"/>
<text x="266.6" y="1741.6" font-size="22.5" text-anchor="middle">5</text>
<line x1="93.3" y1="1415.8" x2="105.3" y2="1415.8" stroke="#222" stroke-width="1.5"/>
<text x="80.3" y="1423.8" font-size="22.5" text-anchor="end">10</text>
<line x1="385.7" y1="1700.6" x2="385.7" y2="1711.9" stroke="#222" stroke-width="1.5"/>
<text x="385.7" y="1741.6" font-size="22.5" text-anchor="middle">10</text>
<text x="127.7" y="1368.6" font-size="26.5">OGs</text>
<text x="127.7" y="1399.8" font-size="26.5"><tspan font-style="italic">n</tspan> = 10,827</text>
<text x="127.7" y="1430.8" font-size="26.5"><tspan font-style="italic">R</tspan><tspan font-size="17" dy="7">s</tspan><tspan dy="-7"> = 0.92</tspan></text>
<text x="505.3" y="1650.4" font-size="27" text-anchor="end" fill="#e9553a">Enriched (199)</text>
<text x="505.3" y="1681.6" font-size="27" text-anchor="end" fill="#9ccbe6">Depleted (225)</text>
<text transform="translate(24 1504) rotate(-90)" font-size="27.5" text-anchor="middle">Granule mRNA log<tspan font-size="18" dy="6">2</tspan><tspan dy="-6">(RPM)</tspan></text>
<path d="M805 1437h3v1h-3zM828 1437h3v1h-3zM805 1438h3v1h-3zM827 1438h4v1h-4zM801 1439h10v1h-10zM827 1439h4v1h-4zM801 1440h5v1h-5zM808 1440h6v1h-6zM827 1440h4v1h-4zM801 1441h14v1h-14zM827 1441h4v1h-4zM802 1442h14v1h-14zM801 1443h15v1h-15zM801 1444h15v1h-15zM801 1445h15v1h-15zM823 1445h3v1h-3zM807 1446h10v1h-10zM821 1446h6v1h-6zM839 1446h3v1h-3zM807 1447h10v1h-10zM821 1447h8v1h-8zM839 1447h3v1h-3zM791 1448h3v1h-3zM804 1448h25v1h-25zM831 1448h7v1h-7zM839 1448h3v1h-3zM785 1449h3v1h-3zM789 1449h6v1h-6zM802 1449h27v1h-27zM831 1449h7v1h-7zM785 1450h12v1h-12zM802 1450h27v1h-27zM831 1450h7v1h-7zM785 1451h12v1h-12zM798 1451h30v1h-30zM831 1451h6v1h-6zM777 1452h3v1h-3zM785 1452h42v1h-42zM831 1452h6v1h-6zM771 1453h4v1h-4zM777 1453h3v1h-3zM784 1453h45v1h-45zM832 1453h5v1h-5zM771 1454h5v1h-5zM777 1454h3v1h-3zM781 1454h22v1h-22zM804 1454h25v1h-25zM832 1454h5v1h-5zM771 1455h6v1h-6zM778 1455h37v1h-37zM817 1455h12v1h-12zM832 1455h5v1h-5zM770 1456h7v1h-7zM778 1456h37v1h-37zM816 1456h13v1h-13zM832 1456h6v1h-6zM770 1457h59v1h-59zM832 1457h6v1h-6zM770 1458h59v1h-59zM833 1458h5v1h-5zM767 1459h62v1h-62zM765 1460h5v1h-5zM771 1460h58v1h-58zM765 1461h5v1h-5zM771 1461h58v1h-58zM765 1462h4v1h-4zM772 1462h57v1h-57zM763 1463h3v1h-3zM772 1463h57v1h-57zM760 1464h6v1h-6zM772 1464h57v1h-57zM760 1465h7v1h-7zM772 1465h57v1h-57zM760 1466h8v1h-8zM772 1466h53v1h-53zM826 1466h4v1h-4zM760 1467h8v1h-8zM770 1467h60v1h-60zM760 1468h8v1h-8zM769 1468h61v1h-61zM760 1469h7v1h-7zM768 1469h60v1h-60zM760 1470h68v1h-68zM760 1471h65v1h-65zM760 1472h65v1h-65zM829 1472h3v1h-3zM762 1473h62v1h-62zM829 1473h3v1h-3zM753 1474h6v1h-6zM761 1474h63v1h-63zM829 1474h3v1h-3zM752 1475h72v1h-72zM752 1476h72v1h-72zM751 1477h77v1h-77zM749 1478h68v1h-68zM820 1478h3v1h-3zM824 1478h4v1h-4zM747 1479h70v1h-70zM824 1479h4v1h-4zM743 1480h3v1h-3zM747 1480h70v1h-70zM742 1481h77v1h-77zM740 1482h81v1h-81zM740 1483h81v1h-81zM740 1484h7v1h-7zM748 1484h73v1h-73zM734 1485h4v1h-4zM741 1485h5v1h-5zM747 1485h74v1h-74zM734 1486h4v1h-4zM740 1486h5v1h-5zM746 1486h75v1h-75zM734 1487h4v1h-4zM740 1487h3v1h-3zM746 1487h73v1h-73zM740 1488h3v1h-3zM745 1488h71v1h-71zM742 1489h74v1h-74zM742 1490h74v1h-74zM742 1491h74v1h-74zM740 1492h76v1h-76zM730 1493h4v1h-4zM740 1493h75v1h-75zM728 1494h6v1h-6zM739 1494h75v1h-75zM728 1495h6v1h-6zM739 1495h68v1h-68zM728 1496h7v1h-7zM738 1496h69v1h-69zM726 1497h10v1h-10zM738 1497h69v1h-69zM726 1498h80v1h-80zM726 1499h80v1h-80zM726 1500h79v1h-79zM726 1501h79v1h-79zM725 1502h78v1h-78zM807 1502h3v1h-3zM724 1503h78v1h-78zM803 1503h9v1h-9zM723 1504h79v1h-79zM803 1504h9v1h-9zM723 1505h89v1h-89zM723 1506h89v1h-89zM722 1507h90v1h-90zM721 1508h80v1h-80zM807 1508h4v1h-4zM719 1509h83v1h-83zM719 1510h83v1h-83zM719 1511h83v1h-83zM718 1512h84v1h-84zM711 1513h3v1h-3zM718 1513h84v1h-84zM711 1514h3v1h-3zM718 1514h84v1h-84zM711 1515h3v1h-3zM718 1515h79v1h-79zM798 1515h4v1h-4zM714 1516h3v1h-3zM718 1516h77v1h-77zM798 1516h4v1h-4zM714 1517h81v1h-81zM796 1517h6v1h-6zM714 1518h81v1h-81zM796 1518h3v1h-3zM706 1519h5v1h-5zM714 1519h81v1h-81zM796 1519h3v1h-3zM706 1520h6v1h-6zM713 1520h82v1h-82zM706 1521h6v1h-6zM713 1521h79v1h-79zM706 1522h85v1h-85zM704 1523h86v1h-86zM704 1524h3v1h-3zM708 1524h78v1h-78zM701 1525h84v1h-84zM701 1526h82v1h-82zM701 1527h84v1h-84zM701 1528h85v1h-85zM701 1529h85v1h-85zM698 1530h88v1h-88zM697 1531h88v1h-88zM696 1532h89v1h-89zM696 1533h89v1h-89zM696 1534h84v1h-84zM692 1535h86v1h-86zM691 1536h85v1h-85zM691 1537h85v1h-85zM691 1538h85v1h-85zM689 1539h87v1h-87zM687 1540h88v1h-88zM687 1541h87v1h-87zM687 1542h85v1h-85zM685 1543h86v1h-86zM682 1544h89v1h-89zM682 1545h89v1h-89zM682 1546h85v1h-85zM680 1547h85v1h-85zM680 1548h85v1h-85zM680 1549h3v1h-3zM684 1549h82v1h-82zM682 1550h84v1h-84zM681 1551h86v1h-86zM679 1552h88v1h-88zM679 1553h88v1h-88zM677 1554h89v1h-89zM675 1555h89v1h-89zM675 1556h85v1h-85zM672 1557h85v1h-85zM671 1558h84v1h-84zM671 1559h86v1h-86zM657 1560h3v1h-3zM670 1560h77v1h-77zM748 1560h9v1h-9zM657 1561h4v1h-4zM670 1561h77v1h-77zM748 1561h9v1h-9zM657 1562h4v1h-4zM670 1562h77v1h-77zM748 1562h9v1h-9zM657 1563h4v1h-4zM670 1563h77v1h-77zM748 1563h8v1h-8zM649 1564h3v1h-3zM671 1564h5v1h-5zM677 1564h70v1h-70zM748 1564h7v1h-7zM649 1565h3v1h-3zM671 1565h76v1h-76zM647 1566h5v1h-5zM661 1566h3v1h-3zM665 1566h3v1h-3zM671 1566h75v1h-75zM647 1567h3v1h-3zM661 1567h7v1h-7zM671 1567h75v1h-75zM647 1568h3v1h-3zM661 1568h7v1h-7zM671 1568h74v1h-74zM661 1569h7v1h-7zM671 1569h75v1h-75zM660 1570h8v1h-8zM669 1570h77v1h-77zM660 1571h86v1h-86zM660 1572h6v1h-6zM667 1572h77v1h-77zM662 1573h4v1h-4zM667 1573h77v1h-77zM663 1574h3v1h-3zM667 1574h77v1h-77zM667 1575h76v1h-76zM656 1576h3v1h-3zM667 1576h70v1h-70zM739 1576h4v1h-4zM656 1577h3v1h-3zM666 1577h71v1h-71zM739 1577h3v1h-3zM656 1578h81v1h-81zM653 1579h4v1h-4zM659 1579h77v1h-77zM653 1580h79v1h-79zM653 1581h77v1h-77zM652 1582h3v1h-3zM656 1582h73v1h-73zM651 1583h4v1h-4zM656 1583h3v1h-3zM660 1583h68v1h-68zM650 1584h5v1h-5zM657 1584h71v1h-71zM650 1585h4v1h-4zM657 1585h71v1h-71zM650 1586h3v1h-3zM654 1586h74v1h-74zM654 1587h74v1h-74zM638 1588h4v1h-4zM654 1588h74v1h-74zM638 1589h5v1h-5zM654 1589h68v1h-68zM724 1589h4v1h-4zM638 1590h5v1h-5zM659 1590h63v1h-63zM638 1591h5v1h-5zM660 1591h61v1h-61zM638 1592h5v1h-5zM654 1592h3v1h-3zM660 1592h60v1h-60zM638 1593h5v1h-5zM653 1593h7v1h-7zM661 1593h54v1h-54zM717 1593h4v1h-4zM650 1594h71v1h-71zM727 1594h3v1h-3zM650 1595h60v1h-60zM714 1595h7v1h-7zM727 1595h3v1h-3zM650 1596h60v1h-60zM714 1596h7v1h-7zM727 1596h3v1h-3zM656 1597h53v1h-53zM714 1597h6v1h-6zM649 1598h5v1h-5zM656 1598h53v1h-53zM714 1598h3v1h-3zM649 1599h5v1h-5zM656 1599h52v1h-52zM649 1600h5v1h-5zM655 1600h54v1h-54zM649 1601h4v1h-4zM655 1601h54v1h-54zM649 1602h5v1h-5zM655 1602h54v1h-54zM649 1603h5v1h-5zM655 1603h54v1h-54zM648 1604h23v1h-23zM673 1604h36v1h-36zM648 1605h7v1h-7zM656 1605h13v1h-13zM674 1605h19v1h-19zM700 1605h7v1h-7zM634 1606h5v1h-5zM648 1606h10v1h-10zM661 1606h34v1h-34zM703 1606h3v1h-3zM633 1607h6v1h-6zM649 1607h9v1h-9zM662 1607h19v1h-19zM682 1607h13v1h-13zM710 1607h3v1h-3zM633 1608h6v1h-6zM650 1608h8v1h-8zM666 1608h14v1h-14zM682 1608h13v1h-13zM710 1608h3v1h-3zM630 1609h12v1h-12zM650 1609h9v1h-9zM665 1609h32v1h-32zM708 1609h6v1h-6zM630 1610h13v1h-13zM650 1610h9v1h-9zM665 1610h32v1h-32zM708 1610h6v1h-6zM630 1611h13v1h-13zM650 1611h9v1h-9zM665 1611h32v1h-32zM708 1611h6v1h-6zM631 1612h12v1h-12zM650 1612h9v1h-9zM666 1612h29v1h-29zM708 1612h5v1h-5zM640 1613h3v1h-3zM650 1613h9v1h-9zM670 1613h16v1h-16zM640 1614h3v1h-3zM650 1614h18v1h-18zM669 1614h17v1h-17zM651 1615h17v1h-17zM669 1615h11v1h-11zM681 1615h5v1h-5zM659 1616h9v1h-9zM669 1616h6v1h-6zM659 1617h9v1h-9zM669 1617h6v1h-6zM646 1618h4v1h-4zM659 1618h16v1h-16zM631 1619h3v1h-3zM645 1619h7v1h-7zM659 1619h11v1h-11zM631 1620h3v1h-3zM645 1620h7v1h-7zM659 1620h11v1h-11zM631 1621h3v1h-3zM645 1621h7v1h-7zM659 1621h11v1h-11zM631 1622h3v1h-3zM645 1622h7v1h-7zM659 1622h11v1h-11zM631 1623h3v1h-3zM645 1623h7v1h-7zM659 1623h11v1h-11zM634 1624h5v1h-5zM646 1624h4v1h-4zM652 1624h5v1h-5zM661 1624h11v1h-11zM633 1625h7v1h-7zM651 1625h7v1h-7zM667 1625h6v1h-6zM633 1626h7v1h-7zM651 1626h7v1h-7zM667 1626h6v1h-6zM633 1627h7v1h-7zM651 1627h7v1h-7zM667 1627h6v1h-6zM633 1628h7v1h-7zM651 1628h7v1h-7zM667 1628h6v1h-6zM633 1629h7v1h-7zM651 1629h7v1h-7zM667 1629h6v1h-6zM634 1630h5v1h-5zM652 1630h5v1h-5zM661 1630h3v1h-3zM668 1630h4v1h-4zM651 1631h14v1h-14zM651 1632h14v1h-14zM651 1633h14v1h-14zM651 1634h14v1h-14zM651 1635h14v1h-14zM661 1636h3v1h-3zM641 1639h3v1h-3zM680 1639h3v1h-3zM641 1640h3v1h-3zM680 1640h3v1h-3zM641 1641h3v1h-3zM680 1641h3v1h-3zM641 1642h3v1h-3zM680 1642h3v1h-3zM641 1643h3v1h-3zM680 1643h3v1h-3zM631 1649h5v1h-5zM647 1649h3v1h-3zM631 1650h5v1h-5zM647 1650h3v1h-3zM631 1651h5v1h-5zM647 1651h3v1h-3zM631 1652h5v1h-5zM647 1652h3v1h-3zM631 1653h5v1h-5zM647 1653h3v1h-3z" fill="#0b0707" filter="url(#sb)"/>
<g><path fill="none" d="M599 1651.4l0 -10.4l0 -19.8l0.1 -26.2l6.1 17.4l1.3 -3.7l1.2 -10.9l0.2 14.6l2.2 14.2l0.7 -10.1l1.7 34.9l0.1 -51.8l1.3 -26.9l0 60.3l0.4 -24.3l0.3 42.7l0.9 0l1.3 -30.2l0.2 11.8l0.1 -6.4l0.6 -17.9l0 32.3l0.6 -24.5l0.4 16.5l0.4 -11.8l0.6 -4.7l1.4 10.1l0.2 -5.4l0.7 11.8l0 -32l0.7 7.7l0.2 17.9l0.6 -30.6l0 16.4l0.2 4.1l0.3 4.7l1.4 -16.4l1 1.6l0.2 10.1l0.1 24.5l0.6 -24.5l0.8 -4.1l0.1 14.2l0.2 24.8l0.4 -42.7l0.4 -11.2l0 35.5l0.1 -16.5l0.1 -20.1l0.5 24.8l0.5 0l0.1 -19.7l0 19.7l0.9 30.2l0.1 -30.2l0.1 -8.8l0.1 14.2l0 -26.6l0.1 51.4l0.6 -39l0 28.6l0.1 10.4l0.2 0l0.2 -42.7l0 -14l0.5 11.6l0 -42.1l0 44.5l0.1 42.7l0.7 -70.1l0 45.3l0 -5.4l0 5.4l0.1 -14.2l0.1 8.8l0.2 30.2l0 -53.6l0.3 -4.2l0.5 -18.4l0.1 33.5l0.1 0l0.3 17.9l0.2 6.4l0.1 -11.8l0 5.4l0 24.8l0.1 -42.7l0.1 0l0 17.9l0.5 -21.4l0.1 21.4l0.1 14.4l0.1 -14.4l0.1 -24.5l0.3 -33.3l0.4 52.4l0.1 11.8l0.3 -42.5l0.2 12.8l0 -5.3l0.1 14.4l0.1 -12.4l0.1 -9.1l0.1 60.5l0 -62.3l0.1 23.3l0.2 -20.7l0.2 -9.4l0.1 69.1l0 -39l0.1 8.8l0.2 -40.8l0.2 32l0 28.6l0.1 -53.2l0 5.1l0.2 48.1l0 -14.4l0.3 -33.7l0.1 15.8l0.1 -39.9l0.2 82.6l0 -80.3l0.1 30.3l0.1 -12.2l0.5 37.4l0.3 -26.1l0.1 -9.8l0.1 50.3l0.4 10.4l0.2 -24.8l0.2 -14.2l0.2 8.8l0.7 -4.7l0.2 0l0 -32.4l0.1 56.9l0 0l0 -58.2l0 68.6l0.1 -42.7l0.6 -27.2l0 6.1l0 53.4l0.3 -14.4l0.1 -5.4l0.2 -25.6l0 10.3l0.1 45.5l0.2 -18.4l0 -64.8l0 35.7l0.2 -7.2l0.1 -19.1l0.1 31.1l0.2 24.3l0 -11.8l0.2 -17.1l0.2 4.6l0 -29.6l0.4 -13.2l0 55.3l0.2 -4.7l0.1 -16.4l0.1 -27.2l0 48.3l0.1 30.2l0 -80.8l0.3 -4.9l0.1 55.5l0.2 0l0 0l0.2 5.4l0 24.8l0.1 -18.4l0.1 -38.6l0.1 -9.1l0.1 -28.9l0.1 9.8l0.2 50.3l0 -12.6l0.3 47.5l0.2 -53.6l0.1 -27.8l0.1 42.4l0.1 -61.4l0 100.4l0.1 -62.3l0.1 -23.4l0.2 17.1l0.1 -6l0.1 28.5l0.1 -4.2l0.1 -19l0 30.3l0.2 20.6l0.1 0l0.1 -26.9l0.1 -21.9l0 21.1l0 -4.7l0 -4.5l0.1 -31.9l0.2 48.2l0.1 -13.1l0 21.9l0.1 -59.9l0.1 33.2l0 2.3l0.1 11.9l0.1 -7.6l0 4.3l0.2 -58.8l0 74.6l0 -8.8l0 -48.6l0.1 16.8l0 -24.2l0.1 29.1l0.1 41.1l0 -40.7l0.2 26.5l0.1 0l0.2 14.2l0 -10.1l0 -22.8l0.2 -5.7l0.1 24.4l0 20.6l0.1 -40.1l0.3 -33.2l0.1 18l0.1 48.9l0 6.4l0 0l0.2 -6.4l0.1 0l0 0l0.1 -70.2l0 60.1l0 -10.2l0 -24l0 11.6l0.1 -23.9l0.2 12.2l0.1 -36.5l0.1 25.1l0.3 16.4l0.1 39.4l0 -48.3l0.2 54.7l0 -6.4l0.1 -47l0.2 36.9l0 -21.3l0.2 17.2l0.1 -14.2l0 7.1l0.1 -15.5l0 10.1l0 8.8l0 12.5l0.2 -12.5l0.1 -20.4l0.2 38.3l0 -43.2l0.1 8.3l0.2 -28.5l0 40.1l0.1 37.7l0 -28.6l0 20.6l0.2 -37.2l0 -39.9l0 31.4l0 15.4l0.1 6l0 7.8l0 0l0 16.5l0.1 -56.3l0.1 -14.8l0.2 40.1l0 -49.6l0.1 22.4l0.2 -15.3l0.1 73.5l0.1 -30.7l0.1 -0.3l0 24.6l0.2 -30.4l0.1 -9.6l0 -10.3l0 -12.4l0.1 57.3l0.3 -44.5l0 39.8l0 -55.6l0.1 35l0.1 -29.3l0 84.8l0 -30.2l0 -39.9l0.2 31.1l0 -16.1l0 -11.2l0.1 -25.1l0.2 27.3l0.3 -21.7l0 20.7l0.4 -18.8l0.2 49l0 -34.8l0 39.5l0.1 -8.8l0 -25.1l0 45.7l0.1 -54.1l0.1 54.1l0 -11.8l0.2 11.8l0 -24.3l0.1 24.3l0 -43.1l0.2 -17.1l0.1 31l0.1 -7.9l0 -16.3l0.1 -25l0 41.8l0 -27.7l0.1 10.9l0.1 10.3l0 15.4l0 -0.3l0.1 16.2l0 0l0 -35.1l0.1 1.4l0.1 -15.2l0 44.2l0 -28.4l0.1 38.5l0 -42l0 4.6l0.1 2.6l0 29.4l0.1 -30.3l0.1 -15.9l0 58l0.1 -11.8l0 -16.8l0.1 -24l0.1 -8.8l0.2 -1.3l0 38.4l0.2 7.8l0.1 24.5l0.1 -72.6l0 64.6l0.2 -29.1l0 -35.6l0.1 64.7l0 -16.5l0.2 -73.9l0.1 90.4l0.1 -78.1l0.3 5.1l0.1 11.4l0.1 45.1l0 -65.6l0.1 65.6l0.2 -12l0.5 -2.7l0.1 6.9l0 -6.4l0.2 -33.9l0 -17.9l0 54.8l0.1 -50.6l0.2 61.8l0 -7.8l0 -5.8l0.2 48.5l0 0l0.1 -72.2l0.5 -3.5l0.1 28l0 -29.8l0 -6.6l0 45.1l0.1 14.2l0.1 -5.4l0.1 0l0 -40.7l0 36l0 -11.2l0.1 21.3l0.1 -14.2l0.1 -11.2l0.1 -0.3l0 -34.2l0.1 34l0.1 20.5l0 -12.5l0.1 -37l0 37l0 -55.9l0.1 68.4l0.4 -69.6l0.1 75l0.2 -50.1l0.1 -13.1l0.1 7.5l0 41.5l0.1 20.6l0 -54.1l0.1 22.3l0.1 25.4l0 -73l0.2 87.4l0.1 -24.5l0 10.1l0.3 -55.1l0.1 -33.5l0 88.6l0.1 -53.6l0 -38.4l0.1 66.6l0 -64.9l0.1 65.6l0.2 31.1l0.2 18.4l0.2 -39l0 -53.4l0.2 57.5l0.1 -53.1l0 -9.9l0.1 97.9l0 -109.2l0 84.4l0.2 -66.3l0 52.1l0.1 4.1l0.6 0l0.1 -44.8l0 0.2l0.2 -25.8l0 17.8l0 -27l0 89.7l0.1 -22l0.1 -41.7l0.1 5.6l0 -0.3l0 -6.9l0.1 6.1l0 3.1l0.1 -4.1l0 66.6l0 8l0.1 -80.5l0 56l0.4 24.5l0.1 -24.5l0.3 -60.3l0 45.9l0.1 -41.8l0.4 80.7l0.1 -14.4l0.1 6.4l0 -75.1l0.1 -2.1l0.1 77.2l0.1 -27.8l0 -65.2l0.3 27.1l0 -2.1l0.2 37.7l0.1 -1.2l0 39.5l0 -19.8l0.1 11.8l0.1 -75l0.1 -16.2l0.1 64.3l0.3 -65.7l0 86.2l0.2 -78.4l0.2 56.9l0.1 16.1l0 -8.8l0 -7.1l0 7.1l0.1 -77.4l0.2 91.6l0.1 -93.5l0 79.3l0 -44.9l0.6 -13.9l0 55.1l0.2 -51.4l0.1 51.4l0.1 -56.3l0 52.9l0 -0.6l0.1 7.7l0.3 8.8l0 -16.7l0.4 36.5l0 -75l0.2 -16.7l0 6.4l0 60.8l0.1 -59.2l0 8.1l0.1 -4.5l0.3 -10.5l0 5l0.2 57l0.2 -69.2l0.5 3.1l0.1 94.7l0 0l0.2 -32.3l0.1 -60.6l0.2 56.9l0.5 -50.9l0.1 58.3l0.1 4.1l0 -66.6l0 76.7l0.1 -82.5l0 -17.8l0.1 86.1l0 -8.1l0.2 -51.8l0.2 88.5l0.1 -34.7l0.2 -65.3l0 65.2l0.1 6.2l0.3 28.6l0.1 -28.6l0.1 20.6l0.1 -16.5l0.1 -63.9l0 98.8l0.3 -18.4l0 -11.8l0.1 0l0.1 -68.5l0.1 -3.5l0 59.5l0.1 17.9l0.3 -14.2l0 -67.1l0.1 67.1l0 -87.4l0.1 108l0.2 -86.6l0.2 -0.7l0 5.8l0.2 -14.5l0 84.2l0.3 -4.7l0.3 -64.3l0.3 69l0.2 -75.2l0 95l0.6 -98.7l0.4 90.7l0.1 -106.4l0.4 13.1l0.2 3l0.1 69.7l0.1 -76.9l0.4 3.7l0.2 5.8l0.2 67.4l0.2 -86l0 75.5l0.1 10.5l0.2 -70l0.2 61l0.2 1.1l0.2 1.5l0.6 6.4l0.5 -3.7l0.1 -89.4l0.1 85.6l0.1 -72.3l0.3 6.5l0 0.5l0.1 81.6l0.3 -18.5l0 -64.5l0.2 94.8l0.1 -11.8l0 5.4l0.2 -10.1l0.3 -7.8l0.2 -74.9l0.1 -2.4l0 101.6l0.1 -95.7l0.1 0.6l0.1 -29.9l0 100.7l0.3 12.5l0.1 -83.1l0.1 -0.8l0 71.4l0.3 -82.7l0.2 100.6l0.2 -98l0.3 76.1l0.2 16.5l0.1 11.8l0.2 -20.6l0 4.1l0.2 -87.6l0.8 73.1l0.1 -71.4l0.1 110.4l0.4 -32.3l0 -72.9l0.1 115.6l0.1 -118.5l0.1 69.5l0 -76.3l0.4 7.3l0.1 93.2l0.2 -14.2l0.1 -78.1l0 69.6l0.3 -1.7l0.5 -68.2l0 -12.5l0 95l0.4 -7.8l0 -76.4l0.4 -4.8l0.1 81.2l0.2 32.3l0.1 -39.2l0 14.7l0.1 -90.1l0.7 4.1l0.2 -8.1l0.5 5.7l0.2 76.8l0 16.3l0.1 -91l0.2 72.6l0.1 1.5l0.1 -81.2l0 85.6l0.6 3.7l0.2 -86.3l0.7 0.2l0.3 114.7l0.1 -45l0.1 7.5l0.1 -76.6l0.1 75.2l0.1 6.6l0 -12.4l0.6 -74.6l0.4 79.5l0 1.8l0.1 1.8l0 -9.1l0.4 -1.6l0 -71.1l0.2 -3.4l0 75.9l0 1.1l0.4 44.4l0.1 -48.6l0.2 -70.8l0.2 71.8l0.7 -87.2l0.2 13l0.1 89.5l0.1 -88.3l0.2 81.3l0.3 -1.6l0.1 -73.2l0.2 81.8l0.2 -87.5l0 77.6l0 9.9l0 3.7l0 -3.7l0.1 -85.4l0.2 -7.9l0.1 111.2l0.2 -124.8l0.2 10l0.1 -1.4l0.2 81.4l0.1 0.8l0.2 5.9l0.1 -4.4l0 18.3l0.1 -88.4l0.2 102.6l0.4 -35.5l0.6 -0.5l0.2 -76.8l0 98.6l0 -96.1l0.1 7.4l0.1 80.8l0.2 -14l0 12.1l0.2 6.1l0.1 -18.3l0.3 -77.4l0.3 81.8l0.2 1.2l0.1 4.3l0.3 -79.3l0.1 1.9l0.4 0.2l0.2 73.4l0.2 -75.6l0 -7.9l0.4 76.6l0 -67.3l0 98.9l0 -102.5l0 93.7l0.4 -92.9l0.3 101.7l0.1 -25.3l0.1 8.7l0 -10.9l0.1 6.8l0.1 -2.8l0 -80.3l0.1 73.4l0.1 -73.6l0 -12.2l0.2 98.6l0 -101.9l0 -0.8l0.3 87.3l0.7 15l0.2 -15.8l0.3 4.1l0 2.8l0.2 -79.7l0.4 0.4l0 80.8l0.2 -6.4l0 1.6l0.3 4.9l0.2 -84.3l0.3 0.1l0.2 87.8l0 21.7l0 -107.3l0.4 73.5l0 -86.2l0 11.3l0.3 -4.1l0.2 -22.7l0.1 12.9l0.1 105.6l0.3 -100.4l0 6l0.8 0.7l0 -0.1l0.3 84.4l0.1 -83.9l0.1 78.2l0.8 -0.1l0.1 -103.5l0 19.8l0.1 5l0.1 -5.6l0.1 75.5l0.3 -74.7l0.1 80.9l0.1 -6.5l0 9.2l0.1 -7.2l0.1 -87.4l0 86.6l0 -73.1l0.3 -14.9l0.3 85.8l0.4 -72.9l0.1 -1.6l0.2 0.7l0.2 79.9l0 12l0 -18.2l0 7.7l0.1 -81.7l0.2 79.9l0.1 10.9l0.4 -92.3l0.1 -3l0.2 104.4l0.2 -22.8l0 10.8l0.1 -97l0 3l0 -3l0.6 85.2l0 -83.5l0.3 96.2l0.2 -125.5l0.1 125.2l0.3 -14l0.1 -2l0 -83.3l0.1 83.1l0.6 4.8l0 -86.2l0.1 92.5l0.3 -93.4l0.5 4l0.1 -18l0.3 103.3l0.3 -91.4l0.2 85.4l0.1 -78.8l0.1 -17l0.1 100.6l0 -7.3l0 8.5l0.1 -7.7l0.4 -81.8l0 81.5l0.3 -77.5l0 1.7l0.3 -13.5l0 101l0.4 -10.1l0.1 -1.7l0.2 -76.3l0.1 -0.6l0.1 -6.6l0.3 82.3l0.6 -90.3l0.2 15.3l0.4 -5.5l0.1 -9.2l0.2 96.3l0.4 -94.2l0.4 -1.3l0.2 113.3l0.5 -102.6l0.5 82l0.1 -1.7l0.6 -2.4l0 -75.1l0.2 75.9l0 -1.4l0.2 -1.9l0.4 -77.9l0 -5.1l0.1 10.7l0.1 -1l0.2 73.7l0.1 -77.1l0.4 75.2l0.2 -81.7l0.4 6.9l0.1 -1.2l0 70.8l0 -76.1l0.1 -7.5l0 10.3l0 73.1l0.1 10.1l0.1 -79.3l0 -12.9l0.1 2.4l0.2 10.3l0 75.7l0.1 19.9l0.2 -17.1l0.1 1.4l0 -13l0 -80.4l0 87.3l0.2 1.1l0.1 -3l0.1 -73.7l0.1 -11.3l0.4 4.2l0.2 77.2l0 -80.1l0.1 81.7l0.1 12.4l0.2 -15.7l0.1 -5.2l0.1 -65.4l0.1 65.9l0.1 21.1l0.3 -87.8l0.1 72.7l0.1 -75.7l0.2 68.7l0 0.1l0.5 -66.1l0.4 -9.7l0.1 87.6l0.3 -88.7l0.3 -3.3l0.2 83.9l0.1 -70.8l0.3 -6.3l0.2 2.8l0.4 3l0.1 -1.6l0.1 74.5l0.4 -85.1l0.1 3.9l0.5 6.5l0 0.3l0.1 82.3l0 -106.6l0.1 105.3l0 -83.3l0.2 73.1l0.4 -76.8l0 79.3l0.1 0.4l0 -3.5l0.3 -76.6l0 -0.7l0.1 82.4l0.2 1.1l0.5 -91l0.5 7l0.4 75.1l0.3 -86.5l0.1 94.4l0.2 -7.6l0.2 5.3l0.1 -80.6l0.2 80.3l0.4 -82.2l0.1 -6.3l0.1 84l0 -80.6l0 1.5l0 2.6l0.1 74.5l0.1 13.8l0.6 -91.1l0.4 85.6l0.1 -91.7l0.1 85.2l0.2 -79.5l0.1 86l0.1 -6.5l0.3 -80l0.3 84.3l0.2 -88.8l0.3 81.5l0.6 0.7l0.2 5.1l0 -98.6l0.1 14.7l0.2 1.6l0.7 0.8l0.2 78.6l0.2 -85.6l0.3 -4.3l0.4 88.6l0.4 -1.5l0.2 8.8l0.1 -90.7l0.2 109.1l0.2 -26.6l0.1 -80.6l0.3 -8.1l0.1 106.8l0.3 -22.1l0.2 -82.4l0.3 103.5l0 -95.8l0.1 -5.5l0.1 -3.9l0.5 87l0 -84.8l0.2 9.3l0.1 73.7l0.1 -6.4l0 -92.4l0.1 22.9l0 -4.4l0.1 115.1l0 -119.4l0 82.9l0.2 0.5l0 -4l0 7.7l0 -84.7l0.2 4.5l0.2 72.6l0.1 -2.3l0.3 -66.9l0.6 76.8l0 5.5l0 -89l0.1 2.1l0 -6.8l0.9 78.1l0.3 -82.4l0.2 92.2l0 -89.6l0 2l0.3 78.6l0.1 -71.2l0.1 -5.4l0.3 75.7l0.3 -83.8l0.2 12.7l0.2 -11.5l0.1 81.8l0.2 -86.6l0.2 4.2l0.1 79.2l0.1 -66.4l0.2 70.4l0.5 -94l0.1 116l0.2 -106l0.1 13l0.2 71.1l0.3 14.1l0.1 -88l0.4 1.4l0.1 93.4l0.3 -25.6l0.1 -68.1l0.1 -4.5l0.1 5.8l0.3 -8.4l0 73.8l0.3 0.7l0 -67.5l0.1 -0.3l0 -14.1l0.1 5.7l0.2 -5.8l0 14.5l0 72l0.1 -86.4l0.2 83.4l0.2 -80.7l0 -2.9l0 77.2l0.1 2.1l0.3 4.9l0.1 -75.5l0.2 -6.1l0 1.6l0.2 7.3l0.2 84.5l0 -84.2l0.1 -7.4l0.2 -5.7l0.1 87.2l0.1 -72.5l0.5 69.3l0 -6.4l0.1 1.1l0.4 -78.8l0.9 79.2l0.4 -75.8l0.5 -6.3l0 81.2l0.1 -77.1l0 80l0.1 -75.7l1.1 -8l0.1 80.9l0.2 -81.5l0.3 80.3l0.4 22.3l0.4 -94.9l0.1 63.9l0 -64.2l0.3 0.9l0.2 -1.9l0 -9.2l0.3 79.8l0.4 -72.4l0.1 76.6l0 -1l0 -8.5l0.1 7.1l0 -84.5l0.1 76.7l0 8.3l0.3 -8l0.2 29.1l0.1 -23.7l0.1 13.8l0.1 -17l0.3 6l0.3 -76.6l0.7 68.7l0.1 -66.3l0.2 64.5l0.2 17.5l0 -107.3l0.2 24.7l0.1 -4.6l0.4 73.2l0.1 -74.3l0.3 79.2l0.1 -78.8l0.1 5.9l0.3 -13.6l0.5 78.4l0.2 -65.8l0.1 66.2l0.1 -83.2l0 82l0.2 15.1l0.5 -83.1l0.1 79.1l0.1 -81.6l0 -7.7l0 79.4l0.5 5.2l0.5 -7.2l0.4 -67.1l0.1 -6.3l0.6 77.8l0 -2.9l0.4 -72.1l0.5 -1.5l0 4.7l0.2 -20l0.5 18.1l0.1 67.5l0.2 21.1l0.2 -98.1l0.1 11.3l0.3 80.3l0 -13.1l0.1 -2.4l0.2 -3.2l0 -61.7l0.3 61.7l0.1 -73.4l0.2 85.7l0 -74.7l0.1 77.1l0.2 -88.7l0.1 11.6l0 2.3l0.2 69.4l0.2 -8.1l0.6 -2.3l0.3 6.2l0.3 -0.2l0.1 -65.2l0.2 59.6l0.7 15.9l0.1 -1.6l0 14.1l0.4 -100.4l0.2 -9.5l0 -4.8l0.8 89.7l0.3 -90.3l0 81.5l0.1 3.9l0.2 -65.1l0.2 7.1l0 54.1l0 8.1l0 -4.4l0.1 -7.3l0.2 -3.2l0.1 13.6l0 -62l0.3 1.7l0.1 57.6l0 -11.7l0.1 19.3l0.1 -72.7l0.2 67.9l0.1 3.2l0 -13.8l0.1 -50.2l0.1 58l0.1 -58.3l0.6 58.8l0 -5.1l0.1 -61l0.2 60.1l0 -4.1l0.1 -44.4l0.1 -15.6l0.2 56.9l0.2 -67.1l0.1 66.2l0.2 2.2l0.3 -57.9l0.1 4.6l0.1 5.5l0.2 -10.4l0 55.7l0.1 34l0.2 -81.5l0.1 -8.4l0 65.9l0.1 -11.6l0.1 -65.8l0.1 64.6l0.3 17.1l0 -67l0.1 7.4l0.1 39.3l0 -36.1l0 39.9l0.1 -3.3l0.2 -53.1l0.3 71.6l0.1 -18.9l0 -43.3l0.2 51.5l0 -56.7l0.2 61.2l0 1.6l0 -49.6l0.1 -16.9l0 76l0 -71.1l0.1 4.7l0.2 47.3l0 5.9l0.1 -66.6l0 69.6l0.1 -54.2l0.3 4.8l0.1 -4.9l0.3 53.5l0.4 -7.6l0.4 -51.8l0.1 67.9l0 -4.8l0 -74.8l0.5 59l0 -50.6l0.1 1.5l0.2 61.8l0.1 -56.2l0.1 -11.9l0.2 -4.5l0 9.8l0.1 64.8l0.1 -69.3l0.4 67.5l0 -61.9l0.1 6.5l0.2 -2.4l0 2.7l0.1 -22.3l0.1 22.6l0 54.1l0.6 -5l0.1 -8l0.1 8.7l0.4 1.5l0.4 -60.7l0 -2.1l0.4 51.8l0.3 0.7l0.1 13.4l0 -53.2l0.1 -8.2l0 8.7l0.1 -22.2l0.2 12.8l0.1 12.2l0 40.8l0.1 -51.7l0 11.5l0.2 36.6l0.1 -33.3l0.1 -18.1l0 52.4l0.1 -5.1l0.2 -41l0.1 60.8l0 -21.7l0 -37.9l0.1 36.3l0 -43.4l0.1 43.3l0.2 -2.6l0.2 -0.8l0.1 -34.1l0.1 28.8l0 -17.2l0 21.7l0.4 5.4l0 -36.7l0 28.7l0.4 13.2l0.2 -3.4l0.3 -50.4l0.1 9.5l0.4 42.9l0.2 -6l0.2 -30.4l0.2 21.8l0 -37.5l0.1 39.1l0.2 -20.7l0 -9.2l0.2 -7.2l0 13.1l0.3 30.3l0.1 -48.1l0.1 49l0.1 -25.7l0.1 24.5l0 4.8l0.3 -43.7l0 -1.1l0 16l0.1 25.3l0.1 -29.1l0 58.5l0 -56.5l0.6 36.5l0.2 -59.2l0.1 54.9l0 -13.1l0.3 -45.3l0.1 27.5l0.5 -15.7l0 50.6l0.1 -45.5l0.2 2.4l0 37.7l0.1 -12.2l0.3 1.7l0.1 -45.6l0 44.2l0.2 11l0.3 -46.9l0.3 -8.7l0 52.2l0.1 -20.7l0.1 5.1l0.2 4.7l0.1 -26.8l0.1 23.8l0 3l0.2 -2.8l0.1 5.2l0.1 -35l0.4 -6.8l0.2 16.9l0.1 33.6l0.1 -35.5l0.1 0.2l0.3 28.7l0 -26.5l0.1 4.3l0.1 15.2l0.2 -0.6l0.1 -21.6l0.4 68.5l0.2 -62.5l0.2 -5.3l0.1 17.8l0.1 -11.7l0.1 43.9l0 -34.2l0.1 -16l0.3 11.1l0 -9.2l0.1 27.4l0.1 -21.6l0 24.1l0 -2.5l0.1 -21.8l0 11.1l0.3 -4.6l0.1 26.9l0 -40.2l0.4 19.6l0.3 9l0.2 -38l0.1 16.2l0.2 -14.6l0.1 9l0 -11.7l0.2 29.6l0.1 24.6l0 -19.9l0.2 -28.6l0.4 73.9l0 -92.2l0.2 37.3l0.2 -11l0.2 -4.7l0 25.9l0.2 -57.8l0.1 53.7l0 -3.8l0.1 12.2l0.1 -2.3l0.3 -39.2l0.3 3.2l0 1.8l0.1 -1.9l0.1 -21.2l0.3 38.6l0.5 -5.6l0 13.4l0.1 -21.6l0.2 31.8l0 -2.2l0.1 -23l0.1 -19.8l1 31.7l0.1 8.5l0 -48.5l0.1 34.3l0.1 -4.8l0.4 48.6l0.2 -43.6l0.1 -21.7l0 41.6l0 -25.6l0.1 -9.4l0.1 12.4l0 -3.5l0.4 6.9l0.1 -6.5l0.1 -13l0.2 5.4l0.2 12.7l0.3 3.9l0 22.1l0.8 -24.3l0.3 16.3l0.2 1.9l0.3 -11.1l0 2l0.1 -17l0.4 15.7l0.3 -23.3l0 6.4l0.2 -5.9l0.1 -12.1l1 18.4l0.2 24.3l0.4 4.5l0.1 -42.7l0.2 13l1.2 -10.1l0.1 -6.3l0.7 16.2l0.1 -1.1l0.5 -15l0.2 31.3l0.5 -47.2l0.1 37.4l0.1 10.2l0.1 -40.8l0 3.2l0.8 -9.5l0.2 -5.3l0.2 11.3l1 39.6l0.2 -18.9l1.5 14.5l1.3 -39.3l0.9 -2.7l1.2 16.3l0.4 -6.8l0.2 -19l0.5 3.5l0.1 7.1l2 -14l0.3 27.8l3.1 -10.5l0.4 -14.8l1.2 -11.8l0 29.7l0.2 -13.8l0.9 -24.6l1.6 30.7l0.1 -19.5l0.2 2.2l3.2 -5.2l2.8 15.3l0.3 -12.6l0.6 6l0.4 0.8l0.2 -16l3.4 21.5l1 -11.7l1.8 11.2l0.5 -20.3l0.6 4.1l2.4 4.8l0 -19.8l3.2 8l1.4 -13.3l0.1 6.9l0.2 5.7l3 2.5l0.4 -0.2l1 10.4l1.3 -22.3l0.7 5.1l0.1 -6.9l0.7 18l0.9 -19.3l0.2 13.3l1.3 -3l1.1 -14.9l1 6.9l1.1 1l1.1 -4.5l0.7 -0.7l9.3 -3.3l1.7 1" marker-start="url(#mo)" marker-mid="url(#mo)" marker-end="url(#mo)"/></g>
<path fill="none" d="M754.2 1471.4l-8.8 10.8l-63.6 44.9l89.4 -64.7l-48.4 33.1l85.8 -72.3l6.7 -5.2l-83.2 77.6l53 -56.1l-13.5 14.3l27.3 -26.8l-35.1 40.7l-17.1 6.1l31.4 -25.6l-80.8 67.2l55.6 -48.6l-42.6 44.8l120.4 -114.5l-131.3 126.5l121.8 -125.6l4.4 -3.5l-1.6 14.3l-3.7 -5l-13 16.7l-83 81.2l52.8 -46.5l-77.8 55.7l38.9 -29.5l26 -23.2l39.4 -27.8l-0.1 -0.5l-34.1 18.2l7.8 7.1l-67.3 56.4l-18.5 15.4l26.2 -22.7l82.4 -76.5l4 -5.9l-41.3 46.3l49.8 -51.2l-33.5 36.6l0 -3.1l-7.7 9.9l34.2 -33l-3.9 -8.7l17.5 -4.6l-52.1 32.3l66.3 -53l-44.8 40.3l-22.6 24.8l-69.2 60.7l38.2 -43.4l17.6 -5.5l68.4 -57.4l-122.9 112.2l134.7 -124.6l-13.4 1.5l-13.5 19.1l-22.1 25l-30.8 24.9l-68.2 48.8l61.4 -50.2l-32.4 42.4l46.3 -48.9l-0.8 2.4l9.3 -1.9l9.6 -10.8l-17.2 18.5l-9 1l-15.4 13.1l-42.3 40.3l46.5 -43.8l50.9 -56.9l-21.5 30.3l-3 7.9l2.5 -12.5l-15.2 24.1l-21.2 20.2l78.9 -73.2l-61 49.1l-2.2 -2.8l21.7 -12.2l24.5 -19.8l-59.6 56.7l37.1 -43.8l-81 79.9l90.7 -94.6l6 0.5l-37.9 40l17 -19l-7.4 11.3l72.6 -66.1l-58.1 48.2l15.7 -20.6l-34.6 39.4l-22.7 24.4l69.6 -66.7l14.8 -15.6l-68.2 65.3l57.8 -55.1l-56.6 53.6l-11.3 6.8l17.5 -7.3l62.6 -66.5l-26.5 31.7l-63.5 51.1l42 -32.3l32.8 -31.9l-63.8 50.3l14 1.1l41.3 -39.3l-83.5 73.9l88.6 -89.5l-66.3 66l-25.1 27.7l63 -54.9l-6.3 4.3l29.9 -36.5l-67.8 47.7l19.2 0.4l27.9 -26.5l-53.1 53.9l-14.7 10l79.3 -68.6l16.1 -21.8l-21.7 27.9l-29.2 24.8l26 -24.3l44.1 -49.3l0.6 5.8l-123.2 114.9l83.7 -88.2l-10.8 11.2l-19.9 32.3l35.8 -38.5l-28.7 27.1l-60.6 56.5l115.8 -110.3l-72.3 50.2l36.5 -17.5l38.8 -31l-50.5 30.7l18.9 -5.5l10.4 -7.7l-66.1 55.4l-0.7 0.3l-1.7 4.9l46.2 -38.4l-11.6 8.4l20.9 -17.1l-17.8 8.2l-61.7 58.9l1.6 5.2l28.2 -27.8l-6.1 3.2l77.2 -73.2l-71.2 62.9l52.1 -39.3l-75.2 70.4l23.6 -25.9l3.9 -6.5l66.6 -73.6l-116.1 120.1l63.3 -50.8l-3.3 -8.6l34.5 -24.7l40.7 -45.7l-142.2 105.5l-2.4 6.7l-14.8 3.2l3.2 0.7l35.5 1.1l-72.4 -0.6l244 -180.9l27.1 31.1l-8.8 -22l-14 14.2" marker-start="url(#mr)" marker-mid="url(#mr)" marker-end="url(#mr)"/>
<path fill="none" d="M772.8 1541.9l6.4 -4.6l55.3 -62.5l0.4 -9l-10.2 13.3l-20.5 25.4l47.5 -52.5l-96.8 113.7l62.2 -62.7l40.6 -60.7l-114.8 130.9l62.9 -70.2l57.9 -63.4l-84.4 92.9l-11.8 16.5l86.7 -102.2l11.2 -10.6l-81.2 94.7l-13.3 6.1l50.5 -54.2l-33.5 40.5l-16.3 16.7l61.2 -67.8l-24.9 24.1l-27.1 38.9l-26.2 30.6l62.2 -62.4l10.7 -29.7l-14.6 22.6l-34.4 34.3l49.3 -35.2l-24.5 14.5l-9.9 3.9l-50.8 59.4l19 -18.4l-12 4.3l14.1 -8.3l11.1 -12.6l-10.7 11.3l84.6 -95.5l-83.2 93.9l20.1 -29.7l33.9 -28l-22.7 24.7l51.4 -59.5l-38.4 43.5l30.2 -32.6l-52.3 60.2l60.7 -74.6l-37.5 43.1l-28 32.5l39.8 -47l-10.8 14.8l-7.8 20.6l-65.2 55.6l84.7 -86.7l-27.1 36.8l71.4 -72.8l-104.1 97.5l39.6 -34.6l-61.8 60.1l18 -15.1l7.9 -10.3l-5.7 3.7l81 -79l-72.7 70.6l71.4 -68.1l-8.7 -3.8l-15.3 14.7l-62.3 70.6l11.5 -15.6l56.2 -53.9l-9.6 12.5l-9.1 -0.9l-53.6 73l52.5 -51.5l-47 43l-0.9 4.8l65.5 -79.4l-19.3 23.3l32.2 -37l-16 19.1l-41.8 49.2l56.1 -71.7l24.6 -8.1l-60 46.3l63 -64.7l-85.6 110.4l93.6 -111l-39.4 37l-56.6 65.6l-32 30.8l61.1 -63.3l-51.2 65.2l10.3 -25.1l67.7 -80.7l37 -25.9l-3.6 -0.1l-68.7 81.7l20.9 -41.2l-27.9 39.4l51.8 -53.7l12.9 -12.6l-52.3 46.7l10.5 -9.7l-15.8 20.5l-18.1 21.2l49.9 -49.6l-18.6 5.7l17.4 -6l-11.5 3.9l-43.2 46.7l40.9 -44.8l-21.8 21.5l-44 51.3l101.1 -110.6l-26.5 49l-51 38.1l46.4 -56.7l47.9 -36.8l-24.7 18.9l-86.5 90.7l83.3 -86.1l-11.3 7.7l-40.8 41.2l49.2 -47.8l-16.1 15.4l29.9 -27.4l-26.4 35.8l-19.1 10.9l-51 53.4l58.5 -63.6l23 -17.3l-23.2 19.1l14.1 -16.6l57 -39l-17.8 1.4l-3.1 -0.5l-49 57.7l25 -32.1l-85 92.8l9.7 -10.8l21.6 -24l8.6 -5.1l-20.5 22.1l71.4 -79.5l-77.5 84.6l26.4 -32l35.6 -37l14.1 -17l2.1 -2.8l-75.9 85l25.3 -28.9l13.1 -9.5l65.9 -68.1l-57.7 49l14.5 5l-43.2 28l41.2 -42.6l7.2 -3.3l-40.2 35.9l-31.4 48.1l27.6 -36.1l34 -26.8l-52 58.9l14.6 -31.5l33 -36.9l-31.7 47.3l35.4 -49.7l2.9 -8.3l-39.5 53.7l-9.1 12.9l-10.2 8.1l61.5 -67.2l-64.9 79.7l58.5 -64.1l-60.2 52l26.9 -14.1l35.1 -52.8l8.6 -15.2l-28.3 29.9l-17.3 33.9l-3.3 1.3l-29.9 25.2l79.4 -86.8l-70.6 75.2l25.6 -23.6l-12.9 22l-13.3 6.9l42.9 -53l-22.3 29.9l-13.9 15" marker-start="url(#mb)" marker-mid="url(#mb)" marker-end="url(#mb)"/>
<path d="M572.6 1306.6 V1700.4 H977.3" fill="none" stroke="#222" stroke-width="1.5"/>
<line x1="560.6" y1="1654" x2="572.6" y2="1654" stroke="#222" stroke-width="1.5"/>
<text x="547.6" y="1662" font-size="22.5" text-anchor="end">0</text>
<line x1="612.1" y1="1700.4" x2="612.1" y2="1711.7" stroke="#222" stroke-width="1.5"/>
<text x="612.1" y="1741.4" font-size="22.5" text-anchor="middle">0</text>
<line x1="560.6" y1="1534.9" x2="572.6" y2="1534.9" stroke="#222" stroke-width="1.5"/>
<text x="547.6" y="1542.9" font-size="22.5" text-anchor="end">5</text>
<line x1="731.2" y1="1700.4" x2="731.2" y2="1711.7" stroke="#222" stroke-width="1.5"/>
<text x="731.2" y="1741.4" font-size="22.5" text-anchor="middle">5</text>
<line x1="560.6" y1="1415.8" x2="572.6" y2="1415.8" stroke="#222" stroke-width="1.5"/>
<text x="547.6" y="1423.8" font-size="22.5" text-anchor="end">10</text>
<line x1="850.3" y1="1700.4" x2="850.3" y2="1711.7" stroke="#222" stroke-width="1.5"/>
<text x="850.3" y="1741.4" font-size="22.5" text-anchor="middle">10</text>
<text x="595" y="1368.2" font-size="26.5">SOGs</text>
<text x="595" y="1399.4" font-size="26.5"><tspan font-style="italic">n</tspan> = 10,827</text>
<text x="595" y="1430.4" font-size="26.5"><tspan font-style="italic">R</tspan><tspan font-size="17" dy="7">s</tspan><tspan dy="-7"> = 0.89</tspan></text>
<text x="972.6" y="1650.2" font-size="27" text-anchor="end" fill="#e9553a">Enriched (167)</text>
<text x="972.6" y="1681.4" font-size="27" text-anchor="end" fill="#9ccbe6">Depleted (192)</text>
<path d="M370 1856h5v1h-5zM361 1857h3v1h-3zM369 1857h7v1h-7zM386 1857h3v1h-3zM361 1858h15v1h-15zM385 1858h7v1h-7zM393 1858h3v1h-3zM359 1859h17v1h-17zM385 1859h11v1h-11zM359 1860h19v1h-19zM384 1860h12v1h-12zM359 1861h21v1h-21zM384 1861h11v1h-11zM347 1862h4v1h-4zM360 1862h21v1h-21zM384 1862h9v1h-9zM347 1863h5v1h-5zM360 1863h21v1h-21zM384 1863h8v1h-8zM347 1864h5v1h-5zM360 1864h31v1h-31zM346 1865h6v1h-6zM359 1865h12v1h-12zM373 1865h18v1h-18zM346 1866h6v1h-6zM354 1866h17v1h-17zM374 1866h15v1h-15zM346 1867h5v1h-5zM354 1867h19v1h-19zM374 1867h15v1h-15zM346 1868h43v1h-43zM347 1869h41v1h-41zM340 1870h47v1h-47zM339 1871h47v1h-47zM339 1872h47v1h-47zM390 1872h4v1h-4zM337 1873h48v1h-48zM390 1873h4v1h-4zM337 1874h48v1h-48zM387 1874h7v1h-7zM337 1875h48v1h-48zM386 1875h8v1h-8zM335 1876h50v1h-50zM386 1876h8v1h-8zM335 1877h50v1h-50zM386 1877h8v1h-8zM335 1878h58v1h-58zM334 1879h59v1h-59zM331 1880h62v1h-62zM330 1881h63v1h-63zM329 1882h64v1h-64zM329 1883h62v1h-62zM329 1884h59v1h-59zM329 1885h59v1h-59zM329 1886h56v1h-56zM309 1887h5v1h-5zM328 1887h57v1h-57zM309 1888h5v1h-5zM327 1888h56v1h-56zM309 1889h6v1h-6zM323 1889h3v1h-3zM327 1889h56v1h-56zM310 1890h5v1h-5zM321 1890h62v1h-62zM310 1891h5v1h-5zM317 1891h65v1h-65zM386 1891h3v1h-3zM310 1892h72v1h-72zM386 1892h3v1h-3zM310 1893h3v1h-3zM314 1893h68v1h-68zM386 1893h3v1h-3zM310 1894h3v1h-3zM314 1894h68v1h-68zM307 1895h75v1h-75zM307 1896h75v1h-75zM307 1897h75v1h-75zM307 1898h75v1h-75zM307 1899h74v1h-74zM308 1900h70v1h-70zM308 1901h68v1h-68zM379 1901h3v1h-3zM308 1902h68v1h-68zM379 1902h4v1h-4zM309 1903h67v1h-67zM379 1903h4v1h-4zM308 1904h69v1h-69zM379 1904h4v1h-4zM297 1905h6v1h-6zM306 1905h71v1h-71zM297 1906h6v1h-6zM306 1906h71v1h-71zM296 1907h7v1h-7zM306 1907h70v1h-70zM296 1908h7v1h-7zM305 1908h67v1h-67zM296 1909h7v1h-7zM304 1909h67v1h-67zM298 1910h73v1h-73zM295 1911h4v1h-4zM301 1911h69v1h-69zM294 1912h72v1h-72zM370 1912h4v1h-4zM294 1913h72v1h-72zM368 1913h6v1h-6zM294 1914h73v1h-73zM368 1914h6v1h-6zM291 1915h82v1h-82zM291 1916h82v1h-82zM291 1917h82v1h-82zM292 1918h81v1h-81zM292 1919h76v1h-76zM291 1920h72v1h-72zM287 1921h76v1h-76zM287 1922h75v1h-75zM285 1923h77v1h-77zM285 1924h77v1h-77zM367 1924h4v1h-4zM283 1925h77v1h-77zM367 1925h4v1h-4zM279 1926h81v1h-81zM367 1926h4v1h-4zM274 1927h86v1h-86zM367 1927h4v1h-4zM274 1928h86v1h-86zM367 1928h3v1h-3zM274 1929h86v1h-86zM275 1930h76v1h-76zM353 1930h7v1h-7zM276 1931h75v1h-75zM278 1932h74v1h-74zM271 1933h3v1h-3zM278 1933h75v1h-75zM270 1934h5v1h-5zM278 1934h76v1h-76zM269 1935h7v1h-7zM278 1935h76v1h-76zM266 1936h88v1h-88zM263 1937h90v1h-90zM263 1938h6v1h-6zM270 1938h82v1h-82zM263 1939h3v1h-3zM270 1939h78v1h-78zM268 1940h76v1h-76zM268 1941h76v1h-76zM267 1942h75v1h-75zM265 1943h80v1h-80zM264 1944h81v1h-81zM264 1945h81v1h-81zM255 1946h5v1h-5zM263 1946h82v1h-82zM255 1947h5v1h-5zM263 1947h82v1h-82zM255 1948h5v1h-5zM263 1948h81v1h-81zM255 1949h87v1h-87zM255 1950h87v1h-87zM255 1951h87v1h-87zM256 1952h83v1h-83zM257 1953h82v1h-82zM257 1954h82v1h-82zM257 1955h73v1h-73zM331 1955h6v1h-6zM254 1956h76v1h-76zM333 1956h3v1h-3zM253 1957h79v1h-79zM252 1958h80v1h-80zM252 1959h74v1h-74zM329 1959h3v1h-3zM246 1960h80v1h-80zM329 1960h3v1h-3zM246 1961h79v1h-79zM329 1961h3v1h-3zM246 1962h76v1h-76zM323 1962h3v1h-3zM247 1963h81v1h-81zM247 1964h81v1h-81zM246 1965h82v1h-82zM245 1966h83v1h-83zM244 1967h84v1h-84zM243 1968h84v1h-84zM243 1969h81v1h-81zM242 1970h77v1h-77zM242 1971h75v1h-75zM242 1972h73v1h-73zM242 1973h70v1h-70zM242 1974h70v1h-70zM240 1975h72v1h-72zM234 1976h78v1h-78zM234 1977h75v1h-75zM234 1978h71v1h-71zM306 1978h3v1h-3zM234 1979h71v1h-71zM234 1980h71v1h-71zM233 1981h72v1h-72zM231 1982h73v1h-73zM228 1983h76v1h-76zM227 1984h77v1h-77zM227 1985h73v1h-73zM227 1986h73v1h-73zM301 1986h4v1h-4zM227 1987h78v1h-78zM227 1988h78v1h-78zM228 1989h75v1h-75zM228 1990h74v1h-74zM225 1991h77v1h-77zM224 1992h70v1h-70zM224 1993h69v1h-69zM224 1994h69v1h-69zM220 1995h73v1h-73zM220 1996h73v1h-73zM218 1997h73v1h-73zM218 1998h71v1h-71zM218 1999h70v1h-70zM218 2000h67v1h-67zM217 2001h65v1h-65zM210 2002h3v1h-3zM216 2002h65v1h-65zM210 2003h71v1h-71zM283 2003h3v1h-3zM210 2004h71v1h-71zM283 2004h3v1h-3zM210 2005h68v1h-68zM283 2005h3v1h-3zM210 2006h68v1h-68zM212 2007h66v1h-66zM213 2008h65v1h-65zM213 2009h66v1h-66zM207 2010h3v1h-3zM213 2010h66v1h-66zM205 2011h5v1h-5zM213 2011h66v1h-66zM205 2012h74v1h-74zM205 2013h15v1h-15zM221 2013h54v1h-54zM206 2014h60v1h-60zM269 2014h5v1h-5zM206 2015h10v1h-10zM217 2015h49v1h-49zM269 2015h4v1h-4zM206 2016h10v1h-10zM217 2016h50v1h-50zM209 2017h58v1h-58zM210 2018h57v1h-57zM210 2019h55v1h-55zM210 2020h55v1h-55zM211 2021h11v1h-11zM223 2021h16v1h-16zM240 2021h22v1h-22zM203 2022h3v1h-3zM211 2022h11v1h-11zM223 2022h34v1h-34zM258 2022h3v1h-3zM202 2023h5v1h-5zM211 2023h4v1h-4zM216 2023h5v1h-5zM223 2023h34v1h-34zM185 2024h3v1h-3zM200 2024h7v1h-7zM216 2024h5v1h-5zM223 2024h34v1h-34zM184 2025h4v1h-4zM200 2025h7v1h-7zM215 2025h7v1h-7zM223 2025h25v1h-25zM252 2025h4v1h-4zM184 2026h4v1h-4zM200 2026h7v1h-7zM215 2026h10v1h-10zM226 2026h22v1h-22zM184 2027h3v1h-3zM201 2027h6v1h-6zM215 2027h37v1h-37zM201 2028h6v1h-6zM211 2028h42v1h-42zM195 2029h12v1h-12zM211 2029h42v1h-42zM194 2030h13v1h-13zM211 2030h33v1h-33zM247 2030h6v1h-6zM194 2031h13v1h-13zM211 2031h33v1h-33zM247 2031h6v1h-6zM194 2032h13v1h-13zM211 2032h33v1h-33zM248 2032h4v1h-4zM193 2033h5v1h-5zM201 2033h6v1h-6zM211 2033h11v1h-11zM224 2033h9v1h-9zM234 2033h11v1h-11zM192 2034h6v1h-6zM201 2034h6v1h-6zM212 2034h10v1h-10zM227 2034h3v1h-3zM235 2034h12v1h-12zM192 2035h14v1h-14zM212 2035h10v1h-10zM235 2035h12v1h-12zM192 2036h14v1h-14zM211 2036h11v1h-11zM224 2036h5v1h-5zM235 2036h12v1h-12zM190 2037h16v1h-16zM207 2037h15v1h-15zM224 2037h6v1h-6zM235 2037h8v1h-8zM190 2038h32v1h-32zM223 2038h7v1h-7zM232 2038h11v1h-11zM190 2039h40v1h-40zM231 2039h10v1h-10zM190 2040h6v1h-6zM197 2040h44v1h-44zM188 2041h53v1h-53zM187 2042h41v1h-41zM229 2042h11v1h-11zM186 2043h7v1h-7zM195 2043h32v1h-32zM232 2043h6v1h-6zM182 2044h3v1h-3zM186 2044h8v1h-8zM195 2044h33v1h-33zM232 2044h3v1h-3zM182 2045h3v1h-3zM186 2045h8v1h-8zM195 2045h33v1h-33zM231 2045h4v1h-4zM247 2045h4v1h-4zM182 2046h46v1h-46zM230 2046h6v1h-6zM247 2046h4v1h-4zM182 2047h6v1h-6zM189 2047h38v1h-38zM230 2047h6v1h-6zM247 2047h4v1h-4zM171 2048h3v1h-3zM177 2048h4v1h-4zM185 2048h3v1h-3zM189 2048h38v1h-38zM230 2048h6v1h-6zM237 2048h3v1h-3zM248 2048h3v1h-3zM170 2049h11v1h-11zM188 2049h18v1h-18zM209 2049h14v1h-14zM230 2049h5v1h-5zM237 2049h3v1h-3zM248 2049h3v1h-3zM170 2050h11v1h-11zM186 2050h20v1h-20zM210 2050h10v1h-10zM231 2050h3v1h-3zM237 2050h3v1h-3zM248 2050h3v1h-3zM170 2051h11v1h-11zM186 2051h20v1h-20zM210 2051h10v1h-10zM229 2051h4v1h-4zM237 2051h3v1h-3zM248 2051h3v1h-3zM170 2052h9v1h-9zM185 2052h23v1h-23zM210 2052h8v1h-8zM229 2052h4v1h-4zM237 2052h3v1h-3zM171 2053h4v1h-4zM176 2053h3v1h-3zM184 2053h25v1h-25zM210 2053h9v1h-9zM229 2053h4v1h-4zM184 2054h14v1h-14zM200 2054h9v1h-9zM210 2054h9v1h-9zM229 2054h4v1h-4zM179 2055h4v1h-4zM184 2055h14v1h-14zM202 2055h7v1h-7zM212 2055h7v1h-7zM221 2055h6v1h-6zM178 2056h6v1h-6zM185 2056h13v1h-13zM201 2056h8v1h-8zM212 2056h5v1h-5zM218 2056h9v1h-9zM178 2057h6v1h-6zM186 2057h11v1h-11zM200 2057h10v1h-10zM213 2057h14v1h-14zM178 2058h16v1h-16zM195 2058h3v1h-3zM199 2058h11v1h-11zM212 2058h9v1h-9zM223 2058h4v1h-4zM178 2059h13v1h-13zM195 2059h3v1h-3zM199 2059h11v1h-11zM212 2059h11v1h-11zM224 2059h5v1h-5zM178 2060h12v1h-12zM193 2060h17v1h-17zM212 2060h17v1h-17zM179 2061h11v1h-11zM193 2061h17v1h-17zM216 2061h13v1h-13zM183 2062h7v1h-7zM192 2062h13v1h-13zM206 2062h4v1h-4zM216 2062h13v1h-13zM183 2063h7v1h-7zM192 2063h19v1h-19zM215 2063h13v1h-13zM184 2064h5v1h-5zM192 2064h19v1h-19zM215 2064h13v1h-13zM184 2065h4v1h-4zM193 2065h10v1h-10zM204 2065h7v1h-7zM215 2065h11v1h-11zM185 2066h3v1h-3zM193 2066h10v1h-10zM204 2066h7v1h-7zM215 2066h11v1h-11zM183 2067h3v1h-3zM193 2067h7v1h-7zM204 2067h7v1h-7zM216 2067h5v1h-5zM183 2068h3v1h-3zM195 2068h5v1h-5zM205 2068h3v1h-3zM183 2069h3v1h-3zM168 2074h3v1h-3zM187 2074h3v1h-3zM167 2075h4v1h-4zM187 2075h3v1h-3zM220 2075h5v1h-5zM167 2076h4v1h-4zM185 2076h5v1h-5zM220 2076h5v1h-5zM167 2077h4v1h-4zM185 2077h5v1h-5zM220 2077h5v1h-5zM181 2078h7v1h-7zM220 2078h5v1h-5zM180 2079h7v1h-7zM220 2079h4v1h-4zM180 2080h7v1h-7zM180 2081h7v1h-7zM190 2081h3v1h-3zM183 2082h3v1h-3zM190 2082h3v1h-3zM182 2083h4v1h-4zM190 2083h3v1h-3zM182 2084h5v1h-5zM182 2085h6v1h-6zM182 2086h6v1h-6zM182 2087h6v1h-6zM182 2088h6v1h-6zM183 2089h5v1h-5z" fill="#0b0707" filter="url(#sb)"/>
<g><path fill="none" d="M134.3 2101l0.3 0l3.5 -34.7l5.4 34.7l2.4 0l1 -31.7l2.3 1.7l1 -0.2l0.1 -23.1l0.5 -20l0.2 47.3l0.2 -24l1.7 6.2l0 30.2l0.1 13.6l1.5 -3.6l0.7 -51.5l0.2 17.7l0.8 4.7l0.4 32.7l0.7 -18.3l1 -9.7l0.3 28l0.3 -42.3l0.8 29.1l0.4 -17.2l0.1 -18.3l0 11.1l0.1 32l0 -17.4l0.2 -7.5l0 4.1l0.3 -22.7l0.1 49.1l0.1 -35.2l0.5 -9.3l0.1 26.1l0.9 -24.5l0 2.6l0.2 24.9l0.2 -3.3l0.2 18.7l0.1 -30.8l0.3 -5l1 -7.4l1.1 40.7l0.6 -9.9l0.3 -18.9l0.1 -15.5l0.4 -13l0.2 35.2l0.1 -0.2l0.3 -52.4l0 39.2l0.1 35.4l0.2 -64.8l0.8 44.7l0.5 22.7l0.1 -26.7l0.2 -29.3l0.3 29.7l0.5 -8.4l0.1 22.9l0.1 -15.3l0 -3.9l0.2 -25.3l0.4 50.5l0 3l0 -46.8l0.2 6.9l0 -8.1l0.1 13.4l0.3 -46.5l1 40.1l0.2 3.1l0 -9.8l0.2 0.4l0.1 -63.2l0.1 73.3l0.1 -9.7l0.3 15.6l0.4 24.7l0.1 5.2l0.1 4.2l0.1 -22.7l0.1 0.7l0.3 -27.6l0.4 15.8l0.3 7.3l0.6 -13.1l0.4 0.3l0.5 -12l0 7l0.4 -23l0.1 -10.5l0.1 28.2l0 -1.7l0.1 15.3l0.1 -14.3l0.5 -23.2l0.5 5l0 23l0 -41.3l0.1 72.3l0.7 -74.7l0 46.6l0.1 22.2l0 -39l0.2 37.3l0.4 -17.1l0.1 37.3l0 -93.2l0.1 41.6l0.2 -11.9l0 24.2l0 -1.6l0.1 1.2l0.1 -1.4l0.2 -12.6l0.1 -4.8l0.2 31l0 -27.6l0.1 23.1l0.2 18.6l0.1 -28.2l0.1 41.3l0.1 -32.5l0.3 -5.7l0.4 -55.4l0 80.1l0.1 14.1l0.2 -13.3l0.2 -55.8l0 48.3l0.1 2.3l0.2 -0.1l0 -3.3l0.2 -51.9l0.1 21.8l0 25l0.1 -36.1l0.1 1.7l0.1 31.8l0.2 -58.7l0 21.9l0.2 -19.8l0 11l0.1 22.4l0 36.9l0.1 -60.8l0 67.1l0.1 -24l0.1 20.9l0 -45.3l0.1 53.4l0 -77.6l0.1 27.3l0 -17l0.1 50.7l0 -13.9l0 5l0 -31.1l0 50.1l0.1 -18l0 -45.2l0 36l0.1 -15.6l0 17.2l0.1 22.2l0.1 -23.8l0 27.2l0 12.7l0 -40.3l0.1 14.1l0.1 11.6l0.2 -34.4l0.2 5.6l0 -2.2l0.1 -15.5l0.1 22.8l0 18.6l0.1 -48.9l0.1 -5l0.1 25.8l0.1 8l0 -6.1l0 -6.4l0 14.4l0 -8.4l0.1 -23.7l0.4 43.5l0.1 -23.4l0.4 25.5l0.1 -22.9l0.3 6.2l0.1 -45.4l0.3 68.5l0.1 -39.7l0.1 -18.8l0.1 46.4l0 -45.4l0 24.5l0 -22.8l0.2 63.7l0 -47.2l0.1 -5.8l0 5.7l0.2 30.7l0 -30.9l0.1 57.6l0 -69l0 17.3l0 34l0.2 -37.1l0.3 29.8l0 25l0.2 -43.9l0.2 -13.3l0.1 12.3l0.1 2.3l0.2 1l0.1 10.8l0.3 1l0.2 -39.5l0 64.2l0 -46.2l0.1 15.4l0.1 -9.7l0 -18.8l0 2.3l0.1 43.9l0 18.2l0 -40.3l0 19.2l0 -2.6l0.1 -37.7l0 40.5l0.2 -37.1l0.1 4.1l0.1 14.7l0.3 27.8l0.2 -34.9l0.1 -15.8l0.1 -5.2l0 -1.7l0.1 33l0 -37.9l0.1 73.9l0.3 -13.9l0.1 -33.1l0.2 -28l0 19.6l0.3 -6.2l0.1 2.4l0.1 12.1l0.1 -20.6l0.3 32.3l0.1 -3l0 -0.6l0 11.3l0.1 -30.7l0.1 42.1l0.2 -89.3l0.1 64.8l0.1 -3.2l0.1 -21.5l0 -5.9l0 6l0.1 1l0.1 16.1l0 -16.8l0.1 -1.8l0 31l0.2 -8.1l0 -43.5l0.1 53.5l0.1 -0.7l0.1 -6.3l0.1 11.4l0.4 -39.1l0.1 57.1l0.1 -74.6l0.1 9.1l0.1 6.8l0.1 40.6l0 -23.2l0 15.9l0.1 -47.1l0 30.1l0 0.5l0 13.6l0 -19.1l0.2 9.7l0 -26.2l0.1 57.4l0 -16.2l0 -37.7l0.3 -25.8l0.1 39.6l0.1 -12.1l0.1 10.5l0.3 23.7l0.2 1.2l0 9.5l0.1 25.4l0.1 -39.9l0.1 39.9l0.1 -50.3l0 2.4l0 -15.4l0.1 50.6l0.1 -4.6l0.1 -41.4l0 -4.5l0 35.7l0.5 22.7l0.1 -39.2l0.1 40.6l0.2 -36.2l0 1.3l0.1 14.2l0.1 11.3l0.3 -36.6l0 -21.6l0 -1.1l0 31.8l0.1 2l0 0l0.2 -11.9l0 -24.3l0 6.2l0.1 24.3l0.3 0.8l0.1 -7.1l0 9.7l0 -56.7l0.2 47.3l0 19.1l0.1 -34.9l0 49.1l0.2 -73.4l0 50.5l0.1 39.6l0 -24.7l0.1 3.7l0 -44.9l0 16.3l0 15.4l0.1 -8.2l0 23.6l0.1 -57.1l0.1 2.5l0.1 19.5l0.2 37.7l0.1 -60.5l0 55.4l0 -42.2l0.2 -3.1l0.1 -10.1l0 6.8l0 -5l0.3 -28.1l0.2 13.4l0 41.7l0.2 -22.6l0 3.5l0.2 16l0.1 8.4l0.2 -33.6l0 21.9l0.3 7.9l0 -5.3l0.1 29.5l0.1 -41.6l0.1 28.8l0.1 -45.6l0 38.5l0.1 17.5l0 -11.1l0.1 -40.4l0 76.1l0.2 -68l0.1 60.7l0.1 -61.6l0 21.6l0.1 5.9l0 6.2l0 -13.6l0.1 42.7l0.2 -66.5l0 30.5l0.4 35.1l0 -84.5l0.1 46l0.1 -43.5l0 17.6l0 30.2l0.1 7.2l0.1 -73.7l0.1 70.6l0 -50.6l0.1 43.3l0.2 -17l0 -25.1l0 -60.7l0.1 111l0.2 -47.9l0 3.8l0.2 19l0.1 12.8l0.1 -39.8l0.2 21.2l0.1 36.1l0 -24.5l0.1 18.4l0 -16.7l0.1 -31.9l0 46.2l0.1 0.4l0 -60l0.1 23l0 14.8l0.1 18l0 14.3l0.1 -67.9l0 35.9l0 5.5l0.1 -38.8l0.2 33.1l0.2 0.2l0.1 -29l0 41.5l0.1 23.9l0 -9.1l0 -84.8l0.1 26.7l0.4 36.7l0.2 -15.6l0.2 20l0 -4.7l0.1 -38.3l0.3 47.2l0.2 11l0.1 -35.7l0.1 -25.2l0 41.3l0.1 -31.1l0 8.5l0 26.6l0.1 -25.7l0 15l0 -8.3l0.1 -27.4l0 16.4l0.1 -55l0.1 56l0.1 15.8l0 -54.4l0.1 73l0 -4.1l0.2 22.3l0.1 -56.8l0 11.1l0.1 -12.3l0 56.3l0.2 -53.4l0.1 33.2l0.1 -17l0.1 -30.2l0 67.6l0.1 -96l0 36.5l0.1 25.2l0.2 27l0 -50.8l0 5.5l0.2 37.9l0 1.6l0.1 -26.7l0.1 5.6l0 -0.2l0 -9.5l0.2 -20l0 -2.4l0.1 -2.3l0 18.9l0 9.1l0 28.2l0.2 -31.5l0.1 -13l0 41.8l0 -46.4l0.1 20.5l0 70l0 -91.4l0.1 39.7l0.1 4.9l0 -5.6l0.1 4l0 32.5l0.1 -19.2l0.3 -47l0.1 10.3l0 30.3l0.2 9.9l0.1 15.7l0.3 -98.8l0.1 27.7l0.3 47.7l0.1 -12.7l0.1 -37.3l0.1 89.3l0.2 -10.9l0.1 -85.1l0 14.3l0 -16.4l0.1 24.4l0 -2.3l0.1 22.2l0 4.7l0.1 0.4l0 -42.5l0.2 54.7l0 -8.5l0 10.4l0.1 -50.4l0 3.6l0 -14.6l0.1 16.3l0 41.3l0.1 -62.7l0 65l0 -53.3l0.1 15.2l0 -1.7l0.3 48.5l0.3 -73.3l0 25.2l0 38.4l0.1 -6.1l0 -34.2l0 -20.1l0.1 13l0 75.2l0 -112.5l0 21.2l0.1 78.4l0 -67.5l0.1 7.1l0 20.2l0.1 27.1l0 -1.9l0 -17l0.2 -42.5l0 0.2l0.2 55.5l0.1 -25l0 12.9l0 -25.4l0.1 -12l0.1 67.3l0 -46l0 30.1l0.1 7.7l0 -71.3l0.1 73.6l0.2 -46.8l0.2 -10.4l0.1 40.6l0 -17.6l0.1 8.7l0 12.1l0.1 -7.8l0 19.5l0 -80.2l0.1 40.5l0 27.6l0 -28.3l0.1 -34.1l0 81.4l0 -78.8l0.1 37l0 -23.3l0.2 34.2l0.4 -48.6l0.2 67.2l0.1 -70.4l0.1 25.4l0.1 19.8l0.1 -52.2l0.1 32.7l0 58.4l0.1 -16.7l0 -72l0 1.2l0.1 18.6l0.1 64.3l0 -45.4l0 47.8l0.1 -28.9l0 -48.9l0 33.5l0 -2.6l0 5.9l0.1 -39.8l0.1 79.9l0 -6.6l0.1 -3.2l0.1 -19.8l0.1 41.8l0.4 -72.7l0 0.8l0.1 -4.9l0 44.5l0 9.7l0.1 -10.3l0.2 -10.8l0 -46.8l0.1 21l0.1 6.8l0.2 20.8l0.1 17.2l0.1 -5.4l0 -8.8l0 -18.5l0 14.6l0.1 33l0 -49.6l0.1 12l0.1 5.2l0.1 -19.7l0.1 34.4l0 -21.2l0.1 -16.7l0 17l0.4 25.2l0 -3.8l0 -37.8l0.1 8.8l0 1.8l0.1 -9.4l0.1 33.9l0.3 -71.5l0.1 48.3l0 -43.9l0 65.1l0 -62.8l0.1 67.9l0 -18.4l0 29.5l0.2 -78.1l0 44.6l0.3 28.1l0 -36.2l0.1 -50.9l0.2 99.3l0.1 -85l0.1 42.3l0.1 26.2l0.1 18.8l0.1 -90l0 3.2l0.1 74.2l0 -100.5l0.1 17.9l0.1 37.3l0.1 26l0.1 -21.3l0.2 9.6l0.1 1.2l0.1 -49.3l0.1 -8.4l0 11.4l0.2 84.8l0.1 -16.2l0.1 -24.4l0.1 16.6l0.1 -1.5l0.2 -8.5l0.1 -67.9l0.1 4l0 79.4l0.3 -27.6l0 12l0.1 -56.9l0 45.3l0.1 -1.8l0.1 -44.4l0 48.9l0 -41.5l0.1 -6l0.1 65.9l0.1 -66.2l0 6.9l0.1 60.2l0.2 -79.1l0 64.8l0.1 -55.3l0 90.3l0.6 -42.6l0.1 15.1l0.1 -5.4l0 1l0.1 -65l0.4 69.7l0.1 4.5l0 -21.2l0.2 17.8l0.1 -78.4l0.3 78.2l0.1 8.4l0 -71.3l0 62.3l0.2 -63.1l0.4 61.2l0.2 10.9l0.4 -15.4l0 31.3l0.1 -90.4l0 0.4l0.1 58l0.2 -5.7l0.4 31.3l0.2 -32.4l0.2 -54l0.1 4.1l0 -5.7l0 77.8l0 -15.3l0.1 3l0 -13l0.1 -51.9l0.1 4.7l0.2 50.7l0.1 -3.7l0 -54.9l0.1 56.1l0 19.1l0.1 -28.5l0.1 33l0.1 15.5l0.5 -92.1l0.1 60.9l0.3 -3.8l0 5l0 -17.2l0.1 -53.7l0 69.9l0 6.8l0.3 -10.2l0.1 6l0.2 -23l0.2 37.8l0.2 -32.8l0.2 -46l0.1 41.9l0.4 -61.3l0 79.4l0.3 10.4l0.1 2.6l0 -11.1l0.1 29.4l0 -11.2l0.1 -8.5l0.1 -72.3l0.2 72.1l0 -11.8l0.1 33.3l0 -27.8l0.7 14.9l0.1 -39.2l0.2 2.6l0.1 -44.7l0 49.9l0.3 -3.8l0.2 -45.1l0 57.5l0.1 -17.5l0 -39.7l0.1 45.6l0.2 -62.5l0 110.5l0.1 -95.5l0.1 -13l0.1 115.9l0 -116.4l0 73.2l0.1 0.3l0.2 -7.1l0.2 -51.6l0.3 51.6l0.1 -53.2l0.2 -7.1l0 64.6l0 9.8l0.2 -1.4l0 -8.7l0 -60.4l0.1 -1.8l0.3 0.5l0.2 -16l0.4 17l0.2 85.2l0 -102.3l0.3 9.8l0.6 89.5l0 -87.2l0 54.3l0 -53l0.2 58.7l0.1 -4.7l0.2 -53.2l0 67.4l0.1 -74.5l0.3 83.3l0.1 -21.9l0.1 10.2l0.2 4.4l0 -70.9l0.1 57.5l0 22.5l0.2 -79l0 67.1l0 -3.6l0.1 12.1l0.1 -81.7l0.1 86.6l0 -19.1l0 22.5l0.1 -89.9l0.4 -2.3l0.1 7.6l0 96l0.1 -15.4l0.1 7.5l0.4 -25.4l0.1 21.7l0 -92.1l0 5.6l0.3 -8.6l0.6 0.8l0 87.2l0.3 -16.4l0.1 -96.2l0 19.1l0.2 77l0 -5.5l0.2 -61l0.2 68l0.3 21.2l0.5 3.6l0.2 -27.3l0.3 -3l0.1 -75.3l0.1 74l0.2 -1.7l0.3 -61.8l0 75.5l0.7 -79.9l0 63.3l0.2 -60.1l0.1 90.7l0.2 -30.7l0.1 -64.3l0 66.8l0.1 -61.3l0.3 96.7l0.1 -33l0.2 2.8l0 -5.6l0.2 -61.3l0 83.9l0.3 -83.4l0 71.2l0.4 -81.6l0.1 -0.5l0.5 78.1l0 -68l0.1 62.5l0.1 -65.5l0 -4.4l0.1 88.6l0.2 -93.5l0.1 85.9l0 -81.4l0 78.5l0.1 -84.7l0.4 107.1l0 -33.6l0.2 0.3l0.2 20l0.3 -12l0.2 -78.3l0.1 -0.9l0.1 104.8l0.3 -98.4l0.1 64.2l0 -63.2l0.1 3.4l0.1 120.7l0.4 -131.2l0.6 72.9l0.4 -3.1l0.3 11.4l0.3 -0.9l0.1 -8.4l0.4 -82l0.2 13.6l0.2 -1.3l0.1 66.5l0.2 15.2l0.1 21l0.2 -102.2l0.3 67.6l0.6 -78.5l0.1 11.3l0.3 -6.2l0 70.3l0.1 -69.4l0.2 -0.4l0.3 79.8l0.1 -88.5l0 -0.6l0.3 82.4l0.2 -5.4l0.2 3.3l0.6 -68.6l0 -4.7l0.2 5.1l0.2 -9.3l0.1 8.7l0 -11.5l0.1 10.3l0.1 -0.8l0.1 71l0.6 -90.8l0.8 4.1l0 4.8l0.2 93.2l0.2 -83.1l0.3 68.4l0.1 -70.7l0 2.6l0.2 -2.4l0.1 83.5l0.1 -87.3l0.1 86.2l0.4 -81.8l0.1 -8.8l0.1 5.6l0.1 72l0.7 -78.4l0.3 79l0.1 7.4l0.1 -7.7l0.2 -90.8l0.3 91.1l0.1 -72.6l0.2 -4.7l0.2 1.4l0.1 1.3l0.1 79.4l0 -90.5l0 -8.7l0.1 93l0.2 -75.2l0.7 -6.9l0.1 8.7l0.1 -5.2l0.9 85.2l0 -8.7l0 -81.2l0.1 -4.5l0.1 100l0 -21.7l0 -71.7l0.2 76.3l0.2 4.7l0.1 -8.4l0.5 -67.1l0.2 -13.9l0.6 5.9l0.1 83.7l0 -2.7l0.2 -7l0.2 10.8l0.1 -9l0.5 5.8l0.1 -81l0.5 -0.6l0.1 1.5l0.1 7.4l0.1 64.4l0.1 -3.1l0 -81.1l0.2 83.9l0 -67.4l0.2 -1l0.1 72.4l0.1 -66.3l0 -2.9l0.5 2.4l0.2 59.8l1 1.6l0.2 8.5l0.4 -4.6l0.5 -76l0.2 -1l0 71.2l0.5 -86.2l0 96.4l0.1 -79.6l0.3 0l0.3 -11.5l0.6 80.4l0.1 20.9l0.1 -14.8l0.1 -94.8l0 93.7l0.2 -3.9l0.4 6.3l0 -7.7l0 0.5l0.1 9.5l0.2 -8.4l0.1 -75.1l0.1 2.8l0.1 -11.6l0.4 11.8l0.2 87.6l0.5 -106.3l0 11.3l0 76.9l0.2 -71.8l0.6 -1l1 72.3l0.3 -70.7l0.5 69.9l0.3 -77.9l0 77.8l0.2 -72.5l0.1 71.5l0.4 -80.3l0 76.9l0.2 1.6l0.3 7.9l0.1 -3.3l0.3 -6.7l0.2 -67.6l0 -7.7l0.1 90.6l0.2 -15.7l0.2 -84.4l0.1 12.3l0 4.4l0.3 1.3l0.1 71.3l0.9 -90.6l0.2 98.8l0.1 -92.7l0.1 7.8l0 0l0.3 3.1l0.1 -23.6l0.1 93.1l0.4 0.3l0.2 5.2l0.3 -82.3l0.3 -0.5l0 -10l0 87.6l0.6 -73.2l0.1 -10.2l0.2 -0.3l0.3 78.2l0.2 -70.7l0.2 0.8l0.2 -2.9l0.1 71.5l0.3 13.1l0 -86.1l0 -2.4l0.3 76l0.1 15.5l0.3 -8.5l0.2 -2.7l0.4 4.3l0 -86.8l0.2 3.4l0.1 -9.3l0.2 14.1l0.1 69.4l0.3 -77l0.2 1.8l0.1 81.4l0.3 9.2l0.2 -17.3l0.2 -1.9l0 -71l0.3 79.8l0.3 -80.9l0.2 71l0.4 7.5l0.1 -72.7l0.1 0.3l0 67.3l0.1 -67l0.5 0.1l0.1 75.4l0.1 4.3l0.1 -11.9l0.2 3l0 -74.4l0.1 65l0.2 -63.6l0.1 74.9l0.2 -11.2l0.4 -85.6l0.1 5.8l0.3 98.4l0.2 -15.4l0.1 -67.5l0.4 -14.4l0.4 79l0 -77l0.1 90.9l0.4 -77l0.2 -1.2l0.1 -15.6l0 5l0 10.6l0.1 71.7l0.2 -8.7l0.4 -63l0.2 85.1l0.3 -15.6l0.1 -4.1l0 2.4l0.2 -3.3l0.1 -68l0.2 -2.4l0 -10.7l0.3 75.5l0.1 2.8l0.1 -66l0.1 -1l0.1 -1.3l0.1 -10.7l0.3 3.5l0.1 -14.7l0.1 24.6l0.2 -4.3l0.1 -12.6l0.1 8.8l0.3 2.5l0 84.6l0.1 -15.6l0.2 6.4l0 -88.1l0.1 2.3l0.4 9l0.1 -14.1l0.4 104.7l0 -17.3l0.3 -81.8l0 84.5l0.1 -80.7l0 -7.4l0.1 -1.5l0.2 82.7l0.2 2.6l0.2 -2.7l0.2 -79.7l0.1 4.5l0.3 85.1l0.9 2.4l0 -84.5l0.1 -20.7l0.5 2.6l0 89.1l0.1 1.8l0 -2.4l0.5 -74.1l0 1.2l0.1 2.1l0.1 72.6l0.1 -2.4l0.1 0.2l0.3 7.3l0.2 -77.6l0.1 77.4l0.2 -79.9l0.2 -18l0.1 17.9l0.5 -12.1l0.3 94.5l0.7 -5.7l0.1 6.6l0.1 -83l0.3 -7.6l0.1 72.7l0.1 -70.7l0 76l0.3 3.1l0.1 -1.3l0.6 -75.7l0.1 1.4l0.3 75.2l0.1 -9.1l0.6 5.9l0.6 2.2l0 -0.7l0.3 -73l0.1 -17.7l0.1 11.4l0 75.4l0.3 -3.9l0.1 -66.5l0.2 80.8l0 -11.6l0 -83.5l0.8 88.8l0.1 -74.7l0.1 73.8l0 -73.4l0.7 -5.8l0 71.3l0.2 2.2l0 -74.2l0.3 6l0 -5l0.1 78.3l0 -4.1l0.5 11.4l0.1 -3.2l0 -2.7l0.2 -76.4l0.1 -9.4l0.1 83.6l1 -9.7l0.2 -88l0 92.9l0.1 -67l0.3 60.8l0 -80.5l0.5 92.3l0 -72.9l0.1 -3.7l0 73.3l0.5 -4.2l0.1 -83.1l0.2 -12.6l0.2 28.8l0.1 62.6l0.2 -65.1l0.2 81.2l0.1 -3.5l0.1 -77.9l0.2 -5.1l0 7.6l0.4 -17.7l0.4 9.2l0.1 -9.9l0.1 87.8l0.2 -77.3l0.2 0.5l0.1 71.9l0.3 4.4l0 -75.1l0.2 75.1l0.1 -7.3l0.7 -76.1l0.2 -15.7l0 93.8l0.1 10.2l0.2 -82.1l0 -12.4l0.1 83.4l0.1 4.1l0.7 -3.5l0.3 -1.6l0 -72.4l0.1 -11.3l0.4 84l0.2 -0.9l0.3 -72.4l0 71.9l0.5 -1.1l0.1 -85l0.3 16.1l0.1 0.6l0.6 -5.7l0.1 0.7l0.5 85.4l0.1 -85.4l0.1 -17.6l0.5 17.8l0.5 67.1l0.1 4.2l0.2 -85.7l0 86.2l0.1 4.2l0.1 -79.8l0.1 66.1l0.2 -67l0.1 67.5l0 -63.7l0.1 -1.1l0.1 77.2l0.1 -85.9l0.3 86.5l0 -7.4l0 -74.4l0.3 73.8l0 -86l0.4 86.4l0.4 -71.6l0.1 64.9l0.2 8.7l0.1 7l0 -82.3l0.6 75.2l0.7 -7.2l0.6 -0.6l0.1 7.1l0 -3.6l0.4 -4.7l0.2 -83.1l0.5 81.3l0.5 -67.9l0.3 3.1l0.1 -2.1l0.1 75.3l0.6 -73.1l0.1 -15.1l0.5 74.8l0.1 0.8l0 11.1l0.2 -77.9l0.1 -7.9l0.3 8l0.1 74.3l0 -12.3l0 0l0.4 8.5l0.1 -69.5l0 82.3l0.1 -15.3l0.1 -67.7l0.4 4.7l0 -0.5l0.1 -0.7l0.3 67.2l0 -74.3l0.3 74.4l0.1 1.6l0.1 -74.6l0.5 69.7l0.5 2.8l0.6 -7.7l0 5.9l0.2 -72.3l0.1 2.1l0.2 63.7l0.2 -71.8l0 106.7l0.1 -32.6l0.7 -60.9l0.2 76.2l0.5 -5.3l0.3 -11.7l0.3 11.5l0.2 3l0.4 -76.8l0.2 3.7l0.2 -0.8l0.1 1.6l0.1 -1.1l0 -5.2l0 -2.4l0.3 68.2l0.4 -2.2l0.5 14.1l0.2 -14l0.1 -0.6l0 -67l0 62.2l0.2 -0.1l0.3 13.8l0.2 -0.6l0 13.2l0.3 -29.6l0.1 5.5l0.1 16.6l0.1 -20.4l0.1 0.5l0.1 -57.1l0.1 4.5l0.4 -6.1l0.1 -3.6l0.1 -1l0.3 -3.2l0.2 64l0.1 11.8l0.1 -8l0.1 -55.2l0.1 67.1l0.1 -68.4l0 51.8l0.4 13.7l0.5 23.6l0.1 -20.6l0 -72l0.2 61.1l0 -64.3l0.3 -6.1l0 12l0.1 2.2l0.3 67.5l0.1 -25l0.1 -50l0.2 54l0.1 2.5l0 -7l0.2 -58.3l0 62.6l0.4 -69.6l0 66.1l0.2 -58.3l0.1 66.9l0 0.6l0.1 -61.7l0.9 58.1l0.2 0.5l0.2 1.2l0.3 -57.2l0.1 76l0.1 -76.1l0.1 56.8l0.1 9.6l0.3 -14.9l0.1 -57l0 53.8l0.3 18.1l0.1 -18.4l0.3 0l0.3 -44.4l0.3 44.8l0.1 -59.3l0.3 77l0.7 -1.2l0 -18l0.3 11.9l0.1 -2.6l0 -64.7l0 57.4l0.1 -49.3l0.1 10.8l0 42.9l0.1 2.6l0.1 2l0 -63.2l0.1 9.7l0 59.4l0.2 -63.3l0 7.6l0 2.6l0.1 34.7l0.1 22l0.1 -59.5l0.1 -8.9l0.2 11.1l0.2 -13.9l0.1 59.4l0 0.1l0.2 -2l0 -51.6l0.2 43.2l0.4 1.9l0.1 -55.4l0.1 6.8l0.1 52.5l0.1 -51.5l0.3 -4.9l0.1 49.5l0 -40.2l0.3 -5.7l0 47.3l0.2 -44.4l0.1 62l0.2 -24.8l0.2 -35.5l0.1 -1.9l0 -0.6l0.1 7.6l0.3 2.3l0.4 34.2l0.2 -53.4l0.3 12.7l0.2 36.9l0.1 -40.1l0.1 -7.5l0.1 47.7l0 6.1l0.2 -37.2l0 27.5l0.4 -33.7l0.1 4.3l0 2.2l0.1 0l0.1 0.5l0.1 -5.1l0.3 50.7l0.1 -59.6l0.1 7.6l0.3 -9l0 50.2l0.1 -62.3l0.2 5.5l0.2 47.7l0.2 1.6l0 2.9l0 7.7l0.3 -56.6l0 13l0 -2.4l0.2 33.9l0 0l0.1 -5.1l0 -44.1l0 45.6l0.1 -28.4l0.1 23.9l0.2 -44.8l0 16.8l0 43.8l0 -40.5l0.6 26.6l0.1 -31.5l0.2 32.2l0.1 -41l0.1 51.7l0 -0.4l0.1 -13.1l0.1 21l0 -43.6l0 -6.2l0.4 25.7l0 10l0.1 -47l0.1 38.9l0.1 0.6l0.7 -7.2l0.4 23.3l0.2 -33.6l0.1 31.9l0.1 -25.4l0.2 -7.6l0.2 -0.3l0 4.8l0 5.9l0.2 -7.8l0.5 -8.8l0.1 20.9l0.2 -28.8l0.1 13l0.1 1.3l0.2 16.5l0.3 -18.8l0 6.5l0.1 11.7l0.1 -17.5l0.1 -7.9l0 42.4l0.1 -36.5l0.1 25.5l0 0.6l0 -30l0.1 1.7l0 14.6l0.2 23.9l0.1 -22.1l0.1 -27.1l0.3 45.5l0.2 -4.1l0.1 -22.3l0.3 -13.2l0 3.8l0.3 1.3l0.1 36.9l0 -6.1l0.1 -34.9l0 22.4l0.4 -5.5l0 6.5l0.1 -8.5l0.2 -5.1l0 8.2l0.3 -18.7l0.1 1.3l0 6.9l0.2 -3.2l0.1 -2.2l0.1 36.4l0.2 6.2l0.2 -38l0.1 24.9l0.1 -2.9l0.2 -10.8l0 -0.4l0.2 2.9l0 -4.5l0.1 -12.9l0.1 1l0.5 19l0 -2.4l0.1 -5.8l0.1 -13.4l0.3 22.5l0.1 -14.6l0.1 9.3l0.4 -30.5l0.6 11.9l0 15.5l0 -0.9l0.1 -15.6l0 -15.2l0.2 37.5l0.2 11.1l0.4 -34.8l0.2 3l0 -7.6l0 -4.7l0.1 1.4l0.1 23.7l0.2 5l0.6 -26.2l0.1 21.4l0 -9.2l0.9 -2.4l0.3 -0.3l0.4 30.7l0.2 17.3l0.1 -75.5l0.5 9.5l0.4 55.9l0.1 -60l0.3 24l0.3 -6l0.1 10.3l0.7 -29.9l0.5 40.3l0.4 -4.7l0.7 -50l0.3 14.4l0.7 17.8l0.3 14.7l0.3 27.1l0 -21.7l1.4 -33.4l0.1 -12.5l0.2 40.1l0.8 -10.1l0 17.9l0.3 4.9l1.2 -8.4l1.3 -32.1l0.3 9.9l0.8 14.7l1.6 -43.7l0.1 27.5l0.1 54.9l0.8 -65.6l1.8 4.3l1.1 -20l0.4 0.9l2.7 -4.3l3 0.8l0.9 10.7l1 -10.2l1.8 9.9l0.6 -15.3l1.8 -3.3l0.8 22.4l0.2 -17.8l1.6 4.3l3.5 -12.6l0.2 -11.3l0.8 -9.3l0.4 34.3l0.2 -2.6l2 -7.9l0.3 13l1.8 -6.8l0.3 -3.3l0.4 -4.5l0.4 -12.1l1.7 21.3l0.3 -22.8l2.8 -4.9l0 17.6l5.3 -6l0.2 4.8l4.8 -20.6l0.7 14.8l1.3 -7.5l3.1 12.8l2.8 -8.6" marker-start="url(#mo)" marker-mid="url(#mo)" marker-end="url(#mo)"/></g>
<path fill="none" d="M327.5 1877.8l42.4 -43.9l-103.6 110.2l61.6 -57.4l-30.5 25.2l-35.1 29.7l134.7 -133.8l-129.1 131.1l96.3 -88.3l-86.4 81.5l68.2 -78.1l-115.5 110l58.4 -46.5l27.6 -22l-38.3 30.9l83.3 -78l-37.4 42.3l-51 46.9l63.7 -76.6l-82.7 90.7l9.1 -8l0.8 -6.9l33.8 -26.6l34.8 -29.4l-43.6 41l12.1 -8.4l60.7 -61.6l25.3 -27.6l1.8 -3.1l-117.4 111l91.1 -83l-42.7 34.9l35.3 -30.6l-19.8 20.1l10.9 -12.8l-45.2 43.5l-65.5 60.7l116.1 -110.3l-45.4 53.2l34.1 -37.6l9 -11.3l-68.2 68.4l-4.1 4l-9.5 -6.5l72.9 -62.6l-26.9 16.1l-47.7 67.9l0.7 -22.2l61 -39.9l6.7 -7.9l56.8 -52.5l-129.2 122.7l27.4 -27.4l82 -84l-30.7 32l7.4 -5.5l-0.2 -1.9l-21.8 26l41.9 -45.2l-22.8 28.1l-21.5 12.3l3.4 5.2l-56.2 43.9l77.8 -67.4l-67.9 67.8l34.9 -48.1l-15.5 8.3l48.6 -33.8l-11.1 17.7l12.1 -29l-18 24.3l20.9 -23.8l-43.3 57.1l16.9 -17.4l-11.8 12.1l-33.1 24.1l71.4 -70.8l-48.2 52.9l0.3 4.3l19.6 -23.5l0 3.4l-90.9 74.4l25.5 -14.2l128.8 -122.6l-101.7 88.4l60.9 -47l-77.1 66.4l-11.2 13.1l0.2 -1l-27.4 17.8l87.1 -66.9l-10.2 -0.1l0.7 -2.1l-47.2 38.3l46.7 -27l61.6 -78.3l-57.6 67.6l-74.5 65.4l111 -96.3l-111 95.2l81.5 -86.8l49.3 -32.9l-81.7 74.6l31.6 -33.8l56.7 -62.3l-127.5 136.9l148.7 -139.2l-133.4 124.6l48.8 -51.3l-3.5 15.6l5.2 -12.4l-76.3 74.6l106.6 -108.8l18.2 -9.5l-93.2 94.7l56.4 -60.8l50.1 -48l-143.3 136.8l98.1 -107.1l-81.1 93l24.6 -39l30.9 -16.4l-22.1 6.9l17.7 -7.9l31.4 -23.1l34.1 -31.1l-16.3 4.4l30.9 -17.1l-71.4 54.8l23.4 -22.3l56.3 -52.4l-74.6 74.1l-72.7 69.7l55.6 -45.1l40.7 -38l51.8 -51.9l-83.4 83.2l54.9 -55l-39.8 38.1l53.5 -58l8.1 -17.9l-69 82.1l71.6 -74.7l-5.5 8.5l-18 23.7l34.8 -37.1l-94.3 87l49.4 -44.7l-2.1 -14.6l-87.6 102.6l78 -78.4l22.5 -17.4l-43.7 43.8l48.1 -51.4l-54.3 54.3l22.9 -23.7l-100.6 97.2l1.7 -8.2l115.8 -105.6l-23.5 27.1l-5.3 2.4l-31.2 26.3l27.6 -19.8l-8.8 6.5l26.2 -29.4l-61.6 65.3l-26.7 24.5l16.4 -12.8l73.7 -81.4l-101.7 102.7l142.4 -136.8l-44.6 46.5l24.8 -37.9l-60.5 67.4l-44.8 46.4l120.3 -115l-117.9 111.2l86.5 -89.4l-42.9 51.9l-41.2 25.9l-12.5 21.3l121.9 -120.8l-69.2 66.3l76.7 -74.1l-85.9 85.7l33.1 -35l30.7 -27.5l-3.1 -6.2l-75.8 80.4l73 -65.6l-69.7 68.6l36.2 -31.2l45 -45.6l-40.3 24.5l70.3 -54.7l-116.8 107.1l32.7 -24.2l-1.8 -4.5l-59.1 55.2l0.9 3.9l23.5 -19.3l-26.3 24.3l33.4 -36l91.8 -94.6l-23.1 29l14.4 -10.8l37 -35.9l-92.4 92.1l-39.9 35.4l7.8 -9l52.7 -59l-53 45.1l101.4 -94.4l-11.4 16l2.6 -0.9l-95.9 94.4l120.3 -125.3l-108.7 117.9l71.1 -68.4l-9.1 10.4l-12.4 3.3l20.3 -17.2l-35.5 35.4l-9.9 -4.1l-23.7 34.6l25.9 -22.8l-38.1 36.9l24.7 -18.9l36.3 -45.9l-45.7 47l-58.6 45.5l-1.2 10l0 -1.9l5.4 -14.9l-6.2 0.6l5 6.1l-3 -17.8l-1.5 0.4l2.5 -5.6l-11.8 5.6l-5.7 1l10.6 -7.4l2.4 27.8l-3.5 -7.2l2.9 -10.3l3.9 13l2.5 -8.2l-1.3 1.4l-10.3 -4.8l3.2 16.2l13.9 -9.5l-23.8 -7.4l11 16.5l13.8 -11.1l-7.6 11.2l-3.8 -25.1l1.5 16.2l-14.9 -18.5l-8.5 18.3l25.3 -9.9l-65.4 -1.1l3.1 2.5l-28.3 2.3l56 -2.2l207.4 -137.1l-3.7 -9.3l-9.3 4.5l9.5 1.9" marker-start="url(#mr)" marker-mid="url(#mr)" marker-end="url(#mr)"/>
<path fill="none" d="M357.4 1924.4l33.4 -21.1l-29.4 27.2l8.9 -18.3l-90.2 103.5l108.2 -112.3l-18.8 11.4l-47.2 50.3l-16.1 19.8l80.3 -88.8l-49.3 50.1l19.5 -5.6l9.1 -20.6l-53.8 58.6l45.5 -47.1l50.9 -58l-51.8 53.7l-56.4 80.3l84.7 -109.7l23.2 -22l-15.1 18.6l-121.2 131.4l61.2 -74l34.3 -33.3l-14 24.6l-58.3 52.7l-5.3 7.1l-3.2 9.6l44.1 -58.6l-45.4 51.2l110.5 -110.2l-74.5 70.3l54.8 -53.8l-77.4 84.1l20.1 -22l-40.5 43.6l74.3 -69.7l-31.6 22.1l-11.2 14.5l-31.9 31.5l117.4 -125.4l-92.4 96l13.8 -6.3l32.2 -39.8l4.9 -4.7l51.5 -56.2l-85.6 87.9l88.4 -84.1l-15.5 14.2l-65.7 59.8l26.2 -18.9l4.9 -14.6l16.4 -3.5l-29.8 26.6l-58.9 61.3l14.4 -15.8l87.9 -86.9l8.4 -7.6l-0.6 3.8l-61.6 54.8l17.5 -23.7l-5.9 5.1l1.9 6.2l-18.1 10.1l-39.1 46.2l36.5 -38.2l-18.9 17.9l-23 25.4l32.8 -35.9l-16.7 22.7l70.7 -78.2l34.7 -33.1l-50.8 47l-54.1 86.5l54.4 -81.4l-50.7 49.6l-7.7 11.7l25.3 -31.4l-52.4 68.7l38.4 -35l-30.7 18.5l25.7 -31.2l74.6 -67.4l16.3 -28.8l-58.2 70.2l-29.6 35.1l28.4 -39.5l10.5 -9l-71.2 76l16.5 -16.7l60.9 -70.6l-34.3 40.3l-20.9 19.2l96.3 -96.6l-46.1 41l20.4 -14.7l-62.8 65.2l21.4 -25.8l51.1 -56.6l-71.3 84.4l10.2 -6.9l-9.6 2.6l40.3 -43.7l34.6 -39.5l-44 44.4l51.5 -45.8l-101.7 113.3l97.6 -107.3l-1.6 -2.9l-46 42.6l-14.7 17.1l83.1 -84.6l-91.3 99.9l-44.7 46.8l22.3 -27l63.4 -56.1l-19 5.4l-42.9 56.3l53.7 -67.1l-35.8 43l30.4 -39.7l48.7 -38l-24.1 21.8l-81.6 83.9l58.9 -57.1l-4.9 -7.2l-2 2l-31.8 45.3l20.2 -24.8l59.5 -53.3l-69 60.6l10 -10.4l-37.1 44l75.6 -82.8l5.3 -10.6l-17 23.9l-56.6 66.2l64.8 -70.1l-48.2 45.6l41.6 -40.2l-66.5 62.9l87.3 -79.7l-21.7 18.9l-49.4 50.8l78.2 -81.7l-80.1 76.1l67.7 -62.3l-63.7 62.2l-26.3 28.5l26.1 -22.7l39.8 -46.9l-3.2 0.2l-6 5.4l-37.3 41.5l25.7 -21.3l45.4 -55.4l-19.6 27.2l4.6 -10.9l-61.9 67.9l43.5 -46.6l58.7 -53.7l-119.1 126.1l58.3 -68.7l-11.9 9.4l65.4 -59.8l17.2 -25.5l-70.1 74.3l30.1 -38.9l-49.8 68.9l81.6 -93.2l-77.3 82.2l37.9 -40.8l13.7 -21l-56.2 61.2l62.6 -61.3l-89.7 92.3l72.5 -76.5l-12.4 10.6l-46.2 48.6l52.6 -57.5l-14.3 30.4l-71.7 65.7l106.5 -107.2l11.3 -15.4l-47.6 40.5l-11.6 17.5l10 -14.7l-33 37.7l101.4 -108.7l-128.2 149.6l77.1 -94.9l-8.5 17.2l-67.1 72l48.3 -49.8l-51 55.6l98.6 -107.8l-89.3 95.1l12.7 -21.2l64.1 -69.3l-72.4 80l-1.1 8.2l93.8 -111.4l22.3 -15.1l-13.1 21.3l-47.7 39.7l2.9 -2.6l-10.5 3.6l15.5 -8l-10.5 18.5l-4.8 0.7l54.2 -54.8l-90.6 97.6l99.4 -115.3l-78 87.4l79.3 -87.9l-22.6 19.8l-10.2 18.8l-45.6 42.4l46.1 -43.2l28.3 -33.2l-84 90.4l85.8 -93.4l-87.5 98.7l87.8 -87.8l-71 61.4l21.8 -21.3l-20.2 24.6l22.4 -13.3l-54.1 44.2l-4.1 12.9l-3.8 6.1l-6.1 0.2l100.8 -112.7l-33.3 33.4l-35 41.4l9 0.1l82.6 -96.9l-3.9 9.4l-115.8 118l66.8 -73.8l9.4 -11.5l-20.6 22.9l26.6 -19.4l-98.8 107.4l99.7 -117.2l8 -1.9l-99.6 109.9l57.6 -71.5l10.9 -1.9l-5.9 -7.4l21.2 -8.9l0.9 -11.6l-83.2 94.5l71.2 -84.5l28 -14.9l5.7 -6.3l9.5 -4.4l-51.8 39.9l22.4 -13.5l38 -47.4l-48.6 43.5l17.4 -9.5l-35.4 28.9l-32.6 36.8l12.8 -12.2l29.8 -17.7l-18.5 3.6l-45.2 63.7l102.1 -123.2l-26.1 25l-66.7 82.6l24.4 -35.8l74.9 -72.4l-57.7 66l56 -67.1l-102.9 129.1l48.5 -77.8l-23.6 28.3l-30.7 37.5l14.9 -14.9l114.2 -126.5l-72.4 75.9l20.8 -14.4l-33.1 47.6l-40 31.7l8.6 -7.5l50.3 -67.7l-27.9 33.4l93.2 -93.4l-64.6 74l16 -30.3l20.6 -16.7l-91 94.4l51.7 -46.1l45.5 -48.1l-67.4 75l-34.7 25.2l51.7 -51.1l-35.5 35.8l33.3 -41.3l-34.7 61l100.9 -126.7l-46 51l-0.3 0.4l-26.6 23.5l47.9 -47.5l-52.8 51.7l80.4 -72l-87.2 79.6l-33.3 46.3l87.4 -96.4l-49.7 47.6l-0.5 -1.2l0 7.2l41.9 -53.9l1.3 -0.8l-49 54.3l25.5 -24.5l32.9 -33.6l-79.5 84.9l75.5 -81.1l-53.9 52.8l42.5 -43l35.6 -39l-47.4 51.7l5.5 -8.1l35.1 -33.7l-10.6 14.8l-7.6 3l-32.5 34.7l1.2 7.6l11.7 -20.1l-57.6 65.1l3.7 -5.4l96.2 -107.5l-77.5 81l77 -73.5l-52.4 59.4l-41.5 34.5l-19.3 22.8l60.5 -50.1l-70.1 61.2l15 -1.2" marker-start="url(#mb)" marker-mid="url(#mb)" marker-end="url(#mb)"/>
<path d="M105.4 1754 V2146.4 H510.8" fill="none" stroke="#222" stroke-width="1.5"/>
<line x1="93.4" y1="2099.8" x2="105.4" y2="2099.8" stroke="#222" stroke-width="1.5"/>
<text x="80.4" y="2107.8" font-size="22.5" text-anchor="end">0</text>
<line x1="147.4" y1="2146.4" x2="147.4" y2="2157.7" stroke="#222" stroke-width="1.5"/>
<text x="147.4" y="2187.4" font-size="22.5" text-anchor="middle">0</text>
<line x1="93.4" y1="1980.7" x2="105.4" y2="1980.7" stroke="#222" stroke-width="1.5"/>
<text x="80.4" y="1988.7" font-size="22.5" text-anchor="end">5</text>
<line x1="266.5" y1="2146.4" x2="266.5" y2="2157.7" stroke="#222" stroke-width="1.5"/>
<text x="266.5" y="2187.4" font-size="22.5" text-anchor="middle">5</text>
<line x1="93.4" y1="1861.6" x2="105.4" y2="1861.6" stroke="#222" stroke-width="1.5"/>
<text x="80.4" y="1869.6" font-size="22.5" text-anchor="end">10</text>
<line x1="385.6" y1="2146.4" x2="385.6" y2="2157.7" stroke="#222" stroke-width="1.5"/>
<text x="385.6" y="2187.4" font-size="22.5" text-anchor="middle">10</text>
<text x="127.8" y="1815.6" font-size="26.5">OG control</text>
<text x="127.8" y="1846.8" font-size="26.5"><tspan font-style="italic">n</tspan> = 10,827</text>
<text x="127.8" y="1877.8" font-size="26.5"><tspan font-style="italic">R</tspan><tspan font-size="17" dy="7">s</tspan><tspan dy="-7"> = 0.90</tspan></text>
<text x="505.4" y="2096.2" font-size="27" text-anchor="end" fill="#e9553a">Enriched (230)</text>
<text x="505.4" y="2127.4" font-size="27" text-anchor="end" fill="#9ccbe6">Depleted (343)</text>
<text transform="translate(24 1949.8) rotate(-90)" font-size="27.5" text-anchor="middle">Granule mRNA log<tspan font-size="18" dy="6">2</tspan><tspan dy="-6">(RPM)</tspan></text>
<text x="308.4" y="2231.4" font-size="27.5" text-anchor="middle">Cytoplasmic mRNA log<tspan font-size="18" dy="7">2</tspan><tspan dy="-7">(RPM)</tspan></text>
<path d="M828 1874h3v1h-3zM828 1875h3v1h-3zM828 1876h3v1h-3zM814 1877h5v1h-5zM828 1877h3v1h-3zM814 1878h5v1h-5zM813 1879h6v1h-6zM813 1880h6v1h-6zM825 1880h3v1h-3zM813 1881h3v1h-3zM825 1881h3v1h-3zM825 1882h3v1h-3zM809 1885h3v1h-3zM808 1886h5v1h-5zM820 1886h3v1h-3zM808 1887h5v1h-5zM817 1887h7v1h-7zM827 1887h3v1h-3zM808 1888h5v1h-5zM817 1888h7v1h-7zM825 1888h7v1h-7zM807 1889h6v1h-6zM816 1889h18v1h-18zM836 1889h4v1h-4zM803 1890h10v1h-10zM815 1890h25v1h-25zM803 1891h10v1h-10zM815 1891h25v1h-25zM802 1892h12v1h-12zM815 1892h25v1h-25zM787 1893h8v1h-8zM797 1893h42v1h-42zM787 1894h52v1h-52zM786 1895h54v1h-54zM786 1896h39v1h-39zM828 1896h13v1h-13zM786 1897h39v1h-39zM830 1897h11v1h-11zM783 1898h46v1h-46zM830 1898h11v1h-11zM781 1899h48v1h-48zM831 1899h10v1h-10zM781 1900h50v1h-50zM832 1900h9v1h-9zM779 1901h52v1h-52zM835 1901h5v1h-5zM779 1902h52v1h-52zM774 1903h3v1h-3zM779 1903h51v1h-51zM773 1904h57v1h-57zM772 1905h64v1h-64zM771 1906h65v1h-65zM771 1907h7v1h-7zM779 1907h57v1h-57zM771 1908h64v1h-64zM771 1909h65v1h-65zM768 1910h69v1h-69zM768 1911h71v1h-71zM767 1912h72v1h-72zM766 1913h65v1h-65zM832 1913h7v1h-7zM760 1914h3v1h-3zM766 1914h65v1h-65zM832 1914h7v1h-7zM760 1915h4v1h-4zM766 1915h65v1h-65zM835 1915h3v1h-3zM758 1916h72v1h-72zM758 1917h72v1h-72zM758 1918h72v1h-72zM758 1919h72v1h-72zM758 1920h72v1h-72zM757 1921h73v1h-73zM757 1922h73v1h-73zM755 1923h75v1h-75zM743 1924h3v1h-3zM755 1924h73v1h-73zM743 1925h3v1h-3zM755 1925h73v1h-73zM743 1926h3v1h-3zM756 1926h72v1h-72zM743 1927h3v1h-3zM757 1927h70v1h-70zM744 1928h3v1h-3zM757 1928h72v1h-72zM744 1929h3v1h-3zM754 1929h75v1h-75zM744 1930h3v1h-3zM753 1930h76v1h-76zM746 1931h4v1h-4zM752 1931h68v1h-68zM823 1931h5v1h-5zM746 1932h72v1h-72zM826 1932h3v1h-3zM737 1933h5v1h-5zM746 1933h71v1h-71zM826 1933h3v1h-3zM737 1934h6v1h-6zM746 1934h71v1h-71zM826 1934h5v1h-5zM737 1935h6v1h-6zM746 1935h72v1h-72zM828 1935h3v1h-3zM738 1936h80v1h-80zM828 1936h3v1h-3zM737 1937h81v1h-81zM820 1937h4v1h-4zM735 1938h83v1h-83zM820 1938h5v1h-5zM734 1939h84v1h-84zM820 1939h5v1h-5zM734 1940h77v1h-77zM820 1940h5v1h-5zM734 1941h77v1h-77zM821 1941h4v1h-4zM731 1942h80v1h-80zM731 1943h81v1h-81zM731 1944h81v1h-81zM730 1945h82v1h-82zM729 1946h83v1h-83zM726 1947h86v1h-86zM726 1948h86v1h-86zM726 1949h86v1h-86zM726 1950h86v1h-86zM720 1951h3v1h-3zM728 1951h83v1h-83zM718 1952h89v1h-89zM808 1952h3v1h-3zM718 1953h87v1h-87zM718 1954h86v1h-86zM718 1955h85v1h-85zM721 1956h81v1h-81zM715 1957h3v1h-3zM724 1957h77v1h-77zM714 1958h93v1h-93zM713 1959h94v1h-94zM713 1960h94v1h-94zM713 1961h94v1h-94zM715 1962h80v1h-80zM796 1962h7v1h-7zM715 1963h80v1h-80zM796 1963h7v1h-7zM709 1964h86v1h-86zM797 1964h3v1h-3zM709 1965h87v1h-87zM708 1966h88v1h-88zM708 1967h88v1h-88zM708 1968h88v1h-88zM708 1969h87v1h-87zM707 1970h80v1h-80zM788 1970h6v1h-6zM704 1971h90v1h-90zM703 1972h90v1h-90zM701 1973h91v1h-91zM699 1974h93v1h-93zM698 1975h94v1h-94zM698 1976h92v1h-92zM698 1977h92v1h-92zM698 1978h91v1h-91zM698 1979h91v1h-91zM698 1980h90v1h-90zM696 1981h91v1h-91zM696 1982h90v1h-90zM696 1983h88v1h-88zM693 1984h91v1h-91zM693 1985h91v1h-91zM688 1986h93v1h-93zM687 1987h94v1h-94zM687 1988h87v1h-87zM687 1989h86v1h-86zM687 1990h87v1h-87zM688 1991h86v1h-86zM677 1992h5v1h-5zM687 1992h87v1h-87zM676 1993h7v1h-7zM686 1993h88v1h-88zM676 1994h7v1h-7zM685 1994h89v1h-89zM676 1995h94v1h-94zM673 1996h97v1h-97zM670 1997h100v1h-100zM670 1998h100v1h-100zM670 1999h94v1h-94zM765 1999h5v1h-5zM671 2000h93v1h-93zM765 2000h5v1h-5zM671 2001h93v1h-93zM671 2002h92v1h-92zM671 2003h90v1h-90zM670 2004h91v1h-91zM667 2005h94v1h-94zM667 2006h93v1h-93zM667 2007h81v1h-81zM751 2007h9v1h-9zM659 2008h3v1h-3zM667 2008h82v1h-82zM752 2008h7v1h-7zM659 2009h3v1h-3zM667 2009h82v1h-82zM752 2009h7v1h-7zM659 2010h3v1h-3zM667 2010h82v1h-82zM753 2010h5v1h-5zM666 2011h85v1h-85zM666 2012h85v1h-85zM659 2013h3v1h-3zM666 2013h85v1h-85zM659 2014h3v1h-3zM665 2014h79v1h-79zM745 2014h5v1h-5zM655 2015h3v1h-3zM659 2015h3v1h-3zM665 2015h79v1h-79zM655 2016h3v1h-3zM665 2016h79v1h-79zM654 2017h4v1h-4zM664 2017h81v1h-81zM653 2018h4v1h-4zM664 2018h81v1h-81zM653 2019h5v1h-5zM664 2019h81v1h-81zM652 2020h6v1h-6zM665 2020h82v1h-82zM652 2021h6v1h-6zM666 2021h81v1h-81zM652 2022h5v1h-5zM658 2022h5v1h-5zM666 2022h81v1h-81zM652 2023h13v1h-13zM666 2023h77v1h-77zM652 2024h4v1h-4zM657 2024h85v1h-85zM657 2025h83v1h-83zM657 2026h83v1h-83zM657 2027h69v1h-69zM728 2027h11v1h-11zM637 2028h5v1h-5zM656 2028h80v1h-80zM637 2029h5v1h-5zM650 2029h5v1h-5zM656 2029h76v1h-76zM733 2029h3v1h-3zM637 2030h6v1h-6zM649 2030h84v1h-84zM636 2031h7v1h-7zM649 2031h84v1h-84zM636 2032h7v1h-7zM649 2032h84v1h-84zM636 2033h7v1h-7zM649 2033h83v1h-83zM637 2034h5v1h-5zM649 2034h4v1h-4zM655 2034h77v1h-77zM656 2035h67v1h-67zM724 2035h7v1h-7zM655 2036h76v1h-76zM652 2037h79v1h-79zM650 2038h81v1h-81zM644 2039h4v1h-4zM650 2039h80v1h-80zM644 2040h4v1h-4zM650 2040h5v1h-5zM658 2040h72v1h-72zM644 2041h4v1h-4zM657 2041h73v1h-73zM657 2042h72v1h-72zM657 2043h63v1h-63zM655 2044h65v1h-65zM637 2045h5v1h-5zM655 2045h63v1h-63zM636 2046h7v1h-7zM646 2046h3v1h-3zM654 2046h63v1h-63zM636 2047h7v1h-7zM645 2047h7v1h-7zM654 2047h60v1h-60zM636 2048h7v1h-7zM645 2048h56v1h-56zM702 2048h11v1h-11zM636 2049h7v1h-7zM645 2049h56v1h-56zM702 2049h11v1h-11zM637 2050h5v1h-5zM645 2050h10v1h-10zM656 2050h3v1h-3zM662 2050h39v1h-39zM702 2050h11v1h-11zM637 2051h5v1h-5zM644 2051h11v1h-11zM662 2051h37v1h-37zM704 2051h7v1h-7zM637 2052h5v1h-5zM643 2052h10v1h-10zM664 2052h33v1h-33zM704 2052h6v1h-6zM637 2053h5v1h-5zM643 2053h10v1h-10zM664 2053h33v1h-33zM704 2053h4v1h-4zM637 2054h5v1h-5zM643 2054h10v1h-10zM655 2054h5v1h-5zM664 2054h39v1h-39zM705 2054h3v1h-3zM637 2055h5v1h-5zM643 2055h10v1h-10zM654 2055h7v1h-7zM669 2055h39v1h-39zM637 2056h5v1h-5zM643 2056h10v1h-10zM654 2056h7v1h-7zM669 2056h39v1h-39zM637 2057h5v1h-5zM644 2057h9v1h-9zM654 2057h7v1h-7zM674 2057h32v1h-32zM612 2058h5v1h-5zM623 2058h5v1h-5zM637 2058h10v1h-10zM654 2058h6v1h-6zM666 2058h4v1h-4zM673 2058h5v1h-5zM682 2058h11v1h-11zM697 2058h6v1h-6zM612 2059h5v1h-5zM622 2059h7v1h-7zM637 2059h11v1h-11zM654 2059h6v1h-6zM665 2059h6v1h-6zM673 2059h5v1h-5zM681 2059h12v1h-12zM697 2059h6v1h-6zM612 2060h5v1h-5zM622 2060h7v1h-7zM637 2060h11v1h-11zM654 2060h6v1h-6zM665 2060h6v1h-6zM673 2060h5v1h-5zM681 2060h12v1h-12zM622 2061h7v1h-7zM642 2061h6v1h-6zM665 2061h6v1h-6zM681 2061h11v1h-11zM622 2062h7v1h-7zM630 2062h5v1h-5zM637 2062h14v1h-14zM653 2062h7v1h-7zM665 2062h13v1h-13zM679 2062h13v1h-13zM622 2063h14v1h-14zM637 2063h14v1h-14zM652 2063h9v1h-9zM664 2063h14v1h-14zM679 2063h13v1h-13zM623 2064h5v1h-5zM629 2064h7v1h-7zM637 2064h14v1h-14zM652 2064h9v1h-9zM664 2064h14v1h-14zM679 2064h12v1h-12zM629 2065h7v1h-7zM644 2065h7v1h-7zM652 2065h9v1h-9zM664 2065h11v1h-11zM685 2065h4v1h-4zM629 2066h7v1h-7zM644 2066h7v1h-7zM652 2066h9v1h-9zM664 2066h11v1h-11zM685 2066h4v1h-4zM623 2067h5v1h-5zM629 2067h7v1h-7zM644 2067h17v1h-17zM664 2067h14v1h-14zM685 2067h4v1h-4zM690 2067h3v1h-3zM622 2068h14v1h-14zM644 2068h10v1h-10zM655 2068h11v1h-11zM672 2068h8v1h-8zM681 2068h15v1h-15zM622 2069h14v1h-14zM644 2069h10v1h-10zM656 2069h10v1h-10zM672 2069h8v1h-8zM681 2069h15v1h-15zM622 2070h14v1h-14zM644 2070h10v1h-10zM656 2070h10v1h-10zM672 2070h8v1h-8zM681 2070h15v1h-15zM622 2071h14v1h-14zM644 2071h10v1h-10zM656 2071h10v1h-10zM672 2071h8v1h-8zM681 2071h15v1h-15zM622 2072h14v1h-14zM644 2072h10v1h-10zM656 2072h10v1h-10zM672 2072h8v1h-8zM681 2072h15v1h-15zM623 2073h5v1h-5zM630 2073h5v1h-5zM643 2073h10v1h-10zM657 2073h4v1h-4zM667 2073h4v1h-4zM674 2073h4v1h-4zM690 2073h3v1h-3zM642 2074h12v1h-12zM656 2074h7v1h-7zM666 2074h6v1h-6zM675 2074h6v1h-6zM642 2075h12v1h-12zM656 2075h7v1h-7zM666 2075h6v1h-6zM675 2075h6v1h-6zM642 2076h12v1h-12zM656 2076h7v1h-7zM666 2076h6v1h-6zM675 2076h6v1h-6zM642 2077h12v1h-12zM656 2077h7v1h-7zM666 2077h6v1h-6zM675 2077h6v1h-6zM642 2078h12v1h-12zM656 2078h7v1h-7zM666 2078h6v1h-6zM675 2078h6v1h-6zM643 2079h5v1h-5zM667 2079h4v1h-4zM623 2080h5v1h-5zM630 2080h5v1h-5zM622 2081h14v1h-14zM646 2081h5v1h-5zM655 2081h4v1h-4zM663 2081h3v1h-3zM622 2082h14v1h-14zM646 2082h5v1h-5zM655 2082h4v1h-4zM663 2082h3v1h-3zM622 2083h14v1h-14zM646 2083h5v1h-5zM655 2083h4v1h-4zM663 2083h3v1h-3zM622 2084h14v1h-14zM646 2084h5v1h-5zM655 2084h4v1h-4zM663 2084h3v1h-3zM622 2085h14v1h-14zM646 2085h5v1h-5zM655 2085h4v1h-4zM663 2085h3v1h-3zM623 2086h5v1h-5zM630 2086h5v1h-5zM623 2088h5v1h-5zM637 2088h5v1h-5zM622 2089h7v1h-7zM636 2089h7v1h-7zM678 2089h3v1h-3zM622 2090h7v1h-7zM636 2090h7v1h-7zM678 2090h3v1h-3zM622 2091h7v1h-7zM636 2091h7v1h-7zM678 2091h3v1h-3zM622 2092h7v1h-7zM636 2092h7v1h-7zM678 2092h3v1h-3zM622 2093h7v1h-7zM636 2093h7v1h-7zM678 2093h3v1h-3zM623 2094h5v1h-5zM637 2094h5v1h-5zM598 2100h5v1h-5zM612 2100h5v1h-5zM623 2100h5v1h-5zM597 2101h7v1h-7zM611 2101h7v1h-7zM622 2101h7v1h-7zM597 2102h7v1h-7zM611 2102h7v1h-7zM622 2102h7v1h-7zM597 2103h7v1h-7zM611 2103h7v1h-7zM622 2103h7v1h-7zM597 2104h7v1h-7zM611 2104h7v1h-7zM622 2104h7v1h-7zM597 2105h7v1h-7zM611 2105h7v1h-7zM622 2105h7v1h-7zM598 2106h5v1h-5zM612 2106h5v1h-5zM623 2106h5v1h-5z" fill="#0b0707" filter="url(#sb)"/>
<g><path fill="none" d="M599.8 2076l0 -5.7l0 0l0 32.6l0 -20l0 8.6l0 -37.6l0 49l0 0l0 -11.4l0 -30.3l0 -42l0 83.7l0 -26.8l0 -14.9l0 41.7l0 -11.4l14.6 11.4l0 -41.7l0 -13.4l0 55.1l0 -72.7l0 52.7l0 -45.9l0 3.3l0 9.4l0 -27.5l0 39l0 -3.9l0 25.6l0 -21.7l0 41.7l0 -58.9l0 58.9l0 -11.4l0 -34.2l0 34.2l0 -26.1l0 10.7l0 -5.8l0 -38.6l0 71.2l0 -62.5l10.2 -0.3l0 51.4l0 -8.6l0 -67.2l0 87.2l0 -32.6l0 32.6l0 -49l0 16.4l0 21.2l0 11.4l0 -11.4l0 -8.6l0 -21.7l0 4.2l0 4.9l0 21.2l0 -30.3l0 30.3l0 -21.2l0 -33.7l0 28.8l0 -4.2l0 -29.8l0 34l0 -41.3l0 41.3l0 -14.8l0 52.3l0 -41.7l0 0l0 -3.9l0 25.6l0 -12.6l0 12.6l0 -53.2l0 73.2l0 -20l0 8.6l0 -21.2l7.9 0l0 -4.9l0 4.9l0 -66.6l0 87.8l0 -8.6l0 -36.6l0 45.2l0 -15.4l0 -10.7l0 17.5l0 -46.7l0 29.2l0 17.5l0 -51l0 -29.5l0 80.5l0 20l0 -45.6l0 13l0 5.8l0 -5.8l0 0l0 12.6l0 20l0 -11.4l0 -46.4l0 57.8l0 -37.5l0 -8.1l0 3.9l0 9.1l0 12.6l0 -45.2l0 -18.1l0 45.8l0 -13.7l6.4 39.8l0 -41.3l0 -18.2l0 6.4l0 27l0 0l0 10.7l0 -5.8l0 -19.9l0 41.1l0 -34.2l0 -3.4l0 29l0 -51.7l0 44.9l0 -35.7l0 62.5l0 -81.7l0 25.9l0 -9.3l0 19.5l0 34.2l0 -42.6l0 12.3l0 21.7l0 0l0 -34.9l0 -1.6l0 14.8l0 -7.3l0 11.5l0 10.7l0 -29l0 14.1l0 14.9l0 15.4l0 -37.6l0 -24.5l0 0.6l0 31.2l0 -3.9l0 45.6l0 -69.6l0 17.5l0 -12.5l0 53.2l0 -60l0 1.5l0 13.8l0 -19.3l0 75.4l4.2 -71l0.1 51l0.2 -17.5l0.4 -11.5l0 7.3l0.2 9.1l0 -18.9l0.1 51.5l0.1 -45.6l0 -9.1l0 -9.2l0.1 14.9l0 37.6l0 -47.3l0 -21.6l0 53.5l0 0l0 15.4l0 -83.1l0 94.5l0 -41.7l0 30.3l0 -30.3l0 30.3l0 -15.4l0.1 -14.9l0.1 21.7l0.1 -6.8l0.1 26.8l0 -41.7l0 14.9l0.1 -10.7l0 10.7l0.1 -5.8l0 32.6l0.1 -62.7l0.3 -21l0 21.8l0.1 20.2l0.1 14.9l0 -22.2l0.1 0l0 -37.4l0.2 48.9l0.1 10.7l0.1 -10.7l0 4.9l0.2 -20.8l0.1 -32.4l0.1 53.2l0 -27.8l0.1 40.4l0.5 -43.9l0 18.3l0.2 25.6l0.2 -21.7l0 -32.6l0.2 32.6l0.2 4.2l0 10.7l0.3 -10.7l0.1 -17.5l0 1l0.2 34l0 -34.2l0 -27.4l0.4 26l0.1 44.2l0 -68l0.2 -14.4l0 93.8l0.1 -37.5l0 -31l0.1 68.5l0 -20l0.1 0l0 -25.6l0.2 -33.8l0 -25.8l0 72.6l0.1 -16.4l0.1 -40.3l0 47.6l0.1 -54.6l0 69.5l0 -25.2l0.3 -13l0 23.3l0.1 14.9l0 -5.8l0.1 -29.5l0 29.5l0.2 -13l0 8.1l0.1 -59.5l0 25.5l0.1 71.5l0.1 -49l0.1 -24.8l0 -20.5l0.1 40.1l0.1 34.2l0.1 8.6l0.1 -15.4l0.1 -44.2l0.2 0.2l0.1 5l0.2 33.2l0 5.8l0 -5.8l0.1 -31.6l0.1 -0.4l0.1 19l0.1 -24.9l0.2 43.7l0.2 -48.9l0 43.1l0 -49.1l0.3 44.2l0.1 10.7l0 -24.7l0.2 -23.5l0.1 -64.7l0 85.1l0 -47.1l0.1 49.7l0.2 -25.4l0 16.4l0.1 49.6l0 -45.5l0.2 -42.3l0 79.2l0 -63.6l0.1 41.9l0 -39.5l0.1 -0.8l0 -4.4l0.2 66.4l0.1 -65.8l0 21.2l0 0.7l0.1 26.4l0.2 37.5l0.1 -20l0 -12.6l0 -20.7l0 -27.2l0.2 38.8l0.1 4.2l0.1 26.1l0.1 -77.6l0 51.5l0 -32l0.1 23.9l0 0l0.3 25.6l0 -25.6l0 -37.3l0.2 56.1l0 -41.9l0.1 9.3l0.1 21.9l0 -34.1l0.1 -0.6l0.1 15l0.1 11.6l0 8.1l0.1 0l0 -30.5l0 30.5l0 -17l0 -30.8l0.3 85.3l0.1 -55.4l0 -32l0.1 22.8l0.1 5.9l0.1 31.9l0 -96.6l0.1 77.8l0 0l0 -53.8l0 40l0 3.8l0.1 55.6l0 -41.7l0.1 -30.3l0 -5.1l0.1 -0.9l0.3 58l0.1 -12.6l0.1 -31.9l0.1 -8.8l0 40.7l0 -57l0 78.2l0.1 -90.3l0 8.5l0 11.2l0.1 62l0 -58.8l0 0l0.1 21.8l0.1 -5l0 35.2l0 -47.3l0.2 7.9l0 28.7l0.1 -11.5l0 16.4l0 0l0.1 5.8l0 -5.8l0.1 -55.1l0.1 60.9l0 -18.8l0.1 -3.4l0 -4.6l0 11.9l0 -20.2l0 -30.9l0.2 55.3l0.3 -40.1l0.3 -9.2l0.2 86.8l0 -26.8l0.3 6.8l0 -17.5l0.2 -39.8l0.1 65.9l0.1 -83l0.2 61.8l0.1 -48.3l0.1 -12.4l0 16.3l0 44.4l0.1 32.6l0 -94.7l0.1 39.5l0 -0.5l0.2 -23.3l0.1 -10.5l0.3 69.5l0 8.6l0 -78.1l0 56.9l0.2 5.8l0 -85.7l0.4 15.4l0.2 12.3l0.1 29.6l0 17.7l0.1 -39.4l0.1 50.1l0.2 -55.7l0.1 40.8l0.1 -36.6l0.1 58.3l0.1 -31.3l0 13.8l0.1 4.9l0.1 12.6l0 -95.7l0.2 83.1l0.1 -19.2l0.1 -33.6l0.2 -12.7l0.1 -3.5l0.1 90.2l0.1 -95.3l0.1 106.7l0.2 -52.1l0 32.1l0 -6.8l0.1 -60.3l0 67.1l0.3 -78l0 15l0 -9.8l0.1 55.3l0.1 -11.5l0.1 -28l0.1 44.4l0.1 -19l0.3 14.1l0 -4.2l0 14.9l0.1 15.4l0 -30.3l0.1 -44.5l0 44.5l0.1 4.2l0 -64.6l0.2 10.5l0.1 80.2l0.1 -69.9l0.2 2.4l0 2.1l0 -8.1l0.1 -1.8l0 -15.2l0.1 75.1l0.2 -10.7l0.1 -4.2l0 -46.8l0 46.8l0.3 -40.4l0 55.3l0.3 -66.9l0 2.7l0.1 42l0.1 16.4l0.1 0l0.1 -65.1l0 48.7l0.1 22.2l0.1 15.4l0 -80.4l0.1 -3l0 68l0.2 -22.2l0.1 11.5l0.2 -60.8l0 52.7l0.1 25.6l0.3 -76.7l0.1 69.9l0.4 -5.8l0.2 -4.9l0.1 -4.2l0 4.2l0 -4.2l0.2 41.7l0.1 -125.8l0.1 30l0 -26.2l0.3 26.3l0 -0.4l0.1 -7l0 65.6l0.1 4.9l0.1 -16.4l0.1 -53.7l0.2 -0.5l0.2 2.4l0 -9l0.4 -1.7l0.1 111.5l0.1 -20l0.1 -86l0.1 1.3l0.3 59.1l0.1 3.9l0.2 9.1l0.1 5.8l0.2 -88.8l0 83l0.1 -4.9l0.1 -8.1l0.1 -62l0.1 70.1l0.2 4.9l0.1 32.6l0 -32.6l0.3 5.8l0 -10.7l0 -66.6l0.1 58.5l0 -66.4l0.1 70.3l0.2 9.1l0.2 0l0.1 -16.4l0 -55.4l0.3 55.4l0 7.3l0 -7.3l0.2 7.3l0 30.3l0.1 -21.2l0.1 5.8l0.1 -10.7l0 -8.1l0.3 18.8l0.2 -18.8l0.2 25.6l0.1 -90.4l0.3 77.8l0.1 21.2l0 -98.7l0.1 4.5l0.2 78.8l0.2 0l0.2 -81.4l0.2 0.4l0.2 96.4l0.2 -97.8l0 1.7l0.1 61.9l0.3 18.8l0 26.8l0 -32.6l0.1 -4.9l0.3 -8.1l0 13l0.1 5.8l0.1 -10.7l0.2 26.1l0.1 -119.8l0.2 93.7l0.1 -68.8l0 94.9l0.1 -98.9l0.1 68.6l0.2 0l0.9 9.1l0.3 -119.6l0.2 132.2l0 -100.4l0 87.8l0 -118.8l0.4 24.7l0.4 94.1l0.1 -13l0 3.9l0.1 0l0 0l0.9 9.1l0 -75.5l0.1 70.6l0.4 0l0.1 -69.2l0.1 -1.6l0.2 -16.8l0 87.6l0.1 -83.1l0.1 88l0.1 -87.5l0.3 -4.5l0.1 92l0.4 -73l0.1 -6.6l0.3 85.4l0.2 -81.5l0.2 -7.1l0.1 -3.9l0.5 -2.8l0 9.2l0 71.2l0.1 4.2l0.2 -4.2l0.1 4.2l0.1 -76.2l0.2 76.2l0.1 -70.8l0.3 81.5l0 -81.3l0.6 75.5l0.1 0l0.2 -13l0.1 -64.1l0 -8.1l0 1.8l0.1 70.4l0 13l0.2 -81.3l0.1 68.3l0.4 34.2l0.1 -30.3l0.3 0l0.1 0l0.2 9.1l0.3 -102.1l0.1 -10.4l0.1 112.5l0.1 -95.1l0.1 -4.3l0.6 -2.5l0.1 9.5l0.1 92.4l0.1 -83.4l0 -5.3l0 79.6l0.1 -74.3l0 83.4l0.3 12.6l0 -99.2l0.3 -2.6l0.3 76.2l0 -3.4l0.5 -75.3l0.2 91.7l0 -20.6l0.5 -62.5l0 78.2l0.2 -95.5l0.2 15.2l0.5 76.1l0.1 -7.3l0.2 37.6l0.2 -42.9l0 5.3l0.1 3.4l0.2 34.2l0.1 -42.1l0 -1.1l0.2 9l0.2 -79.5l0.1 -11.8l0.3 7.9l0 96.4l0.2 -86.5l0.1 0.7l0.2 63.1l0 2l0.2 -88.9l0 93.2l0.1 -72.2l0.2 1.8l0.2 70.4l0 3.4l0.2 -75.3l0.4 75.3l0 -79.6l0.1 87.7l0.2 -8.1l0.1 -77l0.4 67.6l0.3 -70.4l0.2 -1.1l0 89l0 10.7l0.4 -18.8l0.2 18.8l0 -18.8l0.3 -81.6l0.3 70.6l0.1 -71.2l0.5 73.6l0.3 -74l0.3 86.5l0.1 -14.3l0.3 4.3l0.1 2.7l0 16.4l0.2 -101.3l0.1 82.5l0.2 -76.9l0.2 79.3l0 16.4l0.4 -112.4l0.4 17.5l0.4 74.5l0.3 7.4l0 -92l0.1 8.8l0 0.4l0.3 86.7l0.1 -90.1l0.2 79.2l0.1 -1l0.3 -76.2l0.4 -4.3l0 -7.9l0 104.5l0.4 -11.5l0.2 0l0.6 -108l0.2 102.6l0.4 -81.8l0.3 4l0 1.7l0.3 77.7l0.2 -2.3l0 -81.9l0.1 78.9l0 4.9l0.1 -87.5l0.2 4.4l0.1 -0.6l0 2.4l0.8 78.6l0 -2.7l0.1 -83.8l0.1 93.4l0.1 3.4l0.6 -92.3l0 -25.3l0.2 105.4l0.3 -78.8l0 -7.6l0.3 95.2l0.3 -6.9l0.3 -4.1l0.5 18.3l0.2 -18.6l0.1 -91.1l0.3 6.3l0 112.5l0.1 -104.8l0.3 -5.2l0.1 81.9l0 -78l0.1 106.1l0.4 -26.1l0 26.1l0.1 -108.9l0.3 81.5l0 14.4l0 -100.2l0.3 -7.6l0.1 12.9l0 3.3l0.2 -0.4l0.1 -5.7l0.2 110.7l0.2 -104.6l0.9 79.7l0 -87.9l0.5 -5l0.1 1l0 0.3l0 88.6l0.1 -101.4l0.5 109.6l0.1 -15.5l0.3 -74.6l0.3 -5.1l0.3 79.5l0.2 -77.2l0 -4.7l0.2 100.9l0.6 -13.4l0.2 -8l0.1 -72.9l0.5 -15.6l0.2 90.9l0 -82.4l0.1 0.6l0 72.7l0.3 14.5l0.1 9l0.2 -20.4l0 13.9l0.1 -82.9l0 -3.7l0.1 -20.1l0.4 87.5l0 8.7l0.2 5.7l0 -83.3l0.3 74.4l0 -75.6l0.1 83.7l0.3 -88.6l0 6.7l0.2 -9.3l0.2 78.1l0.1 6.2l0.1 -5.5l0.2 -64.5l0.1 78.8l0 -3.4l0.2 5.9l0 -102l0.1 19l0.2 81.2l0.5 -3.3l0.2 -85.5l0.1 84.9l0 0l0.2 4l0.5 -7l0 -5.2l0 -77.3l0 89l0.1 -85.7l0.1 79.6l0.2 3.6l0.2 -7.1l0 -79.2l0.1 76.6l0.1 9.1l0 -9.7l0.1 -77.1l0 81.9l0.1 -83.9l0.5 113.7l0.4 -118.9l0 88l0 -4.2l0.3 -78.6l0 77l0.1 11l0.3 -87.4l0.4 -6.7l0.1 91.3l0.4 -87.8l0.4 101.4l0.1 -10.5l0.4 -8.3l0.3 1.2l0 1.9l0.2 -85l0.3 89.7l0 -8.8l0.3 -81.8l0.2 -8.3l0.2 7.8l0.1 92.7l0.6 -106.5l0.4 100.1l0.2 -87.1l0.6 -5.5l0 5.2l0.1 -3.3l0.1 84.7l0.1 -84.3l0.2 101.1l0 -13.8l0 -88l0.4 2.8l0.4 -0.9l0.5 83l0 -2.6l0.1 4.8l0.1 -108.3l0.1 104.4l0.6 1.1l0.4 9.8l0 -100.3l0 87.3l0.4 8.3l0.4 -93.2l0.1 0.7l0.4 -3.5l0 89.5l0.2 -1.4l0.1 -83.4l0 -2.1l0.3 81.2l0 33.9l0.6 -115.7l0.2 76.4l0.9 4.6l0.1 -89.7l0 87l0.1 14.5l0.1 -7.1l0.4 -95.7l0.1 96.5l0.1 -83.6l0 132.5l0.2 -38.3l0.6 -15.6l0 2.3l0 -88.4l0.3 -5.8l0.2 6.5l0.1 73.5l0.3 1.6l0.1 4l0 0.7l0.1 11.9l0.2 -95.8l0.1 83.6l0.1 -80.9l0.3 85.4l0 5.2l0.1 -88.6l0.1 91.8l0.1 -97.3l0.1 11.2l0 75.5l0.2 12.4l0.1 -19.6l0.3 5.3l0.4 -4.4l0.4 -79.3l0.1 5.4l0.2 78.3l0 -72.5l0.1 72.4l0.4 -76.5l0.1 79.6l0.1 -9.4l0.1 7.4l0 -92.4l0.1 11.7l0.4 86.8l0.2 -85l0.6 -6.2l0.3 92.5l0.2 2l0.5 -17.2l0.4 -75.7l0 -6l0.3 94.6l0 -94.8l0.1 111.9l0.1 -26l0 27.8l0.2 -128l0.1 12.1l0.6 14.1l0.1 78.8l0 -7.3l0 2.6l0.3 6.6l0.1 -88.2l0.4 -3.9l0.1 83.7l0 13.9l0.1 -88l0.1 -0.1l0.3 78.1l0.4 -92.7l0.1 14.8l0.1 -0.4l0.1 -5.7l0.3 6.8l0 74.5l1 -93.4l0 94.9l0.3 -5.8l0.1 -72.2l0.2 -8.3l0.1 -12.9l0.2 93.9l0 -1l0.2 4.5l0 0.7l0.1 -96.5l0.3 -1l0.1 93.5l0.1 2.4l0.3 -76.9l0.1 -4l0.1 -2.1l0 7.6l0.1 -15.7l0.2 5.6l0 79.3l0.3 2.3l0 -82.2l0.1 7.8l0.1 -2.7l0 92l0.3 -100.7l0 99.5l0.2 -17.1l0 -76l0.3 -5.5l0.4 5.7l0.1 -4.5l0 -3.7l0.1 -2.9l0.1 98.4l0 -12.6l0.2 11.9l0.8 -91.8l0 82.2l0.1 0.9l0.7 -85.2l0.3 93.7l0.7 -105.1l0.3 12.4l0.3 82.1l0 4.1l1.3 -92.9l0.2 -13l0 108.6l0.1 -89.1l0 81.6l0.1 -91.1l0.5 90.8l0.3 9.1l0.2 -92.4l0.2 -3.8l0 88.6l0.7 -1.1l0.1 -82.5l0 -3.1l0 90.2l1 -90.2l0.3 85.5l0.2 -83.2l0.3 75.4l0.1 -79l0.5 74.5l0.1 19.9l0.1 -13l0.3 -6.1l0 6.1l0.6 -86.3l0 85.3l0.1 -81.3l0.4 80.8l0.2 -2.7l0.1 -90.6l0.2 96.4l0.4 -8.7l0 13.1l0.2 -91.3l0.2 -0.5l0 -10.9l0.1 15.2l0.5 -5.1l0.3 79.6l0.3 -82.8l0.1 5l0.1 -1l0.2 -2.8l0.6 90.6l0.1 8.7l0 -4.5l0.4 -7.5l0.2 -82.5l0.4 91.2l0.2 -15.8l0.2 -80.8l0 -4.5l0.3 86.8l0 -81.4l0 1.9l0.4 78.8l0.9 -88.2l0.6 6.5l0.2 6.4l0.4 -10.2l0.1 86.1l0.1 -3.4l0.1 0.3l0.3 -78.7l0.2 5.8l0.1 75l0.2 -74.6l0.4 -8.4l0.8 -9.5l0.1 8.7l0.1 -13.7l0.4 6.8l0.1 5.5l0.2 83.3l0.2 0.3l0.2 -3.9l0.2 -0.9l0.2 -0.5l0 -6.1l0 -77.9l0.1 98.2l0.1 -109l0.1 88.2l0 -71.3l0.1 70.7l0.1 -4.3l0 1.8l0.4 -77.9l0 87.1l0.2 -76.3l0.1 -16.1l0.1 82.2l0.1 9.9l0.2 -77l0.5 77.6l0 12.6l0.1 -15.8l0 -76.3l0.3 69.4l0.2 -78.5l0.1 86l0.1 4.8l0 -85.5l0 -36.7l0.4 124.4l0.7 7.6l0.1 -91.4l0.3 75l0 -2.4l0.1 16.6l0.5 -11.9l0.1 1.2l0 -3l0.5 -79.1l0 1.3l0.1 96.2l0.1 -100.6l0.1 113.4l0.2 -25.7l0.4 -10.3l0.3 -0.6l0 -73.6l0.5 73.8l0.1 2.7l0 1.3l0.3 -77.6l0.3 -6.6l0.1 84.6l0 -6.7l0.2 -4.3l0 4l0 0.7l0.5 -70.3l0.2 0l0.2 -1.1l0.1 72.8l0.2 -8.8l0.1 6.7l0.3 -5.4l0.8 -68.8l0.9 -2.3l0.5 4.1l0.6 70.4l0.4 -90.5l0.1 105.6l0 -83l0.2 64.3l0.1 0.1l0.1 -66.6l0.3 65.4l0.4 -5.2l0.4 4.7l0.2 -2.9l0.5 -3.4l0 9.3l0.1 -67.6l0.1 66.7l0.1 -7.5l0 7l0.2 -7.2l0 -84.9l0.1 84l0.1 6l0.1 -63.1l0 64.1l0 -7.6l0.1 1l0.2 -1l0 2.1l0.4 -61l0.5 57.8l0.2 0.8l0.1 11.5l0.1 4.3l0.7 -96.8l0.2 83.2l0.1 -74l0.1 81.2l0.1 -78.6l0.2 83.9l0.1 -71.1l0.3 65.8l0.1 -2.8l0.1 -8.2l0 -64.1l0.2 7.4l0.1 1.8l0.1 53.9l0.3 2.9l0 -76.6l0.1 17.9l0.2 76.1l0.1 -11l0.2 -7.8l0.2 32.1l0.3 -21.7l0.1 -68l0 -8.6l0 10.1l0.1 -4.8l0.1 -12.5l0.1 80.3l0 27.7l0.1 -24.5l0.1 -5.2l0.3 -63.4l0.9 59.5l0.6 -7.3l0 -52.7l0.3 57.5l0.1 -10.8l0.1 -45.7l0.1 57.5l0.4 -7.1l0.1 13l0.1 -11.7l0.2 -6l0 11l0.1 -60.9l0.1 4l0.3 -6.1l0.2 2l0.1 57.4l0.4 -51.8l0.1 46.7l0.1 18.1l0 -11.4l0 -53.4l0 49l0.1 -54.1l0.4 60.9l0 -55.8l0.1 -10.1l0 11.5l0.2 -7.8l0 -20.9l1.2 13l0.1 75.9l0.1 -15.3l0 -44.8l0 -6.5l0.1 -16l0.2 9.4l0.1 9.9l0.8 44.6l0.1 27.4l0.1 -78.4l0 63.1l0.1 -17.2l0 -0.7l0.1 4.5l0.2 -68.8l0.1 79.7l0 -14.1l0.1 -39.2l0.6 36.2l0.1 6.7l0.1 -46.9l0 -3.8l0 -5l0.2 8.8l0.1 68.8l0 -64.2l0 -9.1l0.2 55.1l0.3 -62.5l0 2.3l0.3 0.8l0 -9.1l0.2 2.5l0.1 54.2l0 33.2l0.1 -30.6l0 4.5l0 7.2l0.1 -4.1l0.2 -71.9l0 9.6l0 2.7l0.1 14.9l0.1 34.4l0 0l0.2 -43.5l0.2 54.5l0.1 -46.3l0.7 35.2l0.1 -40.8l0.6 3.2l0.1 -0.3l0.2 47.8l0.4 11.9l0.1 -62.3l0.4 44.5l0 -0.7l0.1 -41.6l0 0.5l0.5 44.7l0 5.2l0.2 -8.1l0.5 -45.2l0.1 10.5l0.3 -20.5l0 12.8l0.2 -11.4l0 62.3l0.2 -1.3l0.1 -0.1l0.2 -60.3l0 49.3l0.1 -62l0.1 72.3l0 10.1l0.5 -70.2l0.1 3.4l0.2 48l0.2 -30.7l0.3 -3.2l0.2 27.9l0 -24.5l0.1 30.1l0.3 -1l0.1 -3.2l0.2 8.5l0.1 -32.7l0.1 50.2l0 -63.5l0.2 44.4l0.1 -4.6l0.2 -44.4l0.5 41l0.1 -21.3l0.1 12.1l0 23.3l0.1 -46.5l0.1 3.2l0.1 -10.9l0.2 17.1l0 12.6l0 -19.1l0 -17.6l0 38.5l0.1 -25.3l0 33.7l0 -33.6l0.1 -7.9l0 53.4l0 -34.3l0.2 20.1l0.1 -17.6l0.1 -0.3l0.1 -23.2l0.1 -5.8l0.1 44.8l0.1 -28.6l0 40.2l0.3 -40.6l0.1 16.2l0.1 -6.6l0 -26.1l0.1 41l0.2 -18l0 -3.7l0.2 41.6l0.2 -59.7l0 62.3l0 -16.5l0.3 -42.6l0.2 44.2l0 -34.8l0.1 46l0.1 -56.2l0 38.6l0.1 -23l0.2 -1.7l0.2 45.5l0.3 -30.6l0.2 -17.6l0 36.6l0.5 -33l0.3 15.4l0 -23.6l0.1 27.5l0 -19.3l0 10.7l0.2 -10.4l0.1 6.8l0.2 -21.6l0 33.5l0.4 -14.2l0 3.2l0.1 -3.6l0.1 9.3l0.1 -8.1l0.2 13.9l0.1 9.4l0.8 -13.7l0.1 7.1l0 -45l0.1 13.6l0.2 15.2l0.1 39.5l0.3 -25.2l0.4 0.2l0.1 -7.1l0.1 -18.9l0 20.8l0.1 -12.5l0 18.3l0 -23.3l0 31.7l0.2 -36.2l0 5.9l0.7 25.4l0.1 -18.3l0.1 -28.6l0.1 28.7l0.2 0.6l0.1 -6.6l0.2 -1.3l0.2 8l0.2 14.9l0 -29l0.1 12.6l0 -24.2l0.3 19l0.1 25.3l0.1 -18l0.1 26.4l0.1 -22.8l0.1 9.3l0.7 -52.3l0.6 9.9l0.1 11.1l0 24.3l0.2 -9.4l0.2 -18.7l0.1 30l0.3 -33.5l0.1 15.7l0 36.3l0.2 -53.7l0.2 15.5l0 11.7l0 14.1l0.2 -22.7l0.3 -28.9l0 67.9l0.4 -55l0.1 26.4l0.2 -37.7l0.2 32.8l0.1 38.3l0.8 -32.2l0.3 1l0.1 -55.8l0.2 43.2l0 -15.6l0.4 -19.5l0.5 41.2l0.6 -0.5l0.2 19.1l0.9 -59l0.1 13.2l1.6 -8.1l0.4 22.2l0.1 11.8l0 1.6l0.5 -51.2l0.1 27.9l0.8 -18.9l1 43.5l0 7.7l1.6 -0.8l0.8 -45.1l0.3 -21.2l0.4 20.2l0.1 6.8l0.7 52.9l0.7 -54.9l0.1 27.6l0.7 9.7l0.3 -40.4l0.6 -13.6l0.4 13.7l0.2 -9.2l0.5 -8.7l0.6 18.7l2.3 -10l0.1 -20.6l1.2 20.2l1.2 4.1l0.5 -5.3l1.2 62.7l2 -76.7l0.5 -8.3l2.7 9.7l0.2 5.6l2.1 -15l0.1 17.3l1.7 -13.4l1.2 0.7l1 11.6l1.1 -1l0.6 -20.8l1.3 -9.6l0.8 7l1 24l0.2 -38.5l0.2 24.2l1.6 10.3l1 -16l0.5 10l1.1 -11.4l3.9 -2.8l2.2 3.1l0.1 9l0.4 -5.1l0.3 -1.4l3.3 -6.2l0.3 -6.8l1.3 -3.7l2.4 -2l0.6 -3.8l0.3 19.3l4.4 3.7l0.1 -21.8l0.1 6.4l1.5 -1.8l1 -6.2l4.6 6.9l2.4 0.7" marker-start="url(#mo)" marker-mid="url(#mo)" marker-end="url(#mo)"/></g>
<path fill="none" d="M801.1 1870l-92.4 89.7l7.3 -13.2l16.3 -8.9l43.7 -59.2l45.6 -32.3l-43.4 53.7l-90.2 74.1l45.6 -34.3l101.3 -105.1l-92.2 95.2l-43.6 38.7l-11.2 6.9l78 -86.2l-35.3 51l68.9 -63.4l-21.9 9.5l-14.7 18.8l30 -18.4l-57.9 48.8l94.8 -93.9l-84.6 78.9l45.1 -46.9l-89.3 88.5l70.7 -60.2l1.6 -9.7l7.4 0.7l-58.3 52.2l-14.3 15.1l102.4 -93.8l1.8 -4.6l-103.2 99.5l17.6 -22l116.3 -105.2l-114.3 95.6l44.1 -29.8l45.8 -47.8l-123.7 113.4l9.7 -3.6l50.9 -49.8l34.9 -41.7l-26.7 33.5l-8.7 14.5l19.4 -21.2l-66 59.7l46.6 -35.5l18.6 -32.6l9.2 0.8l21.7 -15.1l-48.6 43.5l-6.2 -2.1l40 -34.9l-70.8 57.3l65.2 -68.9l22.5 -4.2l-22.2 26l-57 51.6l69.8 -63.6l-72.1 58l9.1 -0.6l-1.6 -1.6l-17 14.1l73.3 -76l-74.7 63.9l38 -21.2l74.6 -63.4l-65.8 62l80.7 -85.1l-68.5 62.1l-35.9 31.2l-39.3 40.7l76 -60.4l-13.7 5.8l-1.2 -3.4l-42.1 41.7l-22.4 15.5l55.9 -45.6l22.1 -14l-47.2 42.6l119 -112.4l-142 118.5l58 -47.6l-77.9 75.8l105.4 -89.7l-29 24.5l-15.3 17.1l-63 47.2l101.2 -84.3l-80.3 72.4l23.7 -26.1l-18.9 10.6l122.1 -101.6l-111.1 89.9l3.7 -1.9l-30 22l39.1 -17.1l-20.5 11.3l78.5 -63.3l22.9 -36.5l-62.7 52.8l-5.2 13.4l-54.4 50.9l87.2 -80.7l-67.5 56.4l4.9 6.4l29.4 -39.9l0.4 11l-28.8 31.7l114.3 -108.7l-89.4 85.3l-61.6 44.1l154.6 -129.8l-123.5 106.9l16.7 -11.3l-24.8 21.9l121.9 -119.6l-83.6 88l-29.3 24.7l0.4 -0.8l62.1 -58.2l-22.9 27.9l65.9 -69.3l-44 31.5l26.1 -7l-25.8 21.5l-31.6 20.2l17.8 -10.1l85.7 -82l-125.4 102.2l-12.4 26.6l37.6 -44.9l-16.7 30.2l21.4 -22.5l61.6 -55.5l-37.5 29.5l-74.9 71.6l111.9 -114.7l-123.5 106l50.1 -33.3l26.3 -13.9l-43.2 29.9l112.7 -116.7l-96.3 113.2l25.2 -28.1l34.5 -32.1l3.1 -21.9l-89.2 95.3l-6.2 4.3l140.9 -124.8l-142 126.9l69.5 -56.9l-73.4 61.6l78 -64.9l44.1 -39.1l-132.7 120.2l42.4 -37.5l9.5 -11.8l61.5 -58.2l4 -9.3l-102.5 79.3l76 -51.5l-8.9 12.8l19 -18.5l-66.4 58.7l-26.7 21.7l89.9 -77.3l-30.8 34.7l76.8 -81l-39.6 45.7l-46.9 42.8l35.6 -33.2l-39 24.7l-48.1 49.3l-3.7 1.1l-14.3 2.9l113.2 -84l-66.8 47l27.2 -19.9l40.7 -29.4l49.9 -50.2l-50.5 40.6l36.9 -30.7l-89.5 81.8l64.6 -51.7l-90.7 79.3l39.6 -31.4l46.1 -43.6l18.5 -19.1l-86.1 78.2l-36.1 28.7l59.4 -61.2l72 -53l-117.5 102.4l-5.8 6.8l82.5 -77l8.2 -7.5l43.4 -38.2l-12 13.9l-79.1 75.5l97.5 -100.4l-147.4 126.8l111.6 -104.7l-46.5 60.2l23.8 -26.9l13.8 -6.4l-13.9 10.9l-3.5 -4.3l-65.3 62.5l-0.8 0.5l-5.1 11.5l65.2 -55.5l-0.3 -15.9l32.8 -17l-104.8 94.6l31 -27.3l-58.6 35.3l106.6 -79.9l-44.8 34.5l110.5 -107.5l-56.8 49l-78.8 86.4l73.8 -63.9l55.3 -60.7l-96 85.6l3.6 7.8l14.1 -23.6l49.4 -38.1l-103.3 90.6l61.3 -45.4l-13.8 0.7l-40.7 34.5l15 -3.2l54.5 -63.4l11.5 -10.2l2.7 7l-102.7 86.9l44.9 -35.1l17.8 -16.9l-51.5 49.8l53.4 -56.9l62 -45.7l-33.4 8.4l-4.1 8.4l-35.9 50.8l-0.3 -12.6l-14.2 25.8l77.4 -70.7l-93.9 86.9l20.6 -36.2l-24.2 39.8l113 -108.5l-76.4 75.5l3.6 -12.7l-59.5 53.5l98.1 -83.3l39 -53.8l-97.4 110.6l26.4 -32.7l33.9 -45.9l-33.2 55.7l-16.3 9.3l26.1 -26.9l1.4 -1.9l-0.9 6.4l-12.8 9l3.5 -0.7l-8.2 7.1l2.6 -23.9l-36.3 41.8l45 -26.8l80.3 -75.6l-136.6 116.4l133.5 -126.8l-50.9 54.9l-67.1 64.5l-4.2 8.3l-7.1 1.9l35.5 -32.7l-50.5 45.4l62.8 -51.7l-51.5 30.1l-1.1 17.2l63.4 -69.5l46.6 -49.1l-108.2 112.7l66.8 -93.1l21.6 12.2l-29.5 19.3l-18.1 22.8l0 2.2l-34.2 25.7l-1.5 -7.4l-30.1 26l61.6 -39.2l20.3 -18.2l-14 17.3l-17.8 0.1l-4.1 10.2l88.7 -79.8l-139.1 124.6l69 -58.1l76.1 -68.5l-54.5 50.1l-77.5 71.1l82.2 -85.8l38.2 -35.4l-102.3 105.9l63.7 -68.8l6.8 8.4l2.7 -11.3l23.9 -17.6l0 -4.9l-52 55.7l24.8 -34.3l-34.6 29l23.8 -7.5l21.4 -22l-1.7 1.7l-106.1 95l31.8 -29.5l99.7 -88.9l-22.8 13.7l-13 12.8l-32.9 38.2l7 -8.3l-43 33.4l10.3 -11.7l98.5 -92l-50.3 41.5l18.7 -1.7l38.2 -46.5l-102.6 101.8l30.8 -33.1l72.9 -70.2l-12.3 8.6l-60.6 67.7l41.9 -34.9l-66.4 57.5l53.1 -51.4l11.4 -14l-22 21.5l1.4 7.1l-60.4 48.2l-2.6 -4.7l57.9 -51.9l-35.6 42.3l79 -69.6l-37.5 10.2l-82.4 83.9l61.6 -41.6l-49.1 42.3l95.5 -96.9l24.5 -14.5l-101.3 93l-3.9 6l68.7 -71.8l-67.9 72l108.4 -99.2l-5.2 -11.5l-49.3 62.1l-15.7 16.7l7.7 -6l32.3 -36.4l-54.4 46.7l6.5 -17l18.4 -0.7l2.8 -8.3l-72.9 72.3l66.5 -62.4l-2.7 1.4l-71.4 61.5l142.8 -125.4l-60.2 46.2l-37.7 29l2.5 1.5l48.1 -28.6l-75.3 62.5l17.3 -18.5l76 -73.6l-34.2 38.8l-43.7 42.3l-33.3 31.2l27.7 -28.9l-4.8 -10.8l55.8 -30l14.5 -27.8l-0.7 12.5l15.8 -19.7l-75.6 72l46.7 -42.6l-63.1 49.1l-23.5 24.4l18 7.4l-47.5 1.6l-11.2 -5.3l53.5 8.7l-16 -12.7l-32.1 1.5l49.2 -3.2l-22.8 10.4l-13.3 -11.7l18.2 8.1l-8.5 4.6l16.3 2.3l-22.8 -15.5l27.5 -2.6l-23.9 5.8l-42.9 4.4l60.1 -9.7l-40.1 15.5l-12.1 -14.4l57.9 3l24.2 11.8l-72.3 -7.9l19.9 1.2l-5.2 -1.1l-3.2 3.9l9.2 1.6l30.3 -2.7l-33.9 -7.6l13.7 18.9l183.4 -193.5l7.6 12.9l7.7 -6.7l0.5 7.6l4.4 3.7l-9.4 -30.2l-2.4 37.9l21.7 -43.3" marker-start="url(#mr)" marker-mid="url(#mr)" marker-end="url(#mr)"/>
<path fill="none" d="M838.5 1925.7l-87.2 92.6l28.1 -39.4l10.2 -16.7l75.1 -61.6l-51.2 36.2l25.7 -27.8l-93.2 108.8l-26.4 32.4l32.2 -31.1l107.5 -130.9l-132 152.5l119.3 -123.2l-113.9 115.2l26.2 -28.5l112.3 -127.7l-77.4 81l-60.9 84.1l88.8 -113.4l5.2 2.6l14.4 -14.9l-52.9 47.1l40.8 -32.8l5.9 -17.4l-23.2 31.6l11.2 -11.9l-108 125.6l91.8 -109.1l-40.6 58.7l11.7 -21.3l43.2 -56.9l-74.5 99.9l58.9 -72.8l-31.6 43.1l-48.9 39.2l137.3 -149.6l-54 91.6l41.2 -81.7l-85.3 101.1l-21.6 22.6l39.9 -45.7l47.9 -52.1l-97.7 109.9l17.7 -20.6l40.3 -52.5l40.9 -31.2l38.9 -45.1l-120.8 132.5l93.8 -99.9l-30 15.2l-69.1 88.3l37 -38.9l59.4 -61.7l-27.6 15.6l40.1 -40.9l-66.2 81.4l-64.2 75.6l40.4 -42l-40.3 30.9l32.6 -19.4l82.7 -104.8l-74.7 77.7l56.2 -44.3l-64.1 71.3l59 -84.5l-26.2 30l-69.3 90.1l50.3 -72.7l-15.7 30.8l11.8 -21l72.9 -86.3l-102.3 122.4l0.5 -5.9l122 -131.5l-19.7 14.5l17 -7.2l-40.3 33.8l-49.9 54.7l-20.2 37l9 -19.1l84.5 -86.3l8.3 -18.9l-86.6 93.6l1.7 5.4l1.2 2l-42.3 50.9l62.8 -85.5l-69.7 85.9l68.2 -83l35.2 -21.4l21.5 -30.5l-92.6 104.9l-7 -3.1l44.3 -34.8l81.9 -92.5l-89.7 88.7l82 -72.3l-116.5 113.8l42.2 -54.3l-26.4 36.4l115.2 -130.8l-77.3 80.2l-14.7 20.8l74.5 -72l-17.5 17.6l-84.5 86.9l39 -23.1l30.8 -52.3l-64.8 67.2l79.4 -86.7l2.2 -5.5l-85.3 98.1l96.7 -92.4l-80.4 70.5l46.4 -55.1l-4 14.3l-40.7 44.3l-53.8 56.9l98.8 -106.8l-13.6 16.7l-35.6 39.8l100.9 -112.6l-91.3 101.3l24.3 -37.5l-32.2 41.7l17.8 -20.4l-13.9 22.7l73.2 -87.3l-104.8 123.7l60.3 -73.9l62.7 -52l5.9 -20.1l-38 41.6l-60.4 80.7l48.3 -73.3l-69.6 83.8l112.3 -109.1l-26.5 31.8l33 -45.3l-109.8 112l96.2 -108.8l-34.5 41.2l-42.2 41.7l27.4 -24.9l2.7 -3.2l-81.2 87.3l57.4 -63.7l15.1 -17.8l38.2 -32.9l-48.8 43.9l57.3 -59.6l-47.3 47.9l-73.1 84.3l130.1 -140.6l-69 77l-26.6 23.3l-28.8 33.2l80.6 -96.8l29 -21l-87.8 96.6l1.7 0.2l67 -84.6l54.6 -47.1l-53.3 44.6l-70.2 83.4l99.9 -91.8l-54.9 44.1l-77.8 87.6l104.8 -119.5l-84 90.5l58.1 -51.9l0.9 -0.1l47.9 -52.6l-109.9 111.7l45.1 -53.9l85.1 -86.7l-4 5.2l5.2 1.8l-82 83.5l-11.9 7.8l-47.7 61.5l134.4 -152l-46.8 38.8l-99.8 124.6l146.5 -171l-110.5 122.7l62 -67.5l-63.7 70.3l-1.3 1l103.9 -114.7l-31.2 28.1l-7.3 9.3l-49 69.5l-22.1 26.4l-15.3 11.7l77.9 -79.1l-88.7 86.8l47.9 -51.3l-3.9 -4.6l26.9 -24l-3.1 3.3l45.9 -40.5l-88.5 96.2l17 -31.3l37.5 -45.6l59.2 -57.6l-127.6 152l22 -35.9l6.7 5.2l91.3 -90.1l-99.7 96.1l36.6 -51.5l-4.2 12.8l-41 37.2l106.6 -115.2l-70.2 91.3l49.9 -73.5l27.3 -21.8l-74.9 82.8l45.1 -53.2l-18 16.7l-4.4 5.2l-13.3 23.5l66.1 -81.5l-6.3 12.8l-48 57.6l-10.5 -0.1l-35.6 46.9l93.9 -106.9l-45.7 57.1l-70.7 82.3l39.8 -50.7l69.1 -77l-69.8 80.4l48.6 -52l-22.4 12l3.8 0.1l-54.1 62.8l92.8 -111.4l-103.7 117.3l52 -59.3l-55.8 69.3l118.9 -135.6l-106.6 129.4l-6.9 -4.3l102.2 -112.5l-42.6 45l-73.6 81.5l46.4 -47.8l56.7 -61.2l-11.2 2l20.6 -11.7l-34.2 33.5l67.2 -75.7l-84 95.3l-29.7 29.8l21.4 -21.9l37.6 -42l-46.5 50.5l72.3 -76.4l-17.7 18.6l-35.3 48.7l72.1 -87.4l-121.9 135.6l24.6 -19.7l102.8 -116.1l-121.2 135.5l5.7 -10.3l-14.1 12.3l110.2 -113.6l-96.9 120.5l-3.7 -21.6l101.1 -104.2l6.3 -16.2l-1.1 21.1l-89.9 85.3l-10.3 16l57.4 -70.2l-52.1 74.3l-24.5 19.5l43.9 -62.8l102.7 -87.9l-103.7 92.9l-36.9 52.3l140.2 -155.6l-149.6 158.9l58.7 -72.4l-63.1 80.9l68.1 -60.3l-9.6 -16.4l36 -38.3l-28.6 38.5l-24.3 33.6l-23.4 17.4l-18 16.9l78.8 -90.5l-65.7 82l105 -112.9l-64.8 59.4l3.5 1.1l-56.4 62.8l25.7 -23.9l-22.8 21.4l103.1 -114.4l-8.6 4.5l-2.3 -0.6l-82.1 99.6l55.3 -59.4l-62.1 72.9l136.8 -151.6l-44.1 47.4l-57.1 58.5l74.6 -83.5l-23.8 30.9l49.8 -49.5l-142.1 155.2l101.5 -122.2l-65.2 75.9l52.8 -51.5l42.6 -58.3l-122.2 138.2l7.4 -4l121.9 -140.4l-66.7 70.9l-4.4 22.1l-49.6 48.3l22.3 -10.3l29.6 -62.8l-39.7 47.7l62.2 -66.6l-40.8 60.7l6.1 -26.4l75.5 -80l-65.1 82.4l-32.5 27.3l111.7 -112.4l-114.6 128.2l-16 10.9l119.9 -130.5l-14.8 22.3l-96.9 89.9l7.5 0.6l36.4 -41.9l-71 76.1l48.9 -59.9l47.5 -50.2l-38.4 38.3l-45.8 58.4l133.9 -143.2l-81.8 82.3l37.9 -39l6.3 2.3l-43.4 43.9l-26.9 22l9.6 -2.3l-19.1 12.3l17.1 -13.1l-26.7 42.5l44.9 -64.7l47.1 -54.8l-67.5 87.4l-33 32.2l86.6 -99.7l50.7 -56.4l-90.9 101.5l30.7 -38.4l-64.3 71l49.3 -47.3l16.2 -31.1l-33 48.6l-45.3 45.9l54 -67.1l39.8 -42.7l-87.5 103.6l69.4 -84.2l16 -18.9l-20.2 24.5l21.5 -24.8l25.4 -26.4l-35.7 38.6l-99.3 120.6l138 -160.4l-126.6 147.6l41 -53.7l71.4 -75.8l-106.3 120l57.1 -68.4l-36.5 39.4l52.5 -50.8l-75.6 80.6l114.8 -132.2l-49.1 75.5l-1.7 -12.7l-23.6 35.3l12.8 -29.5l20.8 -17.7l-42 43.6l103.1 -104.8" marker-start="url(#mb)" marker-mid="url(#mb)" marker-end="url(#mb)"/>
<path d="M572.6 1753.5 V2145.8 H977.3" fill="none" stroke="#222" stroke-width="1.5"/>
<line x1="560.6" y1="2099.6" x2="572.6" y2="2099.6" stroke="#222" stroke-width="1.5"/>
<text x="547.6" y="2107.6" font-size="22.5" text-anchor="end">0</text>
<line x1="612.1" y1="2145.8" x2="612.1" y2="2157.1" stroke="#222" stroke-width="1.5"/>
<text x="612.1" y="2186.8" font-size="22.5" text-anchor="middle">0</text>
<line x1="560.6" y1="1980.5" x2="572.6" y2="1980.5" stroke="#222" stroke-width="1.5"/>
<text x="547.6" y="1988.5" font-size="22.5" text-anchor="end">5</text>
<line x1="731.2" y1="2145.8" x2="731.2" y2="2157.1" stroke="#222" stroke-width="1.5"/>
<text x="731.2" y="2186.8" font-size="22.5" text-anchor="middle">5</text>
<line x1="560.6" y1="1861.4" x2="572.6" y2="1861.4" stroke="#222" stroke-width="1.5"/>
<text x="547.6" y="1869.4" font-size="22.5" text-anchor="end">10</text>
<line x1="850.3" y1="2145.8" x2="850.3" y2="2157.1" stroke="#222" stroke-width="1.5"/>
<text x="850.3" y="2186.8" font-size="22.5" text-anchor="middle">10</text>
<text x="595" y="1815.1" font-size="26.5">SOG control</text>
<text x="595" y="1846.3" font-size="26.5"><tspan font-style="italic">n</tspan> = 10,827</text>
<text x="595" y="1877.3" font-size="26.5"><tspan font-style="italic">R</tspan><tspan font-size="17" dy="7">s</tspan><tspan dy="-7"> = 0.88</tspan></text>
<text x="972.6" y="2095.6" font-size="27" text-anchor="end" fill="#e9553a">Enriched (391)</text>
<text x="972.6" y="2126.8" font-size="27" text-anchor="end" fill="#9ccbe6">Depleted (398)</text>
<text x="775.6" y="2230.8" font-size="27.5" text-anchor="middle">Cytoplasmic mRNA log<tspan font-size="18" dy="7">2</tspan><tspan dy="-7">(RPM)</tspan></text>
<text x="0" y="2295" font-size="39" font-weight="bold" stroke="#000" stroke-width="1.6" paint-order="stroke">e</text>
<text x="655" y="2295.5" font-size="39" font-weight="bold" stroke="#000" stroke-width="1.6" paint-order="stroke">f</text>
<text x="237.5" y="2339.5" font-size="28.3" text-anchor="end">Parental</text>
<text x="237.5" y="2382" font-size="28.3" text-anchor="end">SOG control</text>
<text x="237.5" y="2424.5" font-size="28.3" text-anchor="end">OG control</text>
<text x="237.5" y="2467" font-size="28.3" text-anchor="end">SOG induced</text>
<text x="237.5" y="2509.5" font-size="28.3" text-anchor="end">OG induced</text>
<rect x="249" y="2310" width="70" height="40" fill="#abd08c"/>
<text x="284" y="2339.5" font-size="27.5" text-anchor="middle">1</text>
<rect x="249" y="2352.5" width="70" height="40" fill="#c6e0b1"/>
<text x="284" y="2382" font-size="27.5" text-anchor="middle">0.75</text>
<rect x="320.5" y="2352.5" width="70" height="40" fill="#abd08c"/>
<text x="355.5" y="2382" font-size="27.5" text-anchor="middle">1</text>
<rect x="249" y="2395" width="70" height="40" fill="#c6e0b1"/>
<text x="284" y="2424.5" font-size="27.5" text-anchor="middle">0.75</text>
<rect x="320.5" y="2395" width="70" height="40" fill="#cae2b7"/>
<text x="355.5" y="2424.5" font-size="27.5" text-anchor="middle">0.72</text>
<rect x="392" y="2395" width="70" height="40" fill="#abd08c"/>
<text x="427" y="2424.5" font-size="27.5" text-anchor="middle">1</text>
<rect x="249" y="2437.5" width="70" height="40" fill="#cfe5bd"/>
<text x="284" y="2467" font-size="27.5" text-anchor="middle">0.69</text>
<rect x="320.5" y="2437.5" width="70" height="40" fill="#cee4bc"/>
<text x="355.5" y="2467" font-size="27.5" text-anchor="middle">0.70</text>
<rect x="392" y="2437.5" width="70" height="40" fill="#cfe5bd"/>
<text x="427" y="2467" font-size="27.5" text-anchor="middle">0.69</text>
<rect x="463.5" y="2437.5" width="70" height="40" fill="#abd08c"/>
<text x="498.5" y="2467" font-size="27.5" text-anchor="middle">1</text>
<rect x="249" y="2480" width="70" height="40" fill="#ffffff"/>
<text x="284" y="2509.5" font-size="27.5" text-anchor="middle">0.35</text>
<rect x="320.5" y="2480" width="70" height="40" fill="#fafcf8"/>
<text x="355.5" y="2509.5" font-size="27.5" text-anchor="middle">0.38</text>
<rect x="392" y="2480" width="70" height="40" fill="#f1f7ec"/>
<text x="427" y="2509.5" font-size="27.5" text-anchor="middle">0.45</text>
<rect x="463.5" y="2480" width="70" height="40" fill="#f0f6eb"/>
<text x="498.5" y="2509.5" font-size="27.5" text-anchor="middle">0.46</text>
<rect x="535" y="2480" width="70" height="40" fill="#abd08c"/>
<text x="570" y="2509.5" font-size="27.5" text-anchor="middle">1</text>
<path d="M319 2309.5H605" stroke="#f2f2f2" stroke-width="1"/>
<text transform="translate(291.5 2530) rotate(-90)" font-size="28.5" text-anchor="end">Parental</text>
<text transform="translate(363 2530) rotate(-90)" font-size="28.5" text-anchor="end">SOG control</text>
<text transform="translate(434.5 2530) rotate(-90)" font-size="28.5" text-anchor="end">OG control</text>
<text transform="translate(506 2530) rotate(-90)" font-size="28.5" text-anchor="end">SOG induced</text>
<text transform="translate(577.5 2530) rotate(-90)" font-size="28.5" text-anchor="end">OG induced</text>
<rect x="656" y="2310" width="70" height="40" fill="#abd08c"/>
<text x="691" y="2339.5" font-size="27.5" text-anchor="middle">1</text>
<rect x="656" y="2352.5" width="70" height="40" fill="#add18f"/>
<text x="691" y="2382" font-size="27.5" text-anchor="middle">0.96</text>
<rect x="727.5" y="2352.5" width="70" height="40" fill="#abd08c"/>
<text x="762.5" y="2382" font-size="27.5" text-anchor="middle">1</text>
<rect x="656" y="2395" width="70" height="40" fill="#b3d597"/>
<text x="691" y="2424.5" font-size="27.5" text-anchor="middle">0.92</text>
<rect x="727.5" y="2395" width="70" height="40" fill="#b5d699"/>
<text x="762.5" y="2424.5" font-size="27.5" text-anchor="middle">0.91</text>
<rect x="799" y="2395" width="70" height="40" fill="#abd08c"/>
<text x="834" y="2424.5" font-size="27.5" text-anchor="middle">1</text>
<rect x="656" y="2437.5" width="70" height="40" fill="#b7d79c"/>
<text x="691" y="2467" font-size="27.5" text-anchor="middle">0.90</text>
<rect x="727.5" y="2437.5" width="70" height="40" fill="#b5d699"/>
<text x="762.5" y="2467" font-size="27.5" text-anchor="middle">0.91</text>
<rect x="799" y="2437.5" width="70" height="40" fill="#b3d597"/>
<text x="834" y="2467" font-size="27.5" text-anchor="middle">0.92</text>
<rect x="870.5" y="2437.5" width="70" height="40" fill="#abd08c"/>
<text x="905.5" y="2467" font-size="27.5" text-anchor="middle">1</text>
<rect x="656" y="2480" width="70" height="40" fill="#bddaa4"/>
<text x="691" y="2509.5" font-size="27.5" text-anchor="middle">0.86</text>
<rect x="727.5" y="2480" width="70" height="40" fill="#c0dca8"/>
<text x="762.5" y="2509.5" font-size="27.5" text-anchor="middle">0.84</text>
<rect x="799" y="2480" width="70" height="40" fill="#b2d496"/>
<text x="834" y="2509.5" font-size="27.5" text-anchor="middle">0.93</text>
<rect x="870.5" y="2480" width="70" height="40" fill="#bbd9a1"/>
<text x="905.5" y="2509.5" font-size="27.5" text-anchor="middle">0.87</text>
<rect x="942" y="2480" width="70" height="40" fill="#abd08c"/>
<text x="977" y="2509.5" font-size="27.5" text-anchor="middle">1</text>
<path d="M726 2309.5H1012" stroke="#f2f2f2" stroke-width="1"/>
<text transform="translate(698.5 2530) rotate(-90)" font-size="28.5" text-anchor="end">Parental</text>
<text transform="translate(770 2530) rotate(-90)" font-size="28.5" text-anchor="end">SOG control</text>
<text transform="translate(841.5 2530) rotate(-90)" font-size="28.5" text-anchor="end">OG control</text>
<text transform="translate(913 2530) rotate(-90)" font-size="28.5" text-anchor="end">SOG induced</text>
<text transform="translate(984.5 2530) rotate(-90)" font-size="28.5" text-anchor="end">OG induced</text>
<text x="534.5" y="2345.8" font-size="27.5" text-anchor="middle">SG</text>
<text x="534.5" y="2376.6" font-size="27.5" text-anchor="middle">mRNAs</text>
<text x="936" y="2346.9" font-size="28" text-anchor="middle">Cytoplasmic</text>
<text x="936" y="2377.5" font-size="27.5" text-anchor="middle">mRNAs</text>
<defs>
<marker id="mgk" viewBox="0 0 6 6" refX="3" refY="3" markerWidth="6" markerHeight="6" markerUnits="userSpaceOnUse"><circle cx="3" cy="3" r="2.2" fill="none" stroke="#6a625f" stroke-width="0.45"/></marker>
<marker id="gb" viewBox="0 0 6 6" refX="3" refY="3" markerWidth="6" markerHeight="6" markerUnits="userSpaceOnUse"><circle cx="3" cy="3" r="2.1" fill="none" stroke="#9fcfe8" stroke-width="0.5" opacity="0.55"/></marker>
<marker id="gr" viewBox="0 0 6 6" refX="3" refY="3" markerWidth="6" markerHeight="6" markerUnits="userSpaceOnUse"><circle cx="3" cy="3" r="2.1" fill="none" stroke="#f0604e" stroke-width="0.5" opacity="0.55"/></marker>
</defs>
<text x="1111.5" y="1841.5" font-size="39" font-weight="bold" stroke="#000" stroke-width="1.6" paint-order="stroke">g</text>
<path d="M1328 2101h3v1h-3zM1328 2102h3v1h-3zM1328 2103h3v1h-3zM1329 2104h5v1h-5zM1328 2105h6v1h-6zM1328 2106h6v1h-6zM1328 2107h5v1h-5zM1328 2108h3v1h-3zM1341 2110h3v1h-3zM1341 2111h3v1h-3zM1341 2112h3v1h-3zM1324 2113h3v1h-3zM1324 2114h6v1h-6zM1324 2115h6v1h-6zM1321 2116h12v1h-12zM1321 2117h12v1h-12zM1338 2117h3v1h-3zM1320 2118h13v1h-13zM1338 2118h6v1h-6zM1320 2119h7v1h-7zM1329 2119h16v1h-16zM1320 2120h11v1h-11zM1332 2120h13v1h-13zM1321 2121h10v1h-10zM1332 2121h13v1h-13zM1321 2122h10v1h-10zM1332 2122h13v1h-13zM1325 2123h7v1h-7zM1334 2123h11v1h-11zM1325 2124h7v1h-7zM1334 2124h11v1h-11zM1326 2125h6v1h-6zM1334 2125h11v1h-11zM1326 2126h6v1h-6zM1335 2126h10v1h-10zM1326 2127h7v1h-7zM1334 2127h11v1h-11zM1326 2128h19v1h-19zM1327 2129h20v1h-20zM1321 2130h4v1h-4zM1328 2130h21v1h-21zM1321 2131h4v1h-4zM1328 2131h21v1h-21zM1321 2132h4v1h-4zM1329 2132h20v1h-20zM1322 2133h5v1h-5zM1329 2133h5v1h-5zM1336 2133h13v1h-13zM1321 2134h28v1h-28zM1321 2135h27v1h-27zM1321 2136h27v1h-27zM1321 2137h27v1h-27zM1321 2138h27v1h-27zM1320 2139h28v1h-28zM1319 2140h27v1h-27zM1319 2141h27v1h-27zM1319 2142h30v1h-30zM1319 2143h30v1h-30zM1319 2144h31v1h-31zM1319 2145h31v1h-31zM1319 2146h31v1h-31zM1319 2147h30v1h-30zM1319 2148h30v1h-30zM1319 2149h30v1h-30zM1319 2150h30v1h-30zM1319 2151h30v1h-30zM1318 2152h31v1h-31zM1318 2153h31v1h-31zM1318 2154h31v1h-31zM1318 2155h31v1h-31zM1318 2156h31v1h-31zM1319 2157h30v1h-30zM1319 2158h30v1h-30zM1319 2159h29v1h-29zM1319 2160h29v1h-29zM1319 2161h29v1h-29zM1319 2162h30v1h-30zM1319 2163h30v1h-30zM1319 2164h30v1h-30zM1319 2165h30v1h-30zM1319 2166h30v1h-30zM1319 2167h30v1h-30zM1319 2168h31v1h-31zM1319 2169h31v1h-31zM1319 2170h31v1h-31zM1318 2171h32v1h-32zM1318 2172h32v1h-32zM1318 2173h32v1h-32zM1319 2174h31v1h-31zM1319 2175h31v1h-31zM1319 2176h31v1h-31zM1318 2177h32v1h-32zM1318 2178h32v1h-32zM1318 2179h32v1h-32zM1318 2180h32v1h-32zM1318 2181h32v1h-32zM1318 2182h32v1h-32zM1319 2183h31v1h-31zM1318 2184h33v1h-33zM1318 2185h33v1h-33zM1318 2186h33v1h-33zM1318 2187h32v1h-32zM1318 2188h32v1h-32zM1318 2189h32v1h-32zM1318 2190h32v1h-32zM1318 2191h32v1h-32zM1318 2192h32v1h-32zM1318 2193h33v1h-33zM1318 2194h33v1h-33zM1319 2195h32v1h-32zM1318 2196h33v1h-33zM1318 2197h33v1h-33zM1318 2198h32v1h-32zM1318 2199h32v1h-32zM1318 2200h32v1h-32zM1318 2201h33v1h-33zM1318 2202h33v1h-33zM1318 2203h33v1h-33zM1318 2204h33v1h-33zM1318 2205h33v1h-33zM1318 2206h32v1h-32zM1318 2207h32v1h-32zM1318 2208h32v1h-32zM1318 2209h33v1h-33zM1318 2210h33v1h-33zM1318 2211h33v1h-33zM1318 2212h32v1h-32zM1318 2213h32v1h-32zM1318 2214h32v1h-32zM1318 2215h32v1h-32zM1318 2216h32v1h-32zM1318 2217h32v1h-32zM1318 2218h32v1h-32zM1318 2219h32v1h-32zM1318 2220h32v1h-32zM1318 2221h32v1h-32zM1318 2222h33v1h-33zM1318 2223h33v1h-33zM1318 2224h33v1h-33zM1318 2225h33v1h-33zM1318 2226h33v1h-33zM1318 2227h33v1h-33zM1318 2228h33v1h-33zM1318 2229h33v1h-33zM1318 2230h33v1h-33zM1318 2231h33v1h-33zM1318 2232h33v1h-33zM1318 2233h33v1h-33zM1318 2234h32v1h-32zM1318 2235h32v1h-32zM1318 2236h33v1h-33zM1318 2237h33v1h-33zM1318 2238h33v1h-33zM1318 2239h32v1h-32zM1317 2240h34v1h-34zM1317 2241h34v1h-34zM1317 2242h34v1h-34zM1317 2243h34v1h-34zM1317 2244h34v1h-34zM1318 2245h33v1h-33zM1318 2246h33v1h-33zM1318 2247h33v1h-33zM1318 2248h33v1h-33zM1318 2249h33v1h-33zM1318 2250h33v1h-33zM1318 2251h33v1h-33zM1318 2252h33v1h-33zM1318 2253h33v1h-33zM1318 2254h33v1h-33zM1318 2255h33v1h-33zM1318 2256h33v1h-33zM1318 2257h33v1h-33zM1318 2258h33v1h-33zM1318 2259h33v1h-33zM1318 2260h33v1h-33zM1318 2261h33v1h-33zM1318 2262h33v1h-33zM1318 2263h33v1h-33zM1318 2264h32v1h-32zM1318 2265h32v1h-32zM1318 2266h32v1h-32zM1318 2267h32v1h-32zM1318 2268h32v1h-32zM1318 2269h32v1h-32zM1318 2270h33v1h-33zM1318 2271h33v1h-33zM1318 2272h33v1h-33zM1318 2273h32v1h-32zM1318 2274h33v1h-33zM1318 2275h33v1h-33zM1318 2276h33v1h-33zM1318 2277h33v1h-33zM1318 2278h33v1h-33zM1318 2279h32v1h-32zM1318 2280h32v1h-32zM1318 2281h32v1h-32zM1318 2282h32v1h-32zM1318 2283h32v1h-32zM1319 2284h31v1h-31zM1318 2285h33v1h-33zM1318 2286h33v1h-33zM1318 2287h33v1h-33zM1318 2288h32v1h-32zM1318 2289h32v1h-32zM1318 2290h32v1h-32zM1318 2291h32v1h-32zM1318 2292h32v1h-32zM1318 2293h32v1h-32zM1318 2294h32v1h-32zM1318 2295h32v1h-32zM1318 2296h31v1h-31zM1318 2297h32v1h-32zM1318 2298h32v1h-32zM1318 2299h32v1h-32zM1318 2300h32v1h-32zM1318 2301h32v1h-32zM1318 2302h32v1h-32zM1318 2303h32v1h-32zM1318 2304h32v1h-32zM1318 2305h32v1h-32zM1318 2306h32v1h-32zM1318 2307h32v1h-32zM1318 2308h32v1h-32zM1318 2309h32v1h-32zM1318 2310h32v1h-32zM1318 2311h32v1h-32zM1318 2312h31v1h-31zM1318 2313h31v1h-31zM1319 2314h30v1h-30zM1319 2315h30v1h-30zM1319 2316h31v1h-31zM1319 2317h31v1h-31zM1318 2318h32v1h-32zM1318 2319h32v1h-32zM1318 2320h32v1h-32zM1318 2321h31v1h-31zM1318 2322h31v1h-31zM1318 2323h31v1h-31zM1318 2324h31v1h-31zM1319 2325h31v1h-31zM1319 2326h31v1h-31zM1319 2327h31v1h-31zM1320 2328h30v1h-30zM1320 2329h30v1h-30zM1319 2330h31v1h-31zM1318 2331h32v1h-32zM1318 2332h31v1h-31zM1318 2333h31v1h-31zM1318 2334h31v1h-31zM1319 2335h30v1h-30zM1320 2336h29v1h-29zM1321 2337h28v1h-28zM1320 2338h29v1h-29zM1320 2339h29v1h-29zM1319 2340h29v1h-29zM1319 2341h28v1h-28zM1319 2342h28v1h-28zM1319 2343h28v1h-28zM1320 2344h28v1h-28zM1320 2345h29v1h-29zM1320 2346h30v1h-30zM1319 2347h31v1h-31zM1319 2348h21v1h-21zM1341 2348h9v1h-9zM1319 2349h21v1h-21zM1342 2349h8v1h-8zM1321 2350h29v1h-29zM1321 2351h29v1h-29zM1321 2352h29v1h-29zM1323 2353h27v1h-27zM1323 2354h5v1h-5zM1333 2354h17v1h-17zM1323 2355h8v1h-8zM1333 2355h16v1h-16zM1323 2356h8v1h-8zM1333 2356h15v1h-15zM1324 2357h7v1h-7zM1335 2357h13v1h-13zM1325 2358h5v1h-5zM1335 2358h12v1h-12zM1325 2359h8v1h-8zM1336 2359h11v1h-11zM1326 2360h7v1h-7zM1336 2360h11v1h-11zM1326 2361h9v1h-9zM1336 2361h5v1h-5zM1342 2361h4v1h-4zM1327 2362h8v1h-8zM1336 2362h4v1h-4zM1328 2363h11v1h-11zM1329 2364h9v1h-9zM1341 2364h5v1h-5zM1333 2365h5v1h-5zM1341 2365h6v1h-6zM1333 2366h3v1h-3zM1340 2366h7v1h-7zM1340 2367h7v1h-7zM1340 2368h7v1h-7zM1341 2369h5v1h-5zM1341 2370h5v1h-5zM1330 2371h4v1h-4zM1330 2372h5v1h-5zM1330 2373h5v1h-5zM1330 2374h5v1h-5zM1330 2375h3v1h-3z" fill="#0b0707" filter="url(#sb)"/>
<path fill="none" d="M1320.9 2042.4l13.9 3l-14.4 6.7l19.7 7.9l2.2 1.9l-13.1 8l2.4 2l2 0.4l0.8 0.8l12.2 0.8l-9.3 0.3l1.7 0.7l-2.9 2.2l-5.2 0.1l-3.8 3.4l18 0.1l-12.5 3.1l0.2 1.3l1.4 0.4l10.1 0.2l2.7 2.9l-26.2 0l14.3 0.4l-6.3 0.8l3.5 3.9l-4.4 0l-1.1 0.3l10.8 0.1l-1.1 1.5l7.4 2.7l-16.5 1.2l0.3 0.4l3.6 0.2l-2.4 0l0.6 0.1l16.8 0.1l0.7 0.5l-23.5 0.2l16 0.4l-5.1 0l2.2 1.3l5.6 0.3l-11.8 0.9l15.7 0.1l-15.9 0.5l5.4 0l-6.2 0.4l14.6 0.1l-5.5 0.1l-12.7 0.6l0.3 0.2l4.7 0.2l-0.2 0.9l-1.1 0.2l12.5 0l-11 0l14.7 0.6l-10.3 0.2l10.2 0.2l-4.7 0.6l-12.9 0.3l13.5 0l-15.2 0.3l10.6 0.9l-12.2 0l15.1 0l-5.7 0.9l-13.3 0l11.1 0.1l2.8 0.2l8.9 0.2l-19.7 0.3l18.9 0l-16.1 0.9l16.7 0.3l-11.1 0.4l-7.3 0.2l-2.2 0.8l3.6 0.1l0.2 0.4l11.1 0.5l-13.5 0.1l20.6 0.1l-15.3 0.1l-3.7 0.1l3.4 0.6l-0.8 0.7l5 0.1l4.9 0.5l7.6 0.2l-23.9 0.1l16.6 0.2l-15.2 0.1l8.6 0.1l10 0l-19.1 0.2l6.2 0.2l5 0l2.3 0l4.4 0l-18.4 0.1l9.4 0l-2.3 0.4l14.6 0.5l-23.3 0.2l16.7 0.1l3.6 0.1l-18 0l20.1 0.2l-17.4 0.1l8.1 0.2l7.3 0.2l4.7 0.3l-21.8 0l3.1 0.1l7.3 0.1l-9.5 0.4l10.3 0.1l7.9 0.1l-17.2 0l11.1 0.3l4.7 0.6l-12.8 0.2l-1.4 0l2.7 0.1l-9.2 0.1l7.5 0.5l-8.4 0l22.1 0.1l-7.5 0.2l-10.6 0.7l2.9 0l16.8 0.2l-7 0.1l-16.2 0l14.8 0.2l10.8 0l-2.6 0.3l-14.5 0.1l-0.2 0.2l6 0.4l-3.5 0.3l-8.6 0.1l4.8 0l14.1 0l-13 0.1l-1.1 0.5l9.5 0.3l-16.6 0.3l14 0.3l9.5 0l-22.7 0.2l5.1 0l15.5 0.2l-6.2 0.4l-5 0.3l0.9 0.1l4 0.4l-5.7 0.1l4.1 0l3.1 0.1l5.8 0l-20.3 0l15.5 0.1l-7.7 0.1l11.4 0.4l-8.6 0.4l-1 0.1l-11 0.1l25.3 0l-10 0l8.9 0.1l-2.1 0l1.5 0.2l-15.1 0l14.6 0l0.8 0.3l-8.3 0.8l9 0l-23.4 0.3l-0.4 0l1 0.2l8.7 1.2l-6.5 0.1l3.6 0.3l0.1 0.3l7.6 0l-3.7 0.1l4.3 0.2l-13.6 0.1l2.5 0.1l19.8 0.1l-1.1 0l-15.6 0l1.6 0.1l0.2 0.1l3.5 0.1l-5.2 0.1l-8.8 0.1l6.2 0l-2.3 0l-0.6 0.1l7.4 0.1l-9.1 0.3l22.9 0.9l0.7 0.2l-25.5 0.7l24.4 0.4l-23.2 0.1l22.4 0.1l-22.4 0l1.2 1.4l-0.1 0.4l-0.7 0.7l0.4 0.5l0 0.2l22.8 0.1l1.8 0.1l-3.2 0l0 0.1l3.3 0.4l-25.6 0.2l-0.5 0.3l22.2 0.4l2.7 0.6l-25.1 0.3l26.5 0.6l-0.7 0l-25.3 0.3l25.9 1.7l-0.2 0.1l-26.6 0.4l0.8 0.2l24.5 0l1.2 0.5l-26.2 1.5l26.2 1.5l-25.8 0l25.9 0.2l-25.7 0.3l-0.3 0.4l0.6 1.1l-0.1 0.2l0 0.5l24.4 0.2l-24.4 0.3l-0.4 0.5l23.8 0.3l-23.5 0.4l0.1 0.7l23.9 0.4l0.3 0.3l-25.2 0.3l26.1 0l0.4 0.2l-25.9 0.6l25.3 0.2l-25.9 1l-0.1 0l0.3 0.3l25.2 1.1l-0.1 0.4l-24.9 0.5l-0.6 0.9l26.9 0l-1.4 0.4l-25.4 0.3l25.4 0.7l-25.5 0.3l26 0.1l0.6 0.6l-26.4 0.5l26.5 1.2l-26.2 0.1l25.1 1.3l0.2 0.1l-24.6 0.2l-0.4 0l25.9 0.1l-26.5 0.9l26.4 0.3l-25.9 1l-0.3 0.3l26.4 0.1l-0.1 0.5l-26.1 0.4l-0.2 0.3l-0.4 0.1l26.3 0.2l0.2 0.1l-26.2 0.8l26.2 0.1l-25.4 0.1l-0.1 0.6l25.4 0.7l0.2 1.7l-25.7 0.1l-0.5 0.4l26.3 0.4l-25.8 0.1l-0.6 0.3l0.6 0.3l-0.5 0.2l26.1 0.1l-26.3 0.3l0.6 0.2l0.4 0.9l-0.6 0.2l0.3 0.3l25.6 0.3l-26.1 0.1l26.5 0.7l-26.3 0.8l26.2 0.7l-0.1 0.4l0.1 0.2l-25.7 0l-0.8 0.1l0.2 0.7l26.4 0.1l-0.5 0.3l-26.3 0.2l26.4 0.2l-25.5 0.3l26 0.1l-25.9 0.1l-0.8 0.5l26.5 0.4l-0.2 0.6l0 1.5l0 0.3l-26.3 2.1l0.6 0.1l25.5 0l-26.3 0.1l1.1 0.4l-0.6 0.2l26.1 0.6l-26.3 0.9l26.1 0.5l-0.2 0.3l0.1 0.1l0.3 0.6l-0.2 0l-26.4 1.3l26.9 0l-26.6 0.6l26.2 0l-26.2 0.3l0.3 0l0 0l-0.4 0.2l0.9 0.2l-0.7 0.1l-0.2 0.1l-0.2 0l0 0.1l0 2.4l0.1 0.1l26.8 0.7l-0.4 0.1l0.3 0l-0.3 0.9l0.1 0.5l0.1 0.2l0 0.1l-0.5 0.1l0.6 0.2l-0.2 0.2l-26.5 0.1l26.5 0.3l-26.5 0.9l26.3 0l-26.2 0.4l-0.1 1l26.5 0.2l-26.5 0.4l-0.2 0.2l26.5 0.1l0.2 0.1l-0.1 1l-26.5 0.5l26.6 0.3l0.2 0.5l-0.5 0.3l-26.1 0l26.3 0.3l-0.1 0.6l-26.4 0.4l26.4 0.1l-0.1 1.1l-26.1 0l26.3 0.8l0.1 0.1l0.1 0.4l-26.7 0.4l0 1.7l26.7 0.1l-0.2 0.1l-26.5 0.3l26.3 0.6l0.4 0.3l-26.7 0.8l26.7 1.5l-0.1 1l-26.7 0.3l26.8 0.1l-0.4 1l0.2 0.3l-26.6 0.3l0.2 0.7l26.5 0.2l-0.1 0.4l-0.2 0.2l0.2 0l-26.5 0.1l0.1 0.6l-0.1 2.2l0.2 0.1l-0.1 0.3l0.1 2.3l26.7 0.7l-0.6 0.5l-0.1 0.1l0.1 0.9l-0.1 0.1l0.3 0.7l0.4 1.2l-26.8 0.1l-0.2 0.9l26.5 0.5l0.1 0l0 0.4l-26.4 0.3l26.6 0.1l-26.6 0.3l26.4 0.2l0.3 0.9l-26.8 0l26.7 0.7l-0.4 0.5l0.1 1.1l0.3 0.7l-26.7 0.2l26.2 0.3l-26.1 0l26.6 0.4l-0.1 0.1l-26.5 0.3l0 0.1l26.1 0.1l0.3 0l-26.4 0.1l0 0.1l26.1 0.1l-26.2 0.4l0.1 0.2l0 0.4l0 2.5l-0.2 0.1l0.1 0.8l0.1 0l-0.1 2.4l0.2 2.9l-0.2 0.3l0 1.6l0.1 0.1l-0.1 0.4l0.2 0l-0.1 0.6l0 1.8l-0.1 1.8l0 0.8l26.5 1.1l0 0.2l0.2 0.1l0.1 0l-26.6 0.7l26.4 0.2l0 0.7l0 0.6l0.1 0.9l-0.1 0l-26.5 1.1l26.3 0.2l-26.5 0.1l26.4 0.5l-26.4 0l0.1 0.4l26.6 0l-0.3 0.7l0.3 0.1l-0.2 0.5l-26.3 0.8l0 0.7l26.2 0.3l-26.4 0.3l26.4 0.1l0.3 0.1l-0.3 0.8l0 0.1l0.4 0.7l-0.1 1l0.1 0.2l-26.7 1.3l26.2 0.3l0.5 0.3l-26.8 0.2l26.3 0.2l0.2 0.5l-0.1 0.3l0.6 0.2l-0.4 0.3l-0.1 0.4l0.4 0.5l-26.8 0.7l0.2 0.8l-0.2 1.1l26.8 0.3l0.1 0.4l-26.2 0l0.5 0l-0.5 0.1l0.5 0.3l25.2 0.2l-0.2 0.7l0.7 0.2l-26 0.3l25.7 0.3l-25.9 0.4l0 0.2l25.7 0.3l0.4 0.8l-26.6 0.4l26.1 0.6l-25.6 0.1l25.9 0.1l-26.2 0l0.1 0.2l0.5 0.3l25.3 0.8l-25.7 0.1l25.7 0.1l0.5 0.2l-0.5 0l-26.3 2l26.4 0l0.3 1.8l-26.7 0.7l26.4 0.1l-26.4 0.4l25.2 0.4l0.6 0.1l0.6 0.4l-26.3 0.6l25.7 1l-0.6 0l1 0.9l-26.2 1.3l25.5 0.4l-25.4 0.4l26.2 0.2l0.4 0.6l-1.1 0.2l-25.5 0.7l0 0.1l26.4 0.7l0.2 2.2l0 1.4l-26.6 0.5l26.2 0.1l-0.1 0.4l0 0.7l-26.1 0l26.7 0.1l-26.9 0.7l26.9 0.8l-26.6 0.6l26.5 0.1l-26.7 0.6l26 0.1l-0.2 0.1l-0.2 0l-0.1 0.1l1.3 0.4l-26.9 0.2l25.7 0.2l0.5 0.1l-25.2 1.7l-1 0.7l25.7 0.1l-24.5 0.1l-0.8 0.3l0.4 0.3l-0.3 0.1l25.5 0.8l-0.5 0.1l-0.2 0.3l-24.8 1.2l25.4 1.1l0.5 0.9l-25.6 0l25.4 0.2l-0.6 0l-24.9 0.2l25.7 0.3l0.4 0.6l-26.2 0.3l0.6 0.3l0 0.2l25.6 0.2l-26 0.1l0.1 0.3l-0.4 0.2l0.3 0.1l-0.5 0.3l25.3 0.3l-25.1 0.6l25.8 0.4l-25.6 1l0.6 0.1l-0.9 0.5l0.7 0.8l0.9 0.1l-1.8 0.3l26.2 0.4l-24.5 0.1l23.7 0l-23.9 0.2l24 0.2l-25.3 1l26.4 0.1l-26.3 0.4l25.2 0l0.7 1l-1.1 0.5l0.1 0.5l-23.8 0.2l24.3 0.3l1 0.1l-0.2 0.8l-25.8 0.3l25.5 0.2l-25.2 0.6l-0.5 0.1l0.4 0.8l-0.7 0.1l0.2 0.7l25.2 0.1l0.2 0l-0.2 0.6l-23.1 0.8l-2.5 0.6l2.9 0l23.1 0.1l0.6 0.8l-0.9 0.4l1 0.1l-3.2 1l-21.3 0.2l24.5 0l-24 0.2l-0.2 0.3l21.2 0.1l1.4 0.9l0.2 0l-24.3 0.3l0.4 0.6l-0.9 0.3l1.3 0l-0.5 0.8l23.3 0.8l-0.1 0.2l-1.4 0.1l-22.8 0l22.8 1.3l-22.2 0.3l19.5 0.6l-19.4 0l17.2 0.1l1.9 0.2l2.2 0.1l-2.5 0l1.6 0.1l4.3 0.4l-1.9 0.1l-23.1 0.1l-0.3 0.1l26.3 0.6l-1.7 0.2l-0.3 0.2l-0.5 0.1l-4.4 0.1l6.7 0.2l-26 0.1l23.4 0.5l2.4 0.3l0.2 0.4l-25.7 0l0.8 0.1l15.7 0l9.1 0.5l-25.3 0.3l-0.1 0l22.1 0.4l-19.1 0.2l14.3 0.2l-3.9 0l-7.1 0.1l-2 0l15.1 0l5.9 0.1l-9.2 0.1l-6.9 0l-2.5 0.1l-4.3 0l10.5 0.1l-1.7 0.4l10.1 0.1l-16.6 0.1l11.4 0.1l8.7 0.3l-3.9 0l-2 0.2l6.6 0.1l-21.5 0.3l19.5 0.7l0 0.2l-15.1 0.1l6 0.2l-12.1 0.1l23.2 0.2l-9.8 0l-4.4 0l13.7 0.2l-23.1 0.3l13 0.1l-6 0l-7 0.1l23.3 0.1l-15.5 0.1l4.8 0.5l0.4 0.4l-12.4 0l22.3 0.5l-12.5 0.3l-7.1 0.1l-6.2 0.2l7.6 0.1l-2.6 0.2l1.2 0.1l16.3 0.3l3.3 0.4l-14.5 0.1l6.7 0l-1.5 0.4l8.4 0.1l-6.2 0.3l5.1 0l-1.7 0.2l-13.3 0.2l13.9 0l3.2 0l-17.5 0.2l-2.3 0l11.2 0l-10.7 0.7l6.2 0l5.4 0.1l0.7 0.5l-1.8 0.9l-9.6 0l3.1 0.1l-3.1 0l3.9 0.2l10.9 0l3.9 0.5l-15.8 0.1l12.6 0.1l-21.9 0l12.9 0.4l0.5 0.1l1 0.2l-6.8 0l-7.5 0l14 0.5l4.7 0.6l3.3 0.2l-12.1 0.1l-4.7 0l19.2 0.2l-7.1 0.4l-3.7 0.6l11.5 0l-3.8 0.2l1.4 0.4l-1.3 0.1l-19.9 0.1l19.7 0.3l-16.6 0.1l6.9 0l-10.3 0.3l20.2 0.3l-15.6 0.1l5.6 0.8l-5.3 0.6l12 0.1l4.2 0.7l-1.9 0.1l-15.9 0.1l19.5 0.3l-8.7 0.2l-4.4 0.1l-8 0l9.3 0.2l-2.2 0.3l14.3 0.1l-21.5 0.2l22.3 0.1l-3.8 0.8l-18.3 0.2l8.4 0.1l-1.1 0.9l-0.6 0.2l-1.3 0l-3 0.2l16.4 0.2l-20.6 0.9l6.7 0l14.2 1.9l-15 0.2l11.4 0.2l-12.4 0.8l11.9 1.6l-7.2 0.1l0.7 1l8.9 0.6l-1.8 1.2l-17.2 1l-2.6 0.9l23.1 0.1l-18 0.2l16.3 0.6l-7.7 0.2l0.6 0.3l-7.8 0.8l4.3 0.9l14.5 1.6l-8.6 3.1l-15.9 0.7l4.4 1.5l18.9 0.6l-12 0.3l10.4 2l-19.5 1.9l1.5 0.1l3.7 1.3l7.2 0.5l-14.8 1.6l23.5 4.6l-4.9 0.6l-4 5l3.3 3.3l1.4 2l-10.2 1l9.4 1.7l-3 1.2l8.4 4.8l-9.9 2.2l3 1.9l2.3 7l-15.3 4.5" marker-start="url(#mgk)" marker-mid="url(#mgk)" marker-end="url(#mgk)"/>
<path fill="none" d="M1267.6 2230.5l18.9 35.6l-3.5 6l-9.1 -34.9l9.8 11.4l-5.9 -10.1l3.3 -54l4.6 50.8l-4 6.4l-15.4 -49.1l14.1 74.2l-0.1 -16.9l-19.1 8.8l8.9 -10.3l-4 -61.8l7.9 110.2l-13.1 -83.8l3.9 67.8l13.1 6.9l-0.8 -37.4l-8.5 -1.6l10 5.6l-9.2 21l-1.3 -46.5l10.1 51.1l-15.1 -50l6.6 -57.6l-1.4 108.1l2.1 -41.2l-2.5 3.7l13.2 43.4l-20 -40.6l12.8 -25.4l-4.2 1l-3.8 6.7l14.7 33l5.5 -12.1l-0.9 20.1l-11.7 -53.9l9.8 50.1l-0.6 8.9l0.3 -13l-9.6 -59.8l12.8 86.5l-5.8 -65.4l3.7 3.3l-8.1 34.3l-1.9 -19.8l3 44.5l-9.5 -49.2l-5.3 -2.1l20.1 32.2l-19.5 -24.7l2.6 3.9l-4.6 -14.3l17 -3.4l-4.3 -9.9l-10.1 31l4 -18.2l3.4 -8l8.9 -20.4l-15.3 40.9l18 15.1l-6.2 4.9l5.8 -14.6l-21.6 42.6l25 -17.1l-20.4 -45.9l15.9 -35.3l-9.8 17l6.4 52.1l5.6 -48.2l-6.7 22.8l9.6 22.7l-3.2 -48.5l-0.8 10.9l1 0.3l-22 8.4l12.2 -10.6l12.1 33.4l-4.2 0.1l-4.1 7.7l-4.8 -39.1l-10.1 11l9 -13.1l12.3 34.2l-6.8 -1.4l-11.7 -6.9l19.2 -0.8l-23.5 6.5l3.2 -43.4l16.4 32.4l-0.8 73.4l-12.9 -52.4l6.3 -22.7l-5.3 2.5l-5.9 2.5l21.6 7.1l-0.7 -45.5l-7.3 60.9l0 -41l-1.4 -4.6l1.3 -1.1l0.4 -32l10.3 80.4l-2.2 -6.2l-9.8 -26.9l9.3 -4l-19 -1l11.3 32.5l-10.4 -7.7l11.4 -51l-10.7 23.3l14.4 0.1l3.2 -4.6l1.8 -25l-11.5 50.8l9 -12l-14.6 49.7l1.4 -32.5l15.8 -17.2l-2.9 -8.4l-13.3 35.6l8.1 16.6l-13 -13.4l12.5 32.9l-8.8 -26.9l-6.2 -24.1l7.8 -15.9l3.1 -25.9l-8.1 34l21.7 24.4l-22.5 -25.5l20.9 15.2l-23.4 -37.1l-0.4 -0.4l5.5 71.2l-0.6 -36.1l16 -61.2l-4.1 22.4l-13.8 37l11.3 72.9l-9.6 -96.2l15 8l-15.6 14.1l7.6 -25.1l11.4 13.8l-13.8 -7.7l-5.9 21.7l14.5 -2l-2.5 -14.5l-4 18.7l-7.3 22.6l12.8 1.6l6.9 -39.7l1.2 29.1l-20.3 1.1l15.8 -4.9l3.3 -35.6l-13.1 73.1l-4.3 9.7l18.2 -69.6l-15.7 10.6l-2.9 -44.3l0.3 46.9l5.1 30.5l6.4 -45.5l-6.5 -0.9l-0.4 -0.9l-5.9 -0.2l4.5 -47.2l15.4 65.8l-19.2 -19.5l-3.4 11.6l1.2 43.7l11.6 -13.3l7.6 -7.6l-22.1 -15.4l6.4 23.5l15.5 -68.4l-20 39.4l12.5 22.9l-2.7 -6.2l-6.5 -20.4l12.8 17.8l-14.3 11.6l-1.5 4.2l-1.5 -31.4l22.6 -45.9l-19.1 117.4l-1.4 -61.9l5.6 -10.8l-4.5 22.3l7.2 -79l-10.2 53.3l3.7 48.8l12.4 -51l-3.3 37.7l8.3 -51.5l-20.4 20.3l13.9 -30.5l-4 55.8l-4.6 -34.8l2.6 -32.5l11.7 49l3.5 20l-10.1 -17.3l0.9 -15l-14.4 15.4l-1.2 -21.2l13.8 -18.1l-12.7 51.5l23.5 18.6l-22.4 -16.8l0.1 18.3l12.1 -21.5l-2.7 -13.3l4.6 37.7l1 -45.1l-9.3 2.7l-3.2 40.2l7.4 -30l-8.7 31.7l8.8 -57.8l7.8 23.2" marker-start="url(#gb)" marker-mid="url(#gb)" marker-end="url(#gb)"/>
<path fill="none" d="M1406.7 2144l-18.7 31.7l8.3 46.7l-5.8 -1.7l11.4 -51.7l-11.8 70.4l13.1 -14.5l-4.8 6.9l-10.9 -16.7l-4.3 -56.8l10.5 79.6l11.9 20.3l-1.6 -3.9l-5 -17.1l-7 26l2.7 -4.9l7.2 -13.6l-0.7 -45.5l-11 8.4l10 20.7l-0.3 -24.7l-10.8 11.2l1.4 5.2l10 26.3l-10.8 -57.2l13.3 28.2l-5.5 6l-3.9 5.3l3.6 -17.4l-11.8 8.1l3.6 38.6l10.2 -21.3l-4.1 20.1l9.6 58.9l-3.5 -55.1l-15.5 -116.5l4.2 132.5l5.2 -56.4l-4.8 -29.3l-8.8 31.5l10 -2.1l-4.4 30.9l6 -10l-0.9 -0.3l1.8 15.5l-8.5 -34.7l14.9 -26.6l4 -9.4l-9.4 -27.5l-13.9 37.9l11.9 -52l2.3 65.8l-5.9 43.5l10.1 11.5l-18.1 -58l17.1 -20.2l-10.1 -3.1l3 30.6l-7.8 -44.3l-0.3 43.2l13 15.2l-4.1 -7.8l1.1 -8.6l-4.3 -18l7.1 62.8l-5.9 -5.7l3.5 -75.9l12.1 52.2l-23.5 -52.5l14.9 17.9l6.3 11.6l2.9 -30.7l-11.7 46.3l0 -27.7l4.6 -5.4l-11.2 -8.1l6.5 68.3l7.4 -31.5l-3.8 -52.6l-15.9 27l18.4 -22.2l-18.1 -6.2l20.2 72.8l-15 -19.4l6.8 -50.3l-0.4 31.1l5 48.4l-6.1 -45.5l0.7 1.7l11.6 31.7l-15.5 -4.8l6.9 -44.5l6.4 7.1l-0.4 61.8l-15.3 -6.2l18.6 -20.7l-24.5 -11l11 3.1l7.2 26l-1.1 -39.4l-7.3 80.2l1.9 -40.1l-11.6 -29.7l23.2 1l-4.8 3.8l-3.7 -16l3 6.1l-3.1 16.9l-13.9 -65.3l6.6 57.9l13.3 -74.1l-2.9 127.8l-8.5 -87.4l12.1 73.4l-12.7 15.1l14.6 -24.6l-1.4 66l-19.4 -81.7l5.2 -14.4l-2.7 31.5l18.3 -18.7l-1.7 -31.4l-16.4 37.1l-5.8 -53.6l16.7 57.1l-10 -88.8l-2.9 64.5l18.8 44.9l-16.4 -70.2l-4 16.2l18.5 59.3l-8.8 -117.9l-7.2 81.8l-4.8 -34.6l12.3 -51.4l-5 94.3l-4.4 1.2l15.6 -40.5l4 97.4l-5.9 -119.1l6.7 67.3l-4.9 -79l-6.2 6.8l-11.3 80.7l6.4 6.8l1.7 -88.5l6.8 85.4l-3.6 -43.2l-4.6 -15.3l5.5 -13.8l1.6 28.3l9.2 29.2l-3.2 -56.4l1.2 12.5l-14.7 -21.6l6.1 73.6l9.4 -89.4l-18.1 35.5l-1.3 29l12.9 -32.1l-9 24.3l2.6 60.5l5.5 -41l6.9 -34.3l-12.6 2.1l-4.8 1.9l1.7 34.2l15.4 9.6l-19 -20.8l17.1 -21.2l5.8 10.1l-11.5 -15.4l5 35.2l-0.7 -3.2l3.4 0.8l1.7 -11l-4.1 10.9l-2.9 -18.7l-7.1 13.9l-6.3 -61.9l-0.5 70.5l7.4 7.9l11 -47l-10.5 -42.4l3.8 62.3l4.9 36.2l-8.7 -67.7l13 62.3l-1.3 -34l-6.4 7.3l-4.2 31.3l12.5 -68.5l-12.3 16.2l1.8 17.1l-11.9 -15l12.7 50.2l3.9 -30.1l-2.5 -21.6l-0.5 -12.9" marker-start="url(#gr)" marker-mid="url(#gr)" marker-end="url(#gr)"/>
<line x1="1273.6" y1="2198.6" x2="1273.6" y2="2292.3" stroke="#a9d3ea" stroke-width="1.5"/>
<path d="M1255.1 2227.6 H1292.1 V2236.6 L1286.1 2245.6 L1292.1 2254.6 V2258.7 H1255.1 V2254.6 L1261.1 2245.6 L1255.1 2236.6 Z" fill="none" stroke="#a9d3ea" stroke-width="1.5"/><line x1="1261.1" y1="2245.6" x2="1286.1" y2="2245.6" stroke="#a9d3ea" stroke-width="2"/>
<line x1="1333.7" y1="2156" x2="1333.7" y2="2322.4" stroke="#111" stroke-width="1.2"/>
<path d="M1315.2 2218.7 H1352.2 V2238 L1352.2 2240 L1352.2 2242 V2261.5 H1315.2 V2242 L1315.2 2240 L1315.2 2238 Z" fill="#fff5ee" fill-opacity="0.63" stroke="#111" stroke-width="1.5"/><line x1="1315.2" y1="2240" x2="1352.2" y2="2240" stroke="#111" stroke-width="2"/>
<line x1="1393.9" y1="2149" x2="1393.9" y2="2288.8" stroke="#f04030" stroke-width="1.5"/>
<path d="M1375.4 2201.4 H1412.4 V2209 L1406.4 2217 L1412.4 2225 V2237.5 H1375.4 V2225 L1381.4 2217 L1375.4 2209 Z" fill="none" stroke="#f04030" stroke-width="1.5"/><line x1="1381.4" y1="2217" x2="1406.4" y2="2217" stroke="#f04030" stroke-width="2"/>
<path d="M1238 1860.7 V2489.3 H1440.2" fill="none" stroke="#333" stroke-width="1.5"/>
<line x1="1226" y1="2008.5" x2="1238" y2="2008.5" stroke="#333" stroke-width="1.5"/>
<text x="1214" y="2016.5" font-size="22.5" text-anchor="end">2.5</text>
<line x1="1226" y1="2162.5" x2="1238" y2="2162.5" stroke="#333" stroke-width="1.5"/>
<text x="1214" y="2170.5" font-size="22.5" text-anchor="end">0</text>
<line x1="1226" y1="2316.5" x2="1238" y2="2316.5" stroke="#333" stroke-width="1.5"/>
<text x="1214" y="2324.5" font-size="22.5" text-anchor="end">−2.5</text>
<line x1="1226" y1="2470.5" x2="1238" y2="2470.5" stroke="#333" stroke-width="1.5"/>
<text x="1214" y="2478.5" font-size="22.5" text-anchor="end">−5</text>
<path d="M1273.6 1875V1872H1393.9V1875" fill="none" stroke="#333" stroke-width="1.5"/>
<path d="M1273.6 1913.3V1910.3H1393.9V1913.3M1333.7 1910.3V1913.3" fill="none" stroke="#333" stroke-width="1.5"/>
<text x="1334.5" y="1862.5" font-size="35" text-anchor="middle">***</text>
<text x="1304" y="1901.5" font-size="35" text-anchor="middle">***</text>
<text x="1364" y="1901.5" font-size="35" text-anchor="middle">***</text>
<text transform="translate(1134 2174.7) rotate(-90)" font-size="29" text-anchor="middle">TE change log<tspan font-size="18" dy="6">2</tspan><tspan dy="-6">(OGs/blue-light control)</tspan></text>
<text transform="translate(1288.5 2516.5) rotate(-45)" font-size="28.5" text-anchor="end">OG depleted</text>
<text transform="translate(1346 2513.5) rotate(-45)" font-size="28.5" text-anchor="end">Neither</text>
<text transform="translate(1408.8 2516.5) rotate(-45)" font-size="28.5" text-anchor="end">OG enriched</text>
</svg>
</body></html>
